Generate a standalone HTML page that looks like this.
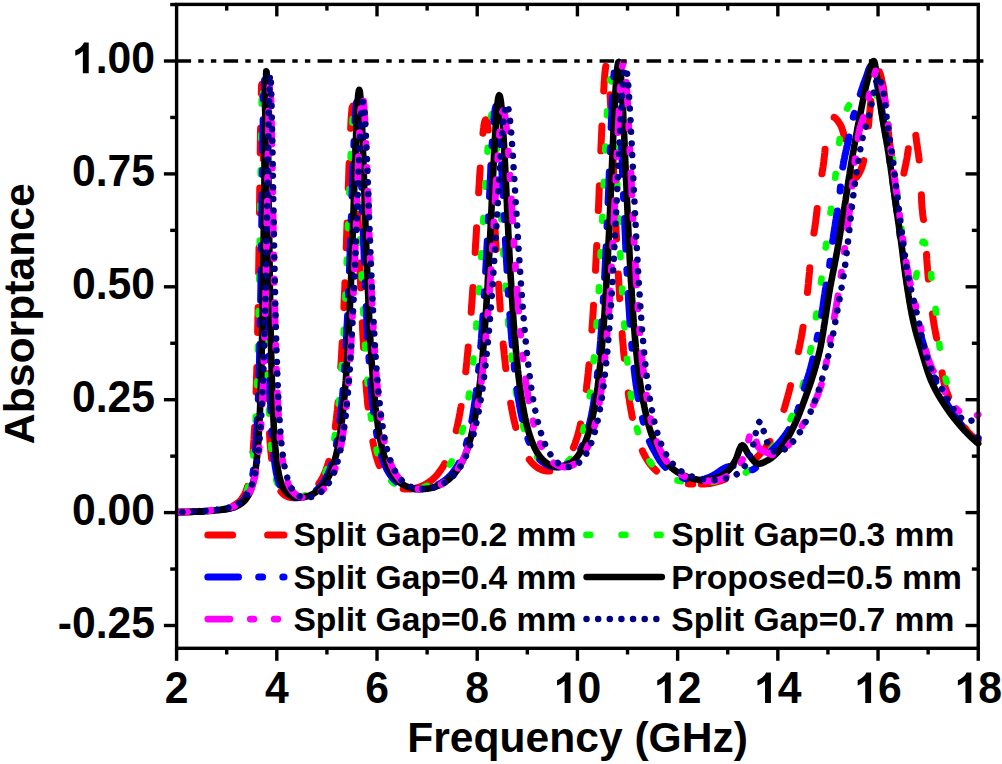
<!DOCTYPE html>
<html><head><meta charset="utf-8"><title>Absorptance vs Frequency</title>
<style>html,body{margin:0;padding:0;background:#fff;}body{width:1002px;height:764px;overflow:hidden;font-family:"Liberation Sans",sans-serif;}</style></head>
<body>
<svg width="1002" height="764" viewBox="0 0 1002 764" style="display:block;font-family:'Liberation Sans', sans-serif;font-weight:bold">
<rect x="0" y="0" width="1002" height="764" fill="#ffffff"/>
<defs><clipPath id="pc"><rect x="176.6" y="4.4" width="805.65" height="643.9"/></clipPath></defs>
<g clip-path="url(#pc)" fill="none" stroke-linejoin="round">
<path d="M176.6 512.1L177.0 512.1L177.3 512.1L177.7 512.1L178.1 512.1L178.4 512.1L178.8 512.1L179.2 512.1L179.5 512.1L179.9 512.1L180.2 512.1L180.6 512.0L181.0 512.0L181.3 512.0L181.7 512.0L182.1 512.0L182.4 512.0L182.8 512.0L183.2 512.0L183.5 512.0L183.9 512.0L184.3 512.0L184.6 512.0L185.0 511.9L185.3 511.9L185.7 511.9L186.1 511.9L186.4 511.9L186.8 511.9L187.2 511.9L187.5 511.9L187.9 511.9L188.3 511.8L188.6 511.8L189.0 511.8L189.4 511.8L189.7 511.8L190.1 511.8L190.5 511.8L190.8 511.7L191.2 511.7L191.5 511.7L191.9 511.7L192.3 511.7L192.6 511.7L193.0 511.7L193.4 511.6L193.7 511.6L194.1 511.6L194.5 511.6L194.8 511.6L195.2 511.6L195.6 511.5L195.9 511.5L196.3 511.5L196.7 511.5L197.0 511.5L197.4 511.4L197.7 511.4L198.1 511.4L198.5 511.4L198.8 511.4L199.2 511.3L199.6 511.3L199.9 511.3L200.3 511.3L200.7 511.3L201.0 511.2L201.4 511.2L201.8 511.2L202.1 511.2L202.5 511.1L202.8 511.1L203.2 511.1L203.6 511.1L203.9 511.0L204.3 511.0L204.7 511.0L205.0 511.0L205.4 510.9L205.8 510.9L206.1 510.9L206.5 510.8L206.9 510.8L207.2 510.8L207.6 510.7L208.0 510.7L208.3 510.7L208.7 510.7L209.0 510.6L209.4 510.6L209.8 510.6L210.1 510.5L210.5 510.5L210.9 510.4L211.2 510.4L211.6 510.4L212.0 510.3L212.3 510.3L212.7 510.3L213.1 510.2L213.4 510.2L213.8 510.1L214.1 510.1L214.5 510.1L214.9 510.0L215.2 510.0L215.6 509.9L216.0 509.9L216.3 509.8L216.7 509.8L217.1 509.7L217.4 509.7L217.8 509.6L218.2 509.6L218.5 509.5L218.9 509.5L219.3 509.4L219.6 509.4L220.0 509.3L220.3 509.3L220.7 509.2L221.1 509.2L221.4 509.1L221.8 509.0L222.2 509.0L222.5 508.9L222.9 508.9L223.3 508.8L223.6 508.7L224.0 508.7L224.4 508.6L224.7 508.5L225.1 508.4L225.4 508.4L225.8 508.3L226.2 508.2L226.5 508.1L226.9 508.0L227.3 508.0L227.6 507.9L228.0 507.8L228.4 507.7L228.7 507.6L229.1 507.5L229.5 507.3L229.8 507.2L230.2 507.1L230.6 507.0L230.9 506.8L231.3 506.7L231.6 506.5L232.0 506.4L232.4 506.2L232.7 506.1L233.1 505.9L233.5 505.7L233.8 505.5L234.2 505.3L234.6 505.1L234.9 504.9L235.3 504.7L235.7 504.5L236.0 504.2L236.4 504.0L236.8 503.7L237.1 503.5L237.5 503.2L237.8 502.9L238.2 502.6L238.6 502.3L238.9 502.0L239.3 501.6L239.7 501.3L240.0 500.9L240.4 500.5L240.8 500.1L241.1 499.6L241.5 499.2L241.9 498.7L242.2 498.2L242.6 497.7L242.9 497.1L243.3 496.5L243.7 495.9L244.0 495.2L244.4 494.6L244.8 493.8L245.1 493.0L245.5 492.2L245.9 491.3L246.2 490.4L246.6 489.4L247.0 488.4L247.3 487.2L247.7 486.0L248.1 484.7L248.4 483.3L248.8 481.8L249.1 480.2L249.5 478.5L249.9 476.6L250.2 474.6L250.6 472.4L251.0 469.9L251.3 467.3L251.7 464.4L252.1 461.3L252.4 457.8L252.8 454.0L253.2 449.8L253.5 445.2L253.9 440.0L254.2 434.2L254.6 427.8L255.0 420.6L255.3 412.5L255.7 403.4L256.1 393.2L256.4 381.6L256.8 368.6L257.2 353.8L257.5 337.1L257.9 318.4L258.3 297.4L258.6 274.2L259.0 248.7L259.4 221.4L259.7 192.9L260.1 164.3L260.4 137.2L260.8 113.6L261.2 95.7L261.5 85.5L261.9 84.1L262.3 91.8L262.6 107.5L263.0 129.5L263.4 155.6L263.7 183.7L264.1 212.2L264.5 239.8L264.8 265.6L265.2 289.3L265.6 310.8L265.9 330.0L266.3 347.1L266.6 362.2L267.0 375.6L267.4 387.5L267.7 397.9L268.1 407.2L268.5 415.5L268.8 422.8L269.2 429.3L269.6 435.2L269.9 440.4L270.3 445.1L270.7 449.3L271.0 453.1L271.4 456.6L271.7 459.7L272.1 462.6L272.5 465.2L272.8 467.6L273.2 469.8L273.6 471.8L273.9 473.6L274.3 475.3L274.7 476.8L275.0 478.3L275.4 479.6L275.8 480.8L276.1 482.0L276.5 483.1L276.9 484.0L277.2 485.0L277.6 485.8L277.9 486.6L278.3 487.4L278.7 488.1L279.0 488.8L279.4 489.4L279.8 490.0L280.1 490.5L280.5 491.0L280.9 491.5L281.2 491.9L281.6 492.4L282.0 492.8L282.3 493.1L282.7 493.5L283.0 493.8L283.4 494.1L283.8 494.4L284.1 494.7L284.5 495.0L284.9 495.2L285.2 495.5L285.6 495.7L286.0 495.9L286.3 496.1L286.7 496.2L287.1 496.4L287.4 496.6L287.8 496.7L288.2 496.8L288.5 497.0L288.9 497.1L289.2 497.2L289.6 497.3L290.0 497.3L290.3 497.4L290.7 497.5L291.1 497.5L291.4 497.6L291.8 497.6L292.2 497.7L292.5 497.7L292.9 497.7L293.3 497.7L293.6 497.7L294.0 497.7L294.4 497.7L294.7 497.7L295.1 497.6L295.4 497.6L295.8 497.6L296.2 497.5L296.5 497.5L296.9 497.5L297.3 497.4L297.6 497.3L298.0 497.3L298.4 497.2L298.7 497.1L299.1 497.1L299.5 497.0L299.8 496.9L300.2 496.8L300.5 496.7L300.9 496.6L301.3 496.5L301.6 496.4L302.0 496.3" stroke="#ff0000" stroke-width="7.0" stroke-linecap="round" stroke-dasharray="24.8 35" stroke-dashoffset="2.00"/>
<path d="M302.0 496.3L302.4 496.2L302.7 496.0L303.1 495.9L303.5 495.8L303.8 495.6L304.2 495.5L304.6 495.4L304.9 495.2L305.3 495.0L305.7 494.9L306.0 494.7L306.4 494.5L306.7 494.3L307.1 494.1L307.5 494.0L307.8 493.8L308.2 493.5L308.6 493.3L308.9 493.1L309.3 492.9L309.7 492.6L310.0 492.4L310.4 492.2L310.8 491.9L311.1 491.6L311.5 491.4L311.8 491.1L312.2 490.8L312.6 490.5L312.9 490.2L313.3 489.9L313.7 489.5L314.0 489.2L314.4 488.9L314.8 488.5L315.1 488.1L315.5 487.8L315.9 487.4L316.2 487.0L316.6 486.6L317.0 486.1L317.3 485.7L317.7 485.2L318.0 484.8L318.4 484.3L318.8 483.8L319.1 483.3L319.5 482.8L319.9 482.2L320.2 481.7L320.6 481.1L321.0 480.5L321.3 479.9L321.7 479.2L322.1 478.6L322.4 477.9L322.8 477.2L323.1 476.5L323.5 475.7L323.9 474.9L324.2 474.1L324.6 473.3L325.0 472.4L325.3 471.5L325.7 470.6L326.1 469.6L326.4 468.6L326.8 467.6L327.2 466.5L327.5 465.4L327.9 464.3L328.3 463.1L328.6 461.8L329.0 460.5L329.3 459.2L329.7 457.8L330.1 456.3L330.4 454.8L330.8 453.3L331.2 451.6L331.5 449.9L331.9 448.1L332.3 446.3L332.6 444.3L333.0 442.3L333.4 440.2L333.7 438.0L334.1 435.7L334.5 433.3L334.8 430.7L335.2 428.1L335.5 425.3L335.9 422.4L336.3 419.4L336.6 416.2L337.0 412.9L337.4 409.4L337.7 405.7L338.1 401.9L338.5 397.9L338.8 393.6L339.2 389.2L339.6 384.5L339.9 379.7L340.3 374.5L340.6 369.1L341.0 363.5L341.4 357.5L341.7 351.3L342.1 344.7L342.5 337.9L342.8 330.7L343.2 323.2L343.6 315.3L343.9 307.2L344.3 298.6L344.7 289.7L345.0 280.5L345.4 271.0L345.8 261.1L346.1 251.0L346.5 240.7L346.8 230.1L347.2 219.4L347.6 208.5L347.9 197.7L348.3 187.0L348.7 176.4L349.0 166.1L349.4 156.3L349.8 146.9L350.1 138.2L350.5 130.4L350.9 123.4L351.2 117.5L351.6 112.7L351.9 109.2L352.3 107.0L352.7 106.2L353.0 106.7L353.4 108.6L353.8 111.8L354.1 116.3L354.5 121.9L354.9 128.7L355.2 136.3L355.6 144.8L356.0 154.0L356.3 163.7L356.7 173.9L357.1 184.3L357.4 195.0L357.8 205.8L358.1 216.5L358.5 227.2L358.9 237.8L359.2 248.1L359.6 258.2L360.0 268.1L360.3 277.6L360.7 286.8L361.1 295.7L361.4 304.3L361.8 312.5L362.2 320.3L362.5 327.8L362.9 335.0L363.3 341.9L363.6 348.4L364.0 354.7L364.3 360.6L364.7 366.3L365.1 371.7L365.4 376.8L365.8 381.7L366.2 386.3L366.5 390.7L366.9 395.0L367.3 399.0L367.6 402.8L368.0 406.4L368.4 409.9L368.7 413.2L369.1 416.3L369.4 419.4L369.8 422.2L370.2 424.9L370.5 427.6L370.9 430.0L371.3 432.4L371.6 434.7L372.0 436.9L372.4 439.0L372.7 440.9L373.1 442.8L373.5 444.7L373.8 446.4L374.2 448.1L374.6 449.7L374.9 451.2L375.3 452.7L375.6 454.1L376.0 455.5L376.4 456.8L376.7 458.0L377.1 459.2L377.5 460.4L377.8 461.5L378.2 462.5L378.6 463.6L378.9 464.6L379.3 465.5L379.7 466.4L380.0 467.3L380.4 468.2L380.7 469.0L381.1 469.8L381.5 470.5L381.8 471.3L382.2 472.0L382.6 472.6L382.9 473.3L383.3 473.9L383.7 474.5L384.0 475.1L384.4 475.7L384.8 476.3L385.1 476.8L385.5 477.3L385.9 477.8L386.2 478.3L386.6 478.7L386.9 479.2L387.3 479.6L387.7 480.0L388.0 480.4L388.4 480.8L388.8 481.2L389.1 481.6L389.5 481.9L389.9 482.2L390.2 482.6L390.6 482.9L391.0 483.2L391.3 483.5L391.7 483.8L392.1 484.1L392.4 484.3L392.8 484.6L393.1 484.8L393.5 485.1L393.9 485.3L394.2 485.5L394.6 485.7L395.0 485.9L395.3 486.1L395.7 486.3L396.1 486.5L396.4 486.7L396.8 486.8L397.2 487.0L397.5 487.1L397.9 487.3L398.2 487.4L398.6 487.6L399.0 487.7L399.3 487.8L399.7 487.9L400.1 488.0L400.4 488.1L400.8 488.2L401.2 488.3L401.5 488.4L401.9 488.5L402.3 488.6L402.6 488.7L403.0 488.7L403.4 488.8L403.7 488.8L404.1 488.9L404.4 488.9L404.8 489.0L405.2 489.0L405.5 489.0L405.9 489.1L406.3 489.1L406.6 489.1L407.0 489.1L407.4 489.1L407.7 489.1L408.1 489.1L408.5 489.1L408.8 489.1L409.2 489.1L409.5 489.1L409.9 489.0L410.3 489.0L410.6 489.0L411.0 488.9L411.4 488.9L411.7 488.9L412.1 488.8L412.5 488.8L412.8 488.7L413.2 488.7L413.6 488.6L413.9 488.5L414.3 488.5L414.7 488.4L415.0 488.3L415.4 488.2L415.7 488.1L416.1 488.0L416.5 488.0L416.8 487.9L417.2 487.8L417.6 487.7L417.9 487.5L418.3 487.4L418.7 487.3L419.0 487.2L419.4 487.1L419.8 486.9L420.1 486.8L420.5 486.7L420.8 486.5L421.2 486.4L421.6 486.2L421.9 486.1L422.3 485.9L422.7 485.8L423.0 485.6L423.4 485.4L423.8 485.2L424.1 485.1L424.5 484.9L424.9 484.7L425.2 484.5L425.6 484.3L426.0 484.1L426.3 483.9L426.7 483.6L427.0 483.4L427.4 483.2" stroke="#ff0000" stroke-width="7.0" stroke-linecap="round" stroke-dasharray="24.8 35" stroke-dashoffset="38.36"/>
<path d="M427.4 483.2L427.8 483.0L428.1 482.7L428.5 482.5L428.9 482.2L429.2 482.0L429.6 481.7L430.0 481.4L430.3 481.2L430.7 480.9L431.1 480.6L431.4 480.3L431.8 480.0L432.2 479.7L432.5 479.4L432.9 479.1L433.2 478.7L433.6 478.4L434.0 478.1L434.3 477.7L434.7 477.3L435.1 477.0L435.4 476.6L435.8 476.2L436.2 475.8L436.5 475.4L436.9 475.0L437.3 474.6L437.6 474.2L438.0 473.7L438.3 473.3L438.7 472.8L439.1 472.3L439.4 471.8L439.8 471.4L440.2 470.8L440.5 470.3L440.9 469.8L441.3 469.3L441.6 468.7L442.0 468.1L442.4 467.6L442.7 467.0L443.1 466.4L443.5 465.7L443.8 465.1L444.2 464.5L444.5 463.8L444.9 463.1L445.3 462.4L445.6 461.7L446.0 461.0L446.4 460.2L446.7 459.4L447.1 458.6L447.5 457.8L447.8 457.0L448.2 456.2L448.6 455.3L448.9 454.4L449.3 453.5L449.6 452.5L450.0 451.6L450.4 450.6L450.7 449.6L451.1 448.5L451.5 447.5L451.8 446.4L452.2 445.3L452.6 444.1L452.9 442.9L453.3 441.7L453.7 440.5L454.0 439.2L454.4 437.9L454.8 436.5L455.1 435.1L455.5 433.7L455.8 432.3L456.2 430.7L456.6 429.2L456.9 427.6L457.3 426.0L457.7 424.3L458.0 422.6L458.4 420.8L458.8 419.0L459.1 417.1L459.5 415.1L459.9 413.1L460.2 411.1L460.6 409.0L461.0 406.8L461.3 404.6L461.7 402.3L462.0 399.9L462.4 397.5L462.8 395.0L463.1 392.4L463.5 389.7L463.9 387.0L464.2 384.1L464.6 381.2L465.0 378.2L465.3 375.2L465.7 372.0L466.1 368.7L466.4 365.4L466.8 361.9L467.1 358.3L467.5 354.7L467.9 350.9L468.2 347.0L468.6 343.0L469.0 338.9L469.3 334.7L469.7 330.4L470.1 325.9L470.4 321.4L470.8 316.7L471.2 311.9L471.5 307.0L471.9 302.0L472.3 296.8L472.6 291.5L473.0 286.2L473.3 280.7L473.7 275.1L474.1 269.4L474.4 263.6L474.8 257.7L475.2 251.7L475.5 245.7L475.9 239.6L476.3 233.4L476.6 227.2L477.0 221.0L477.4 214.7L477.7 208.5L478.1 202.3L478.4 196.1L478.8 190.1L479.2 184.0L479.5 178.2L479.9 172.4L480.3 166.8L480.6 161.4L481.0 156.2L481.4 151.3L481.7 146.6L482.1 142.2L482.5 138.1L482.8 134.4L483.2 131.1L483.6 128.2L483.9 125.6L484.3 123.5L484.6 121.9L485.0 120.7L485.4 120.0L485.7 119.7L486.1 119.9L486.5 120.6L486.8 121.8L487.2 123.4L487.6 125.4L487.9 127.9L488.3 130.8L488.7 134.1L489.0 137.7L489.4 141.7L489.8 146.0L490.1 150.7L490.5 155.5L490.8 160.7L491.2 166.0L491.6 171.5L491.9 177.2L492.3 183.1L492.7 189.0L493.0 195.0L493.4 201.1L493.8 207.3L494.1 213.4L494.5 219.6L494.9 225.8L495.2 231.9L495.6 238.0L495.9 244.0L496.3 250.0L496.7 255.9L497.0 261.7L497.4 267.4L497.8 273.1L498.1 278.6L498.5 284.0L498.9 289.3L499.2 294.5L499.6 299.6L500.0 304.6L500.3 309.4L500.7 314.1L501.1 318.7L501.4 323.2L501.8 327.6L502.1 331.9L502.5 336.0L502.9 340.0L503.2 344.0L503.6 347.8L504.0 351.5L504.3 355.1L504.7 358.6L505.1 362.0L505.4 365.2L505.8 368.4L506.2 371.5L506.5 374.6L506.9 377.5L507.2 380.3L507.6 383.1L508.0 385.7L508.3 388.3L508.7 390.9L509.1 393.3L509.4 395.7L509.8 398.0L510.2 400.2L510.5 402.4L510.9 404.5L511.3 406.5L511.6 408.5L512.0 410.4L512.4 412.3L512.7 414.1L513.1 415.9L513.4 417.6L513.8 419.2L514.2 420.9L514.5 422.4L514.9 423.9L515.3 425.4L515.6 426.9L516.0 428.2L516.4 429.6L516.7 430.9L517.1 432.2L517.5 433.4L517.8 434.6L518.2 435.8L518.5 437.0L518.9 438.1L519.3 439.2L519.6 440.2L520.0 441.2L520.4 442.2L520.7 443.2L521.1 444.1L521.5 445.0L521.8 445.9L522.2 446.8L522.6 447.6L522.9 448.4L523.3 449.2L523.7 450.0L524.0 450.7L524.4 451.5L524.7 452.2L525.1 452.9L525.5 453.6L525.8 454.2L526.2 454.8L526.6 455.5L526.9 456.1L527.3 456.6L527.7 457.2L528.0 457.8L528.4 458.3L528.8 458.8L529.1 459.3L529.5 459.8L529.9 460.3L530.2 460.8L530.6 461.2L530.9 461.7L531.3 462.1L531.7 462.5L532.0 462.9L532.4 463.3L532.8 463.7L533.1 464.0L533.5 464.4L533.9 464.7L534.2 465.1L534.6 465.4L535.0 465.7L535.3 466.0L535.7 466.3L536.0 466.6L536.4 466.8L536.8 467.1L537.1 467.3L537.5 467.6L537.9 467.8L538.2 468.1L538.6 468.3L539.0 468.5L539.3 468.7L539.7 468.9L540.1 469.0L540.4 469.2L540.8 469.4L541.2 469.5L541.5 469.7L541.9 469.8L542.2 470.0L542.6 470.1L543.0 470.2L543.3 470.3L543.7 470.4L544.1 470.5L544.4 470.6L544.8 470.7L545.2 470.7L545.5 470.8L545.9 470.9L546.3 470.9L546.6 471.0L547.0 471.0L547.3 471.0L547.7 471.0L548.1 471.0L548.4 471.1L548.8 471.0L549.2 471.0L549.5 471.0L549.9 471.0L550.3 471.0L550.6 470.9L551.0 470.9L551.4 470.8L551.7 470.7L552.1 470.7L552.5 470.6L552.8 470.5L553.2 470.4L553.5 470.3L553.9 470.2L554.3 470.1L554.6 469.9L555.0 469.8L555.4 469.6L555.7 469.5L556.1 469.3L556.5 469.2L556.8 469.0L557.2 468.8L557.6 468.6L557.9 468.4L558.3 468.2L558.7 467.9L559.0 467.7L559.4 467.4L559.7 467.2L560.1 466.9L560.5 466.6L560.8 466.4L561.2 466.1L561.6 465.8L561.9 465.4L562.3 465.1L562.7 464.8L563.0 464.4L563.4 464.0L563.8 463.7L564.1 463.3L564.5 462.9L564.8 462.4L565.2 462.0L565.6 461.6L565.9 461.1L566.3 460.6L566.7 460.1L567.0 459.6L567.4 459.1L567.8 458.6L568.1 458.0L568.5 457.4L568.9 456.8L569.2 456.2L569.6 455.6L570.0 455.0L570.3 454.3L570.7 453.6L571.0 452.9L571.4 452.2L571.8 451.4L572.1 450.6L572.5 449.8L572.9 449.0L573.2 448.1L573.6 447.3L574.0 446.4L574.3 445.4L574.7 444.5L575.1 443.5L575.4 442.4L575.8 441.4L576.1 440.3L576.5 439.1L576.9 438.0L577.2 436.8L577.6 435.5L578.0 434.2L578.3 432.9L578.7 431.5L579.1 430.1L579.4 428.6L579.8 427.1L580.2 425.6L580.5 423.9L580.9 422.3L581.3 420.5L581.6 418.7L582.0 416.9L582.3 415.0L582.7 413.0L583.1 410.9L583.4 408.8L583.8 406.6L584.2 404.3L584.5 401.9L584.9 399.5L585.3 396.9L585.6 394.3L586.0 391.5L586.4 388.7L586.7 385.8L587.1 382.7L587.5 379.5L587.8 376.3L588.2 372.9L588.5 369.3L588.9 365.7L589.3 361.8L589.6 357.9L590.0 353.8L590.4 349.6L590.7 345.1L591.1 340.6L591.5 335.8L591.8 330.9L592.2 325.8L592.6 320.5L592.9 315.1L593.3 309.4L593.6 303.5L594.0 297.4L594.4 291.2L594.7 284.7L595.1 278.0L595.5 271.1L595.8 264.0L596.2 256.6L596.6 249.1L596.9 241.4L597.3 233.5L597.7 225.4L598.0 217.2L598.4 208.8L598.8 200.3L599.1 191.7L599.5 183.0L599.8 174.3L600.2 165.5L600.6 156.8L600.9 148.2L601.3 139.7L601.7 131.3L602.0 123.2L602.4 115.3L602.8 107.8L603.1 100.7L603.5 94.0L603.9 87.9L604.2 82.3L604.6 77.3L604.9 73.1L605.3 69.5L605.7 66.8L606.0 64.8L606.4 63.6L606.8 63.3L607.1 63.7L607.5 65.1L607.9 67.2L608.2 70.0L608.6 73.7L609.0 78.0L609.3 83.0L609.7 88.6L610.1 94.8L610.4 101.4L610.8 108.5L611.1 116.0L611.5 123.8L611.9 131.8L612.2 140.1L612.6 148.5L613.0 157.1L613.3 165.7L613.7 174.3L614.1 182.9L614.4 191.4L614.8 199.9L615.2 208.3L615.5 216.5L615.9 224.6L616.2 232.5L616.6 240.3L617.0 247.8L617.3 255.2L617.7 262.4L618.1 269.4L618.4 276.1L618.8 282.7L619.2 289.1L619.5 295.2L619.9 301.2L620.3 306.9L620.6 312.5L621.0 317.8L621.4 323.0L621.7 328.0L622.1 332.8L622.4 337.5L622.8 342.0L623.2 346.3L623.5 350.5L623.9 354.5L624.3 358.3L624.6 362.1L625.0 365.7L625.4 369.1L625.7 372.5L626.1 375.7L626.5 378.8L626.8 381.8L627.2 384.7L627.6 387.6L627.9 390.3L628.3 393.0L628.6 395.6L629.0 398.1L629.4 400.5L629.7 402.8L630.1 405.0L630.5 407.2L630.8 409.3L631.2 411.3L631.6 413.3L631.9 415.2L632.3 417.0L632.7 418.8L633.0 420.5L633.4 422.2L633.7 423.8L634.1 425.3L634.5 426.8L634.8 428.3L635.2 429.7L635.6 431.1L635.9 432.5L636.3 433.8L636.7 435.0L637.0 436.3L637.4 437.5L637.8 438.6L638.1 439.7L638.5 440.8L638.9 441.9L639.2 442.9L639.6 443.9L639.9 444.9L640.3 445.9L640.7 446.8L641.0 447.7L641.4 448.6L641.8 449.4L642.1 450.3L642.5 451.1L642.9 451.8L643.2 452.6L643.6 453.4L644.0 454.1L644.3 454.8L644.7 455.5L645.0 456.2L645.4 456.8L645.8 457.5L646.1 458.1L646.5 458.7L646.9 459.3L647.2 459.9L647.6 460.5L648.0 461.0L648.3 461.6L648.7 462.1L649.1 462.6L649.4 463.1L649.8 463.6L650.2 464.1L650.5 464.6L650.9 465.0L651.2 465.5L651.6 465.9L652.0 466.4L652.3 466.8L652.7 467.2L653.1 467.6L653.4 468.0L653.8 468.4L654.2 468.7L654.5 469.1L654.9 469.5L655.3 469.8L655.6 470.2L656.0 470.5L656.4 470.9L656.7 471.2L657.1 471.5L657.4 471.8L657.8 472.1L658.2 472.4L658.5 472.7L658.9 473.0L659.3 473.3L659.6 473.5L660.0 473.8L660.4 474.1L660.7 474.3L661.1 474.6L661.5 474.8L661.8 475.1L662.2 475.3L662.5 475.5L662.9 475.8L663.3 476.0L663.6 476.2L664.0 476.4L664.4 476.6L664.7 476.9L665.1 477.1L665.5 477.3L665.8 477.4L666.2 477.6L666.6 477.8L666.9 478.0L667.3 478.2L667.7 478.4L668.0 478.5L668.4 478.7L668.7 478.9L669.1 479.0L669.5 479.2L669.8 479.3L670.2 479.5L670.6 479.6L670.9 479.8L671.3 479.9L671.7 480.1L672.0 480.2L672.4 480.3L672.8 480.5L673.1 480.6L673.5 480.7L673.8 480.8L674.2 481.0L674.6 481.1L674.9 481.2L675.3 481.3L675.7 481.4L676.0 481.5L676.4 481.6L676.8 481.7L677.1 481.8L677.5 481.9L677.9 482.0L678.2 482.1L678.6 482.2L679.0 482.3L679.3 482.4L679.7 482.5L680.0 482.5L680.4 482.6L680.8 482.7L681.1 482.8L681.5 482.8L681.9 482.9L682.2 483.0L682.6 483.0L683.0 483.1L683.3 483.2L683.7 483.2L684.1 483.3L684.4 483.3L684.8 483.4L685.2 483.5L685.5 483.5L685.9 483.6L686.2 483.6L686.6 483.6L687.0 483.7L687.3 483.7L687.7 483.8L688.1 483.8L688.4 483.8L688.8 483.9L689.2 483.9L689.5 483.9L689.9 484.0L690.3 484.0L690.6 484.0L691.0 484.1L691.3 484.1L691.7 484.1L692.1 484.1L692.4 484.1L692.8 484.1" stroke="#ff0000" stroke-width="7.0" stroke-linecap="round" stroke-dasharray="24.8 35" stroke-dashoffset="58.11"/>
<path d="M692.8 484.1L693.2 484.1L693.5 484.1L693.9 484.1L694.3 484.1L694.6 484.1L695.0 484.1L695.4 484.1L695.7 484.1L696.1 484.1L696.5 484.1L696.8 484.1L697.2 484.1L697.5 484.1L697.9 484.1L698.3 484.1L698.6 484.1L699.0 484.1L699.4 484.1L699.7 484.0L700.1 484.0L700.5 484.0L700.8 484.0L701.2 484.0L701.6 484.0L701.9 484.0L702.3 484.0L702.6 483.9L703.0 483.9L703.4 483.9L703.7 483.9L704.1 483.9L704.5 483.9L704.8 483.8L705.2 483.8L705.6 483.8L705.9 483.8L706.3 483.8L706.7 483.8L707.0 483.7L707.4 483.7L707.8 483.7L708.1 483.7L708.5 483.6L708.8 483.6L709.2 483.6L709.6 483.5L709.9 483.5L710.3 483.4L710.7 483.3L711.0 483.3L711.4 483.2L711.8 483.1L712.1 483.1L712.5 483.0L712.9 482.9L713.2 482.8L713.6 482.7L713.9 482.6L714.3 482.5L714.7 482.4L715.0 482.3L715.4 482.2L715.8 482.1L716.1 482.0L716.5 481.9L716.9 481.8L717.2 481.7L717.6 481.6L718.0 481.5L718.3 481.4L718.7 481.3L719.1 481.2L719.4 481.1L719.8 481.0L720.1 480.9L720.5 480.8L720.9 480.6L721.2 480.5L721.6 480.4L722.0 480.3L722.3 480.2L722.7 480.0L723.1 479.9L723.4 479.8L723.8 479.6L724.2 479.5L724.5 479.4L724.9 479.2L725.3 479.1L725.6 479.0L726.0 478.8L726.3 478.7L726.7 478.5L727.1 478.4L727.4 478.2L727.8 478.1L728.2 477.9L728.5 477.7L728.9 477.6L729.3 477.4L729.6 477.3L730.0 477.1L730.4 476.9L730.7 476.8L731.1 476.6L731.4 476.4L731.8 476.2L732.2 476.1L732.5 475.9L732.9 475.7L733.3 475.5L733.6 475.3L734.0 475.1L734.4 475.0L734.7 474.8L735.1 474.6L735.5 474.4L735.8 474.2L736.2 474.0L736.6 473.8L736.9 473.6L737.3 473.4L737.6 473.2L738.0 473.0L738.4 472.8L738.7 472.6L739.1 472.3L739.5 472.1L739.8 471.9L740.2 471.7L740.6 471.5L740.9 471.2L741.3 471.0L741.7 470.8L742.0 470.5L742.4 470.3L742.7 470.0L743.1 469.8L743.5 469.5L743.8 469.3L744.2 469.0L744.6 468.7L744.9 468.4L745.3 468.2L745.7 467.9L746.0 467.6L746.4 467.3L746.8 467.0L747.1 466.7L747.5 466.4L747.9 466.1L748.2 465.8L748.6 465.5L748.9 465.2L749.3 464.8L749.7 464.5L750.0 464.2L750.4 463.9L750.8 463.5L751.1 463.2L751.5 462.8L751.9 462.5L752.2 462.1L752.6 461.8L753.0 461.4L753.3 461.1L753.7 460.7L754.1 460.4L754.4 460.0L754.8 459.6L755.1 459.2L755.5 458.9L755.9 458.5L756.2 458.1L756.6 457.7L757.0 457.3L757.3 456.9L757.7 456.6L758.1 456.2L758.4 455.8L758.8 455.4L759.2 455.0L759.5 454.6L759.9 454.1L760.2 453.7L760.6 453.3L761.0 452.9L761.3 452.5L761.7 452.1L762.1 451.7L762.4 451.2L762.8 450.8L763.2 450.4L763.5 449.9L763.9 449.5L764.3 449.0L764.6 448.6L765.0 448.1L765.4 447.7L765.7 447.2L766.1 446.7L766.4 446.2L766.8 445.7L767.2 445.2L767.5 444.7L767.9 444.2L768.3 443.7L768.6 443.2L769.0 442.7L769.4 442.1L769.7 441.6L770.1 441.1L770.5 440.5L770.8 439.9L771.2 439.4L771.5 438.8L771.9 438.2L772.3 437.6L772.6 437.0L773.0 436.3L773.4 435.7L773.7 435.1L774.1 434.4L774.5 433.8L774.8 433.1L775.2 432.4L775.6 431.7L775.9 431.0L776.3 430.3L776.7 429.5L777.0 428.8L777.4 428.1L777.7 427.3L778.1 426.5L778.5 425.6L778.8 424.7L779.2 423.8L779.6 422.9L779.9 421.9L780.3 420.9L780.7 419.9L781.0 418.8L781.4 417.8L781.8 416.7L782.1 415.5L782.5 414.4L782.9 413.3L783.2 412.1L783.6 410.9L783.9 409.7L784.3 408.5L784.7 407.2L785.0 406.0L785.4 404.7L785.8 403.5L786.1 402.2L786.5 400.9L786.9 399.6L787.2 398.3L787.6 397.0L788.0 395.7L788.3 394.4L788.7 393.1L789.0 391.7L789.4 390.3L789.8 388.8L790.1 387.3L790.5 385.8L790.9 384.3L791.2 382.8L791.6 381.2L792.0 379.7L792.3 378.1L792.7 376.5L793.1 374.9L793.4 373.3L793.8 371.7L794.2 370.1L794.5 368.6L794.9 367.0L795.2 365.4L795.6 363.8L796.0 362.3L796.3 360.7L796.7 359.1L797.1 357.6L797.4 356.0L797.8 354.4L798.2 352.8L798.5 351.1L798.9 349.4L799.3 347.7L799.6 346.0L800.0 344.2L800.3 342.4L800.7 340.5L801.1 338.6L801.4 336.6L801.8 334.6L802.2 332.5L802.5 330.3L802.9 328.1L803.3 325.8L803.6 323.5L804.0 321.1L804.4 318.6L804.7 316.0L805.1 313.3L805.5 310.6L805.8 307.7L806.2 304.8L806.5 301.5L806.9 298.1L807.3 294.5L807.6 290.8L808.0 287.1L808.4 283.3L808.7 279.5L809.1 275.7L809.5 271.8L809.8 267.7L810.2 263.5L810.6 259.5L810.9 255.7L811.3 252.2L811.6 249.1L812.0 246.2L812.4 243.5L812.7 240.9L813.1 238.4L813.5 236.1L813.8 233.7L814.2 231.4L814.6 229.0L814.9 226.6L815.3 224.1L815.7 221.5L816.0 218.7L816.4 215.7L816.8 212.5L817.1 209.3L817.5 206.0L817.8 202.7L818.2 199.4L818.6 196.3L818.9 193.3L819.3 190.5L819.7 187.9L820.0 185.5L820.4 183.1L820.8 180.8L821.1 178.6L821.5 176.4L821.9 174.2L822.2 172.0L822.6 169.7L823.0 167.3L823.3 164.9L823.7 162.2L824.0 159.5L824.4 156.2L824.8 152.6L825.1 148.7L825.5 144.9L825.9 141.2L826.2 137.9L826.6 135.2L827.0 133.2L827.3 131.6L827.7 130.0L828.1 128.5L828.4 127.1L828.8 125.7L829.1 124.4L829.5 123.1L829.9 122.0L830.2 121.0L830.6 120.0L831.0 119.2L831.3 118.5L831.7 117.9L832.1 117.5L832.4 117.2L832.8 117.0L833.2 117.0L833.5 117.1L833.9 117.2L834.3 117.3L834.6 117.5L835.0 117.8L835.3 118.1L835.7 118.4L836.1 118.8L836.4 119.2L836.8 119.6L837.2 120.0L837.5 120.5L837.9 121.0L838.3 121.5L838.6 122.1L839.0 122.6L839.4 123.2L839.7 123.7L840.1 124.3L840.4 124.9L840.8 125.6L841.2 126.4L841.5 127.3L841.9 128.3L842.3 129.3L842.6 130.5L843.0 131.6L843.4 132.9L843.7 134.2L844.1 135.5L844.5 136.8L844.8 138.2L845.2 139.5L845.6 140.8L845.9 142.1L846.3 143.4L846.6 144.7L847.0 146.0L847.4 147.5L847.7 149.0L848.1 150.7L848.5 152.4L848.8 154.1L849.2 155.9L849.6 157.7L849.9 159.5L850.3 161.3L850.7 163.0L851.0 164.8L851.4 166.5L851.8 168.1L852.1 169.6L852.5 171.1L852.8 172.4L853.2 173.6L853.6 174.7L853.9 175.6L854.3 176.4L854.7 177.0L855.0 177.3L855.4 177.5L855.8 177.5L856.1 177.3L856.5 177.1L856.9 176.8L857.2 176.4L857.6 175.9L857.9 175.3L858.3 174.7L858.7 174.1L859.0 173.5L859.4 172.8L859.8 172.1L860.1 171.4L860.5 170.6L860.9 169.8L861.2 168.9L861.6 168.0L862.0 166.9L862.3 165.8L862.7 164.6L863.1 163.3L863.4 161.9L863.8 160.5L864.1 158.9L864.5 157.3L864.9 155.6L865.2 153.8L865.6 151.9L866.0 149.9L866.3 147.8L866.7 145.1L867.1 141.9L867.4 138.1L867.8 134.0L868.2 129.6L868.5 125.3L868.9 121.0L869.2 117.0L869.6 113.5L870.0 109.9L870.3 106.4L870.7 102.9L871.1 99.6L871.4 96.6L871.8 94.0L872.2 91.9L872.5 89.9L872.9 87.8L873.3 85.9L873.6 83.9L874.0 82.1L874.4 80.3L874.7 78.6L875.1 77.0L875.4 75.5L875.8 74.2L876.2 73.0L876.5 72.0L876.9 71.2L877.3 70.6L877.6 70.2L878.0 70.0L878.4 70.1L878.7 70.5L879.1 71.0L879.5 71.8L879.8 72.7L880.2 73.8L880.6 75.0L880.9 76.4L881.3 77.8L881.6 79.4L882.0 81.0L882.4 82.7L882.7 84.4L883.1 86.1L883.5 88.1L883.8 90.5L884.2 93.3L884.6 96.3L884.9 99.5L885.3 102.8L885.7 106.2L886.0 109.5L886.4 112.7L886.7 115.9L887.1 119.4L887.5 123.1L887.8 126.8L888.2 130.4L888.6 134.0L888.9 137.5L889.3 140.7L889.7 143.6L890.0 146.1L890.4 148.4L890.8 150.6L891.1 152.7L891.5 154.8L891.9 156.8L892.2 158.7L892.6 160.5L892.9 162.3L893.3 163.9L893.7 165.5L894.0 166.9L894.4 168.2L894.8 169.4L895.1 170.5L895.5 171.4L895.9 172.3L896.2 173.1L896.6 174.0L897.0 174.8L897.3 175.6L897.7 176.3L898.0 177.0L898.4 177.7L898.8 178.3L899.1 178.8L899.5 179.3L899.9 179.6L900.2 179.9L900.6 180.1L901.0 180.2L901.3 180.2L901.7 179.8L902.1 179.2L902.4 178.4L902.8 177.4L903.2 176.1L903.5 174.7L903.9 173.2L904.2 171.6L904.6 169.8L905.0 168.0L905.3 166.2L905.7 164.4L906.1 162.5L906.4 160.7L906.8 158.9L907.2 156.8L907.5 154.4L907.9 151.8L908.3 149.0L908.6 146.3L909.0 143.5L909.3 140.9L909.7 138.4L910.1 136.2L910.4 134.4L910.8 132.9L911.2 131.5L911.5 130.0L911.9 128.7L912.3 127.5L912.6 126.4L913.0 125.7L913.4 125.2L913.7 125.2L914.1 125.8L914.5 127.0L914.8 128.8L915.2 131.0L915.5 133.5L915.9 136.3L916.3 139.1L916.6 141.9L917.0 144.6L917.4 147.1L917.7 149.5L918.1 151.9L918.5 154.5L918.8 157.2L919.2 160.1L919.6 163.4L919.9 167.1L920.3 171.4L920.7 177.2L921.0 185.9L921.4 195.4L921.7 203.4L922.1 208.2L922.5 212.0L922.8 215.2L923.2 217.9L923.6 220.3L923.9 222.8L924.3 225.4L924.7 228.3L925.0 231.8L925.4 236.2L925.8 241.7L926.1 247.8L926.5 254.1L926.8 260.0L927.2 265.1L927.6 269.6L927.9 273.9L928.3 278.0L928.7 281.8L929.0 285.5L929.4 289.0L929.8 292.4L930.1 295.6L930.5 298.7L930.9 301.8L931.2 304.8L931.6 307.6L932.0 310.4L932.3 313.1L932.7 315.7L933.0 318.2L933.4 320.6L933.8 323.0L934.1 325.2L934.5 327.4L934.9 329.4L935.2 331.3L935.6 333.1L936.0 334.9L936.3 336.7L936.7 338.4L937.1 340.2L937.4 342.0L937.8 343.8L938.1 345.8L938.5 347.8L938.9 349.9L939.2 352.3L939.6 354.8L940.0 357.4L940.3 360.1L940.7 362.8L941.1 365.6L941.4 368.3L941.8 370.9L942.2 373.4L942.5 375.7L942.9 377.9L943.3 379.8L943.6 381.4L944.0 382.8L944.3 384.1L944.7 385.4L945.1 386.7L945.4 387.9L945.8 389.0L946.2 390.1L946.5 391.2L946.9 392.2L947.3 393.2L947.6 394.1L948.0 395.1L948.4 396.0L948.7 396.8L949.1 397.7L949.5 398.5L949.8 399.3L950.2 400.1L950.5 400.9L950.9 401.7L951.3 402.4L951.6 403.2L952.0 403.9L952.4 404.6L952.7 405.4L953.1 406.1L953.5 406.9L953.8 407.6L954.2 408.4L954.6 409.1L954.9 409.9L955.3 410.6L955.6 411.4L956.0 412.1L956.4 412.9L956.7 413.6L957.1 414.3L957.5 415.0L957.8 415.8L958.2 416.5L958.6 417.2L958.9 417.9L959.3 418.6L959.7 419.2L960.0 419.9L960.4 420.6L960.8 421.2L961.1 421.9L961.5 422.5L961.8 423.2L962.2 423.8L962.6 424.4L962.9 425.0L963.3 425.6L963.7 426.1L964.0 426.7L964.4 427.3L964.8 427.8L965.1 428.3L965.5 428.8L965.9 429.3L966.2 429.8L966.6 430.3L966.9 430.7L967.3 431.2L967.7 431.6L968.0 432.0L968.4 432.4L968.8 432.8L969.1 433.2L969.5 433.6L969.9 433.9L970.2 434.3L970.6 434.7L971.0 435.0L971.3 435.4L971.7 435.7L972.1 436.0L972.4 436.4L972.8 436.7L973.1 437.0L973.5 437.3L973.9 437.6L974.2 437.9L974.6 438.2L975.0 438.4L975.3 438.7L975.7 438.9L976.1 439.2L976.4 439.4L976.8 439.6L977.2 439.8L977.5 440.0L977.9 440.2L978.2 440.3" stroke="#ff0000" stroke-width="7.0" stroke-linecap="round" stroke-dasharray="24.8 35" stroke-dashoffset="51.49"/>
<path d="M176.6 512.2L177.0 512.2L177.3 512.1L177.7 512.1L178.1 512.1L178.4 512.1L178.8 512.1L179.2 512.1L179.5 512.1L179.9 512.1L180.2 512.1L180.6 512.1L181.0 512.1L181.3 512.1L181.7 512.1L182.1 512.1L182.4 512.1L182.8 512.0L183.2 512.0L183.5 512.0L183.9 512.0L184.3 512.0L184.6 512.0L185.0 512.0L185.3 512.0L185.7 512.0L186.1 512.0L186.4 512.0L186.8 511.9L187.2 511.9L187.5 511.9L187.9 511.9L188.3 511.9L188.6 511.9L189.0 511.9L189.4 511.9L189.7 511.8L190.1 511.8L190.5 511.8L190.8 511.8L191.2 511.8L191.5 511.8L191.9 511.8L192.3 511.8L192.6 511.7L193.0 511.7L193.4 511.7L193.7 511.7L194.1 511.7L194.5 511.7L194.8 511.6L195.2 511.6L195.6 511.6L195.9 511.6L196.3 511.6L196.7 511.6L197.0 511.5L197.4 511.5L197.7 511.5L198.1 511.5L198.5 511.5L198.8 511.4L199.2 511.4L199.6 511.4L199.9 511.4L200.3 511.4L200.7 511.3L201.0 511.3L201.4 511.3L201.8 511.3L202.1 511.3L202.5 511.2L202.8 511.2L203.2 511.2L203.6 511.2L203.9 511.1L204.3 511.1L204.7 511.1L205.0 511.1L205.4 511.0L205.8 511.0L206.1 511.0L206.5 511.0L206.9 510.9L207.2 510.9L207.6 510.9L208.0 510.8L208.3 510.8L208.7 510.8L209.0 510.8L209.4 510.7L209.8 510.7L210.1 510.7L210.5 510.6L210.9 510.6L211.2 510.6L211.6 510.5L212.0 510.5L212.3 510.5L212.7 510.4L213.1 510.4L213.4 510.3L213.8 510.3L214.1 510.3L214.5 510.2L214.9 510.2L215.2 510.1L215.6 510.1L216.0 510.1L216.3 510.0L216.7 510.0L217.1 509.9L217.4 509.9L217.8 509.8L218.2 509.8L218.5 509.7L218.9 509.7L219.3 509.6L219.6 509.6L220.0 509.5L220.3 509.5L220.7 509.4L221.1 509.4L221.4 509.3L221.8 509.3L222.2 509.2L222.5 509.2L222.9 509.1L223.3 509.0L223.6 509.0L224.0 508.9L224.4 508.8L224.7 508.8L225.1 508.7L225.4 508.6L225.8 508.6L226.2 508.5L226.5 508.4L226.9 508.3L227.3 508.2L227.6 508.2L228.0 508.1L228.4 508.0L228.7 507.9L229.1 507.8L229.5 507.7L229.8 507.6L230.2 507.4L230.6 507.3L230.9 507.2L231.3 507.1L231.6 506.9L232.0 506.8L232.4 506.6L232.7 506.5L233.1 506.3L233.5 506.2L233.8 506.0L234.2 505.8L234.6 505.6L234.9 505.4L235.3 505.2L235.7 505.0L236.0 504.8L236.4 504.6L236.8 504.3L237.1 504.1L237.5 503.8L237.8 503.6L238.2 503.3L238.6 503.0L238.9 502.7L239.3 502.4L239.7 502.0L240.0 501.7L240.4 501.3L240.8 501.0L241.1 500.6L241.5 500.2L241.9 499.7L242.2 499.3L242.6 498.8L242.9 498.3L243.3 497.8L243.7 497.2L244.0 496.6L244.4 496.0L244.8 495.3L245.1 494.6L245.5 493.9L245.9 493.1L246.2 492.3L246.6 491.4L247.0 490.5L247.3 489.5L247.7 488.5L248.1 487.3L248.4 486.1L248.8 484.8L249.1 483.4L249.5 481.9L249.9 480.3L250.2 478.6L250.6 476.7L251.0 474.6L251.3 472.4L251.7 470.0L252.1 467.4L252.4 464.5L252.8 461.3L253.2 457.9L253.5 454.1L253.9 449.8L254.2 445.2L254.6 440.0L255.0 434.2L255.3 427.8L255.7 420.6L256.1 412.5L256.4 403.4L256.8 393.2L257.2 381.6L257.5 368.5L257.9 353.8L258.3 337.1L258.6 318.3L259.0 297.4L259.4 274.0L259.7 248.5L260.1 221.1L260.4 192.4L260.8 163.5L261.2 136.0L261.5 112.0L261.9 93.6L262.3 82.7L262.6 80.8L263.0 88.0L263.4 103.3L263.7 125.2L264.1 151.3L264.5 179.6L264.8 208.3L265.2 236.2L265.6 262.4L265.9 286.5L266.3 308.2L266.6 327.7L267.0 345.1L267.4 360.4L267.7 374.0L268.1 386.1L268.5 396.7L268.8 406.1L269.2 414.5L269.6 421.9L269.9 428.6L270.3 434.5L270.7 439.8L271.0 444.6L271.4 448.9L271.7 452.7L272.1 456.3L272.5 459.4L272.8 462.3L273.2 465.0L273.6 467.4L273.9 469.6L274.3 471.6L274.7 473.5L275.0 475.2L275.4 476.7L275.8 478.2L276.1 479.5L276.5 480.8L276.9 481.9L277.2 483.0L277.6 484.0L277.9 485.0L278.3 485.8L278.7 486.6L279.0 487.4L279.4 488.1L279.8 488.8L280.1 489.4L280.5 490.0L280.9 490.5L281.2 491.0L281.6 491.5L282.0 492.0L282.3 492.4L282.7 492.8L283.0 493.2L283.4 493.5L283.8 493.9L284.1 494.2L284.5 494.5L284.9 494.8L285.2 495.0L285.6 495.3L286.0 495.5L286.3 495.7L286.7 495.9L287.1 496.1L287.4 496.3L287.8 496.4L288.2 496.6L288.5 496.7L288.9 496.9L289.2 497.0L289.6 497.1L290.0 497.2L290.3 497.3L290.7 497.4L291.1 497.4L291.4 497.5L291.8 497.5L292.2 497.6L292.5 497.6L292.9 497.7L293.3 497.7L293.6 497.7L294.0 497.7L294.4 497.7L294.7 497.7L295.1 497.7L295.4 497.7L295.8 497.6L296.2 497.6L296.5 497.6L296.9 497.5L297.3 497.5L297.6 497.4L298.0 497.4L298.4 497.3L298.7 497.3L299.1 497.2L299.5 497.1L299.8 497.0L300.2 497.0L300.5 496.9L300.9 496.8L301.3 496.7L301.6 496.6L302.0 496.5L302.4 496.4L302.7 496.2L303.1 496.1L303.5 496.0L303.8 495.9L304.2 495.7L304.6 495.6L304.9 495.4L305.3 495.3L305.7 495.1L306.0 495.0L306.4 494.8L306.7 494.6L307.1 494.4L307.5 494.3L307.8 494.1L308.2 493.9L308.6 493.7L308.9 493.5L309.3 493.2L309.7 493.0L310.0 492.8L310.4 492.5L310.8 492.3L311.1 492.0L311.5 491.8L311.8 491.5L312.2 491.2L312.6 490.9L312.9 490.7L313.3 490.4L313.7 490.0L314.0 489.7L314.4 489.4L314.8 489.1L315.1 488.7L315.5 488.3L315.9 488.0L316.2 487.6L316.6 487.2L317.0 486.8L317.3 486.4L317.7 485.9L318.0 485.5L318.4 485.0L318.8 484.6L319.1 484.1L319.5 483.6L319.9 483.1L320.2 482.5L320.6 482.0L321.0 481.4L321.3 480.9L321.7 480.3L322.1 479.6L322.4 479.0L322.8 478.3L323.1 477.6L323.5 476.9L323.9 476.2L324.2 475.4L324.6 474.7L325.0 473.9L325.3 473.0L325.7 472.2L326.1 471.3L326.4 470.3L326.8 469.4L327.2 468.4L327.5 467.4L327.9 466.3L328.3 465.2L328.6 464.0L329.0 462.8L329.3 461.6L329.7 460.3L330.1 459.0L330.4 457.6L330.8 456.2L331.2 454.7L331.5 453.1L331.9 451.5L332.3 449.8L332.6 448.1L333.0 446.2L333.4 444.3L333.7 442.3L334.1 440.3L334.5 438.1L334.8 435.9L335.2 433.5L335.5 431.0L335.9 428.5L336.3 425.8L336.6 423.0L337.0 420.0L337.4 417.0L337.7 413.8L338.1 410.4L338.5 406.9L338.8 403.2L339.2 399.3L339.6 395.3L339.9 391.0L340.3 386.6L340.6 381.9L341.0 377.1L341.4 371.9L341.7 366.6L342.1 361.0L342.5 355.1L342.8 348.9L343.2 342.5L343.6 335.7L343.9 328.7L344.3 321.3L344.7 313.7L345.0 305.7L345.4 297.4L345.8 288.8L346.1 279.9L346.5 270.7L346.8 261.2L347.2 251.5L347.6 241.5L347.9 231.4L348.3 221.2L348.7 210.9L349.0 200.6L349.4 190.3L349.8 180.3L350.1 170.5L350.5 161.0L350.9 152.1L351.2 143.7L351.6 136.0L351.9 129.2L352.3 123.3L352.7 118.5L353.0 114.7L353.4 112.2L353.8 110.9L354.1 110.8L354.5 112.0L354.9 114.4L355.2 118.0L355.6 122.7L356.0 128.5L356.3 135.2L356.7 142.7L357.1 151.0L357.4 159.8L357.8 169.1L358.1 178.8L358.5 188.8L358.9 198.9L359.2 209.2L359.6 219.4L360.0 229.5L360.3 239.6L360.7 249.4L361.1 259.1L361.4 268.5L361.8 277.6L362.2 286.5L362.5 295.0L362.9 303.2L363.3 311.2L363.6 318.8L364.0 326.1L364.3 333.0L364.7 339.7L365.1 346.1L365.4 352.2L365.8 358.0L366.2 363.6L366.5 368.9L366.9 374.0L367.3 378.8L367.6 383.4L368.0 387.8L368.4 392.0L368.7 396.0L369.1 399.8L369.4 403.5L369.8 406.9L370.2 410.2L370.5 413.4L370.9 416.4L371.3 419.3L371.6 422.1L372.0 424.7L372.4 427.2L372.7 429.6L373.1 432.0L373.5 434.2L373.8 436.3L374.2 438.3L374.6 440.2L374.9 442.1L375.3 443.9L375.6 445.6L376.0 447.2L376.4 448.8L376.7 450.3L377.1 451.8L377.5 453.2L377.8 454.5L378.2 455.8L378.6 457.0L378.9 458.2L379.3 459.4L379.7 460.5L380.0 461.5L380.4 462.5L380.7 463.5L381.1 464.5L381.5 465.4L381.8 466.3L382.2 467.1L382.6 467.9L382.9 468.7L383.3 469.5L383.7 470.2L384.0 470.9L384.4 471.6L384.8 472.3L385.1 472.9L385.5 473.5L385.9 474.1L386.2 474.7L386.6 475.3L386.9 475.8L387.3 476.3L387.7 476.8L388.0 477.3L388.4 477.8L388.8 478.3L389.1 478.7L389.5 479.1L389.9 479.5L390.2 479.9L390.6 480.3L391.0 480.7L391.3 481.1L391.7 481.4L392.1 481.7L392.4 482.1L392.8 482.4L393.1 482.7L393.5 483.0L393.9 483.3L394.2 483.5L394.6 483.8L395.0 484.1L395.3 484.3L395.7 484.6L396.1 484.8L396.4 485.0L396.8 485.2L397.2 485.4L397.5 485.7L397.9 485.8L398.2 486.0L398.6 486.2L399.0 486.4L399.3 486.6L399.7 486.7L400.1 486.9L400.4 487.0L400.8 487.2L401.2 487.3L401.5 487.4L401.9 487.6L402.3 487.7L402.6 487.8L403.0 487.9L403.4 488.0L403.7 488.1L404.1 488.2L404.4 488.3L404.8 488.4L405.2 488.5L405.5 488.5L405.9 488.6L406.3 488.7L406.6 488.7L407.0 488.8L407.4 488.8L407.7 488.9L408.1 488.9L408.5 489.0L408.8 489.0L409.2 489.0L409.5 489.0L409.9 489.1L410.3 489.1L410.6 489.1L411.0 489.1L411.4 489.1L411.7 489.1L412.1 489.1L412.5 489.1L412.8 489.1L413.2 489.1L413.6 489.1L413.9 489.0L414.3 489.0L414.7 489.0L415.0 489.0L415.4 488.9L415.7 488.9L416.1 488.8L416.5 488.8L416.8 488.8L417.2 488.7L417.6 488.6L417.9 488.6L418.3 488.5L418.7 488.5L419.0 488.4L419.4 488.3L419.8 488.2L420.1 488.2L420.5 488.1L420.8 488.0L421.2 487.9L421.6 487.8L421.9 487.7L422.3 487.6L422.7 487.5L423.0 487.4L423.4 487.3L423.8 487.2L424.1 487.1L424.5 486.9L424.9 486.8L425.2 486.7L425.6 486.5L426.0 486.4L426.3 486.3L426.7 486.1L427.0 486.0L427.4 485.8L427.8 485.7L428.1 485.5L428.5 485.3L428.9 485.2L429.2 485.0L429.6 484.8L430.0 484.6L430.3 484.4L430.7 484.2L431.1 484.0L431.4 483.8L431.8 483.6L432.2 483.4L432.5 483.2L432.9 483.0L433.2 482.7L433.6 482.5L434.0 482.3L434.3 482.0L434.7 481.8L435.1 481.5L435.4 481.3L435.8 481.0L436.2 480.7L436.5 480.4L436.9 480.2L437.3 479.9L437.6 479.6L438.0 479.3L438.3 479.0L438.7 478.6L439.1 478.3L439.4 478.0L439.8 477.6L440.2 477.3L440.5 476.9L440.9 476.6L441.3 476.2L441.6 475.8L442.0 475.4L442.4 475.0L442.7 474.6L443.1 474.2L443.5 473.8L443.8 473.4L444.2 472.9L444.5 472.5L444.9 472.0L445.3 471.5L445.6 471.1L446.0 470.6L446.4 470.1L446.7 469.5L447.1 469.0L447.5 468.5L447.8 467.9L448.2 467.4L448.6 466.8L448.9 466.2L449.3 465.6L449.6 465.0L450.0 464.3L450.4 463.7L450.7 463.0L451.1 462.3L451.5 461.6L451.8 460.9L452.2 460.2L452.6 459.4L452.9 458.7L453.3 457.9L453.7 457.1L454.0 456.3L454.4 455.4L454.8 454.5L455.1 453.7L455.5 452.7L455.8 451.8L456.2 450.9L456.6 449.9L456.9 448.9L457.3 447.8L457.7 446.8L458.0 445.7L458.4 444.6L458.8 443.4L459.1 442.3L459.5 441.1L459.9 439.8L460.2 438.6L460.6 437.3L461.0 435.9L461.3 434.5L461.7 433.1L462.0 431.7L462.4 430.2L462.8 428.7L463.1 427.1L463.5 425.5L463.9 423.8L464.2 422.1L464.6 420.3L465.0 418.5L465.3 416.6L465.7 414.7L466.1 412.8L466.4 410.7L466.8 408.6L467.1 406.5L467.5 404.3L467.9 402.0L468.2 399.7L468.6 397.3L469.0 394.8L469.3 392.2L469.7 389.6L470.1 386.9L470.4 384.1L470.8 381.2L471.2 378.3L471.5 375.2L471.9 372.1L472.3 368.9L472.6 365.5L473.0 362.1L473.3 358.6L473.7 355.0L474.1 351.2L474.4 347.4L474.8 343.5L475.2 339.4L475.5 335.2L475.9 330.9L476.3 326.5L476.6 322.0L477.0 317.4L477.4 312.6L477.7 307.8L478.1 302.8L478.4 297.6L478.8 292.4L479.2 287.1L479.5 281.6L479.9 276.0L480.3 270.3L480.6 264.5L481.0 258.7L481.4 252.7L481.7 246.6L482.1 240.5L482.5 234.3L482.8 228.1L483.2 221.8L483.6 215.5L483.9 209.2L484.3 202.9L484.6 196.6L485.0 190.4L485.4 184.2L485.7 178.1L486.1 172.2L486.5 166.4L486.8 160.7L487.2 155.3L487.6 150.1L487.9 145.1L488.3 140.4L488.7 136.0L489.0 132.0L489.4 128.3L489.8 124.9L490.1 122.0L490.5 119.5L490.8 117.5L491.2 115.9L491.6 114.7L491.9 114.0L492.3 113.8L492.7 114.1L493.0 114.9L493.4 116.1L493.8 117.7L494.1 119.9L494.5 122.4L494.9 125.3L495.2 128.7L495.6 132.4L495.9 136.4L496.3 140.8L496.7 145.5L497.0 150.4L497.4 155.6L497.8 161.0L498.1 166.5L498.5 172.3L498.9 178.1L499.2 184.1L499.6 190.1L500.0 196.3L500.3 202.4L500.7 208.6L501.1 214.8L501.4 221.0L501.8 227.1L502.1 233.2L502.5 239.3L502.9 245.2L503.2 251.2L503.6 257.0L504.0 262.7L504.3 268.4L504.7 273.9L505.1 279.3L505.4 284.6L505.8 289.9L506.2 294.9L506.5 299.9L506.9 304.8L507.2 309.5L507.6 314.1L508.0 318.6L508.3 323.0L508.7 327.3L509.1 331.4L509.4 335.5L509.8 339.4L510.2 343.2L510.5 346.9L510.9 350.5L511.3 354.0L511.6 357.4L512.0 360.7L512.4 363.9L512.7 367.0L513.1 370.1L513.4 373.0L513.8 375.8L514.2 378.6L514.5 381.3L514.9 383.9L515.3 386.4L515.6 388.9L516.0 391.3L516.4 393.6L516.7 395.8L517.1 398.0L517.5 400.1L517.8 402.1L518.2 404.1L518.5 406.1L518.9 407.9L519.3 409.8L519.6 411.5L520.0 413.3L520.4 414.9L520.7 416.6L521.1 418.1L521.5 419.7L521.8 421.1L522.2 422.6L522.6 424.0L522.9 425.4L523.3 426.7L523.7 428.0L524.0 429.2L524.4 430.4L524.7 431.6L525.1 432.8L525.5 433.9L525.8 435.0L526.2 436.0L526.6 437.1L526.9 438.1L527.3 439.0L527.7 440.0L528.0 440.9L528.4 441.8L528.8 442.7L529.1 443.5L529.5 444.3L529.9 445.1L530.2 445.9L530.6 446.7L530.9 447.4L531.3 448.1L531.7 448.8L532.0 449.5L532.4 450.2L532.8 450.8L533.1 451.4L533.5 452.0L533.9 452.6L534.2 453.2L534.6 453.7L535.0 454.3L535.3 454.8L535.7 455.3L536.0 455.8L536.4 456.3L536.8 456.8L537.1 457.2L537.5 457.7L537.9 458.1L538.2 458.5L538.6 458.9L539.0 459.3L539.3 459.7L539.7 460.1L540.1 460.4L540.4 460.8L540.8 461.1L541.2 461.4L541.5 461.7L541.9 462.0L542.2 462.3L542.6 462.6L543.0 462.9L543.3 463.1L543.7 463.4L544.1 463.6L544.4 463.9L544.8 464.1L545.2 464.3L545.5 464.5L545.9 464.7L546.3 464.9L546.6 465.1L547.0 465.2L547.3 465.4L547.7 465.6L548.1 465.7L548.4 465.8L548.8 466.0L549.2 466.1L549.5 466.2L549.9 466.3L550.3 466.4L550.6 466.5L551.0 466.6L551.4 466.7L551.7 466.7L552.1 466.8L552.5 466.8L552.8 466.9L553.2 466.9L553.5 467.0L553.9 467.0L554.3 467.0L554.6 467.0L555.0 467.0L555.4 467.0L555.7 467.0L556.1 466.9L556.5 466.9L556.8 466.9L557.2 466.8L557.6 466.7L557.9 466.7L558.3 466.6L558.7 466.5L559.0 466.4L559.4 466.3L559.7 466.2L560.1 466.1L560.5 466.0L560.8 465.9L561.2 465.7L561.6 465.6L561.9 465.4L562.3 465.2L562.7 465.1L563.0 464.9L563.4 464.7L563.8 464.5L564.1 464.2L564.5 464.0L564.8 463.8L565.2 463.5L565.6 463.3L565.9 463.0L566.3 462.7L566.7 462.4L567.0 462.1L567.4 461.8L567.8 461.5L568.1 461.2L568.5 460.8L568.9 460.4L569.2 460.1L569.6 459.7L570.0 459.3L570.3 458.8L570.7 458.4L571.0 458.0L571.4 457.5L571.8 457.0L572.1 456.5L572.5 456.0L572.9 455.5L573.2 454.9L573.6 454.3L574.0 453.8L574.3 453.2L574.7 452.5L575.1 451.9L575.4 451.2L575.8 450.5L576.1 449.8L576.5 449.1L576.9 448.3L577.2 447.5L577.6 446.7L578.0 445.9L578.3 445.0L578.7 444.1L579.1 443.2L579.4 442.2L579.8 441.2L580.2 440.2L580.5 439.2L580.9 438.1L581.3 437.0L581.6 435.8L582.0 434.6L582.3 433.3L582.7 432.1L583.1 430.7L583.4 429.3L583.8 427.9L584.2 426.4L584.5 424.9L584.9 423.3L585.3 421.7L585.6 420.0L586.0 418.2L586.4 416.4L586.7 414.5L587.1 412.6L587.5 410.6L587.8 408.5L588.2 406.3L588.5 404.0L588.9 401.7L589.3 399.2L589.6 396.7L590.0 394.1L590.4 391.4L590.7 388.6L591.1 385.7L591.5 382.6L591.8 379.5L592.2 376.2L592.6 372.8L592.9 369.3L593.3 365.6L593.6 361.8L594.0 357.8L594.4 353.7L594.7 349.5L595.1 345.0L595.5 340.5L595.8 335.7L596.2 330.7L596.6 325.6L596.9 320.3L597.3 314.8L597.7 309.0L598.0 303.1L598.4 297.0L598.8 290.7L599.1 284.1L599.5 277.4L599.8 270.4L600.2 263.2L600.6 255.9L600.9 248.3L601.3 240.6L601.7 232.7L602.0 224.6L602.4 216.4L602.8 208.1L603.1 199.6L603.5 191.1L603.9 182.6L604.2 174.1L604.6 165.6L604.9 157.2L605.3 148.9L605.7 140.8L606.0 133.0L606.4 125.5L606.8 118.3L607.1 111.6L607.5 105.3L607.9 99.6L608.2 94.5L608.6 90.0L609.0 86.3L609.3 83.3L609.7 81.1L610.1 79.7L610.4 79.1L610.8 79.3L611.1 80.4L611.5 82.3L611.9 85.0L612.2 88.4L612.6 92.6L613.0 97.5L613.3 102.9L613.7 109.0L614.1 115.5L614.4 122.5L614.8 129.9L615.2 137.6L615.5 145.6L615.9 153.8L616.2 162.2L616.6 170.7L617.0 179.2L617.3 187.7L617.7 196.2L618.1 204.7L618.4 213.1L618.8 221.4L619.2 229.5L619.5 237.5L619.9 245.3L620.3 253.0L620.6 260.4L621.0 267.7L621.4 274.7L621.7 281.6L622.1 288.2L622.4 294.7L622.8 300.9L623.2 306.9L623.5 312.7L623.9 318.3L624.3 323.7L624.6 329.0L625.0 334.0L625.4 338.9L625.7 343.6L626.1 348.1L626.5 352.4L626.8 356.6L627.2 360.6L627.6 364.5L627.9 368.3L628.3 371.9L628.6 375.3L629.0 378.7L629.4 381.9L629.7 385.0L630.1 388.0L630.5 390.9L630.8 393.7L631.2 396.4L631.6 399.0L631.9 401.5L632.3 403.9L632.7 406.2L633.0 408.5L633.4 410.7L633.7 412.8L634.1 414.8L634.5 416.8L634.8 418.7L635.2 420.5L635.6 422.3L635.9 424.0L636.3 425.6L636.7 427.2L637.0 428.8L637.4 430.3L637.8 431.7L638.1 433.2L638.5 434.5L638.9 435.8L639.2 437.1L639.6 438.3L639.9 439.5L640.3 440.7L640.7 441.8L641.0 442.9L641.4 444.0L641.8 445.0L642.1 446.0L642.5 447.0L642.9 447.9L643.2 448.9L643.6 449.7L644.0 450.6L644.3 451.4L644.7 452.3L645.0 453.1L645.4 453.8L645.8 454.6L646.1 455.3L646.5 456.0L646.9 456.7L647.2 457.4L647.6 458.0L648.0 458.7L648.3 459.3L648.7 459.9L649.1 460.5L649.4 461.0L649.8 461.6L650.2 462.1L650.5 462.7L650.9 463.2L651.2 463.7L651.6 464.2L652.0 464.6L652.3 465.1L652.7 465.6L653.1 466.0L653.4 466.4L653.8 466.9L654.2 467.3L654.5 467.7L654.9 468.1L655.3 468.4L655.6 468.8L656.0 469.2L656.4 469.5L656.7 469.9L657.1 470.2L657.4 470.5L657.8 470.9L658.2 471.2L658.5 471.5L658.9 471.8L659.3 472.1L659.6 472.4L660.0 472.6L660.4 472.9L660.7 473.2L661.1 473.4L661.5 473.7L661.8 473.9L662.2 474.2L662.5 474.4L662.9 474.6L663.3 474.9L663.6 475.1L664.0 475.3L664.4 475.5L664.7 475.7L665.1 475.9L665.5 476.1L665.8 476.3L666.2 476.5L666.6 476.7L666.9 476.8L667.3 477.0L667.7 477.2L668.0 477.3L668.4 477.5L668.7 477.7L669.1 477.8L669.5 478.0L669.8 478.1L670.2 478.3L670.6 478.4L670.9 478.5L671.3 478.7L671.7 478.8L672.0 478.9L672.4 479.0L672.8 479.2L673.1 479.3L673.5 479.4L673.8 479.5L674.2 479.6L674.6 479.7L674.9 479.8L675.3 479.9L675.7 480.0L676.0 480.1L676.4 480.2L676.8 480.3L677.1 480.4L677.5 480.4L677.9 480.5L678.2 480.6L678.6 480.7L679.0 480.8L679.3 480.8L679.7 480.9L680.0 481.0L680.4 481.0L680.8 481.1L681.1 481.1L681.5 481.2L681.9 481.3L682.2 481.3L682.6 481.4L683.0 481.4L683.3 481.5L683.7 481.5L684.1 481.5L684.4 481.6L684.8 481.6L685.2 481.7L685.5 481.7L685.9 481.7L686.2 481.8L686.6 481.8L687.0 481.8L687.3 481.9L687.7 481.9L688.1 481.9L688.4 482.0L688.8 482.0L689.2 482.0L689.5 482.0L689.9 482.0L690.3 482.1L690.6 482.1L691.0 482.1L691.3 482.1L691.7 482.1L692.1 482.2L692.4 482.2L692.8 482.2L693.2 482.2L693.5 482.2L693.9 482.2L694.3 482.2L694.6 482.3L695.0 482.3L695.4 482.3L695.7 482.3L696.1 482.3L696.5 482.3L696.8 482.3L697.2 482.3L697.5 482.3L697.9 482.3L698.3 482.3L698.6 482.3L699.0 482.3L699.4 482.3L699.7 482.3L700.1 482.3L700.5 482.3L700.8 482.3L701.2 482.3L701.6 482.3L701.9 482.3L702.3 482.3L702.6 482.3L703.0 482.3L703.4 482.3L703.7 482.3L704.1 482.3L704.5 482.3L704.8 482.3L705.2 482.3L705.6 482.3L705.9 482.3L706.3 482.2L706.7 482.2L707.0 482.2L707.4 482.2L707.8 482.1L708.1 482.1L708.5 482.1L708.8 482.0L709.2 482.0L709.6 482.0L709.9 481.9L710.3 481.9L710.7 481.9L711.0 481.8L711.4 481.8L711.8 481.7L712.1 481.7L712.5 481.7L712.9 481.6L713.2 481.6L713.6 481.5L713.9 481.5L714.3 481.4L714.7 481.4L715.0 481.3L715.4 481.3L715.8 481.2L716.1 481.1L716.5 481.1L716.9 481.0L717.2 481.0L717.6 480.9L718.0 480.9L718.3 480.8L718.7 480.7L719.1 480.7L719.4 480.6L719.8 480.6L720.1 480.5L720.5 480.4L720.9 480.4L721.2 480.3L721.6 480.3L722.0 480.2L722.3 480.1L722.7 480.1L723.1 480.0L723.4 480.0L723.8 479.9L724.2 479.8L724.5 479.8L724.9 479.7L725.3 479.6L725.6 479.5L726.0 479.5L726.3 479.4L726.7 479.3L727.1 479.2L727.4 479.2L727.8 479.1L728.2 479.0L728.5 478.9L728.9 478.8L729.3 478.7L729.6 478.6L730.0 478.5L730.4 478.4L730.7 478.3L731.1 478.2L731.4 478.1L731.8 478.0L732.2 477.9L732.5 477.8L732.9 477.7L733.3 477.6L733.6 477.4L734.0 477.3L734.4 477.2L734.7 477.1L735.1 477.0L735.5 476.8L735.8 476.7L736.2 476.6L736.6 476.5L736.9 476.3L737.3 476.2L737.6 476.1L738.0 475.9L738.4 475.8L738.7 475.7L739.1 475.5L739.5 475.4L739.8 475.2L740.2 475.1L740.6 474.9L740.9 474.8L741.3 474.6L741.7 474.5L742.0 474.3L742.4 474.2L742.7 474.0L743.1 473.8L743.5 473.7L743.8 473.5L744.2 473.3L744.6 473.1L744.9 472.9L745.3 472.7L745.7 472.5L746.0 472.3L746.4 472.0L746.8 471.8L747.1 471.6L747.5 471.4L747.9 471.1L748.2 470.9L748.6 470.6L748.9 470.4L749.3 470.1L749.7 469.8L750.0 469.6L750.4 469.3L750.8 469.0L751.1 468.8L751.5 468.5L751.9 468.2L752.2 467.9L752.6 467.6L753.0 467.3L753.3 467.0L753.7 466.7L754.1 466.4L754.4 466.1L754.8 465.8L755.1 465.5L755.5 465.1L755.9 464.8L756.2 464.5L756.6 464.2L757.0 463.8L757.3 463.5L757.7 463.2L758.1 462.8L758.4 462.5L758.8 462.2L759.2 461.8L759.5 461.5L759.9 461.2L760.2 460.8L760.6 460.5L761.0 460.1L761.3 459.8L761.7 459.5L762.1 459.1L762.4 458.8L762.8 458.4L763.2 458.1L763.5 457.7L763.9 457.4L764.3 457.0L764.6 456.6L765.0 456.2L765.4 455.9L765.7 455.5L766.1 455.1L766.4 454.7L766.8 454.3L767.2 453.9L767.5 453.5L767.9 453.0L768.3 452.6L768.6 452.2L769.0 451.8L769.4 451.3L769.7 450.9L770.1 450.5L770.5 450.0L770.8 449.6L771.2 449.1L771.5 448.7L771.9 448.2L772.3 447.7L772.6 447.3L773.0 446.8L773.4 446.3L773.7 445.9L774.1 445.4L774.5 444.9L774.8 444.4L775.2 443.9L775.6 443.4L775.9 443.0L776.3 442.5L776.7 442.0L777.0 441.5L777.4 441.0L777.7 440.5L778.1 440.0L778.5 439.5L778.8 439.0L779.2 438.4L779.6 437.9L779.9 437.4L780.3 436.9L780.7 436.4L781.0 435.8L781.4 435.3L781.8 434.8L782.1 434.2L782.5 433.7L782.9 433.1L783.2 432.5L783.6 432.0L783.9 431.4L784.3 430.8L784.7 430.2L785.0 429.6L785.4 429.0L785.8 428.4L786.1 427.7L786.5 427.1L786.9 426.4L787.2 425.8L787.6 425.1L788.0 424.4L788.3 423.7L788.7 423.0L789.0 422.2L789.4 421.5L789.8 420.8L790.1 420.0L790.5 419.3L790.9 418.5L791.2 417.7L791.6 416.9L792.0 416.1L792.3 415.3L792.7 414.5L793.1 413.6L793.4 412.8L793.8 411.9L794.2 411.0L794.5 410.2L794.9 409.3L795.2 408.3L795.6 407.4L796.0 406.5L796.3 405.5L796.7 404.5L797.1 403.6L797.4 402.6L797.8 401.5L798.2 400.5L798.5 399.5L798.9 398.4L799.3 397.3L799.6 396.2L800.0 395.1L800.3 394.0L800.7 392.8L801.1 391.7L801.4 390.5L801.8 389.3L802.2 388.0L802.5 386.7L802.9 385.3L803.3 383.9L803.6 382.5L804.0 381.0L804.4 379.5L804.7 378.0L805.1 376.4L805.5 374.8L805.8 373.2L806.2 371.5L806.5 369.8L806.9 368.1L807.3 366.4L807.6 364.6L808.0 362.8L808.4 361.0L808.7 359.2L809.1 357.4L809.5 355.6L809.8 353.7L810.2 351.8L810.6 349.8L810.9 347.8L811.3 345.8L811.6 343.7L812.0 341.6L812.4 339.4L812.7 337.2L813.1 335.0L813.5 332.8L813.8 330.6L814.2 328.3L814.6 326.0L814.9 323.7L815.3 321.4L815.7 319.1L816.0 316.8L816.4 314.4L816.8 312.0L817.1 309.6L817.5 307.1L817.8 304.6L818.2 302.1L818.6 299.6L818.9 297.1L819.3 294.5L819.7 291.9L820.0 289.4L820.4 286.8L820.8 284.2L821.1 281.6L821.5 278.9L821.9 276.2L822.2 273.5L822.6 270.7L823.0 268.0L823.3 265.2L823.7 262.5L824.0 259.7L824.4 257.0L824.8 254.2L825.1 251.5L825.5 248.8L825.9 246.2L826.2 243.5L826.6 240.9L827.0 238.2L827.3 235.6L827.7 233.0L828.1 230.4L828.4 227.8L828.8 225.2L829.1 222.6L829.5 219.9L829.9 217.3L830.2 214.7L830.6 212.0L831.0 209.4L831.3 206.9L831.7 204.3L832.1 201.7L832.4 199.1L832.8 196.5L833.2 193.9L833.5 191.3L833.9 188.5L834.3 185.8L834.6 182.9L835.0 180.0L835.3 176.9L835.7 173.6L836.1 170.1L836.4 166.5L836.8 162.8L837.2 159.2L837.5 155.7L837.9 152.4L838.3 149.2L838.6 146.4L839.0 143.9L839.4 141.6L839.7 139.4L840.1 137.1L840.4 135.0L840.8 132.9L841.2 130.8L841.5 128.8L841.9 126.9L842.3 125.0L842.6 123.2L843.0 121.5L843.4 119.9L843.7 118.4L844.1 116.9L844.5 115.6L844.8 114.4L845.2 113.2L845.6 112.2L845.9 111.3L846.3 110.4L846.6 109.6L847.0 108.9L847.4 108.1L847.7 107.4L848.1 106.7L848.5 106.0L848.8 105.4L849.2 104.7L849.6 104.1L849.9 103.6L850.3 103.0L850.7 102.5L851.0 102.0L851.4 101.5L851.8 101.0L852.1 100.5L852.5 100.1L852.8 99.7L853.2 99.3L853.6 98.9L853.9 98.5L854.3 98.2L854.7 97.8L855.0 97.5L855.4 97.2L855.8 96.9L856.1 96.6L856.5 96.3L856.9 96.0L857.2 95.7L857.6 95.5L857.9 95.2L858.3 94.9L858.7 94.6L859.0 94.3L859.4 94.1L859.8 93.8L860.1 93.5L860.5 93.3L860.9 93.0L861.2 92.8L861.6 92.6L862.0 92.4L862.3 92.1L862.7 91.9L863.1 91.7L863.4 91.6L863.8 91.4L864.1 91.2L864.5 91.1L864.9 90.9L865.2 90.8L865.6 90.7L866.0 90.6L866.3 90.5L866.7 90.5L867.1 90.4L867.4 90.4L867.8 90.4L868.2 90.4L868.5 90.4L868.9 90.4L869.2 90.5L869.6 90.6L870.0 90.7L870.3 90.8L870.7 91.0L871.1 91.2L871.4 91.4L871.8 91.6L872.2 91.8L872.5 92.1L872.9 92.3L873.3 92.6L873.6 92.9L874.0 93.2L874.4 93.5L874.7 93.8L875.1 94.1L875.4 94.5L875.8 94.8L876.2 95.2L876.5 95.6L876.9 95.9L877.3 96.3L877.6 96.7L878.0 97.1L878.4 97.5L878.7 97.9L879.1 98.4L879.5 98.9L879.8 99.5L880.2 100.1L880.6 100.7L880.9 101.4L881.3 102.1L881.6 102.9L882.0 103.7L882.4 104.5L882.7 105.3L883.1 106.2L883.5 107.2L883.8 108.2L884.2 109.2L884.6 110.2L884.9 111.3L885.3 112.4L885.7 113.6L886.0 114.7L886.4 116.0L886.7 117.2L887.1 118.6L887.5 120.1L887.8 121.9L888.2 123.8L888.6 125.8L888.9 128.1L889.3 130.4L889.7 132.9L890.0 135.5L890.4 138.3L890.8 141.1L891.1 143.9L891.5 146.9L891.9 149.9L892.2 152.9L892.6 156.0L892.9 159.1L893.3 162.1L893.7 165.2L894.0 168.3L894.4 171.3L894.8 174.3L895.1 177.2L895.5 180.0L895.9 182.8L896.2 185.7L896.6 188.6L897.0 191.6L897.3 194.5L897.7 197.6L898.0 200.6L898.4 203.7L898.8 206.7L899.1 209.8L899.5 212.9L899.9 215.9L900.2 219.0L900.6 222.0L901.0 225.0L901.3 228.0L901.7 230.9L902.1 233.8L902.4 236.6L902.8 239.4L903.2 242.1L903.5 244.8L903.9 247.6L904.2 250.5L904.6 253.4L905.0 256.3L905.3 259.1L905.7 261.8L906.1 264.4L906.4 266.9L906.8 269.2L907.2 271.3L907.5 273.2L907.9 274.7L908.3 276.0L908.6 277.2L909.0 278.5L909.3 279.6L909.7 280.8L910.1 281.8L910.4 282.8L910.8 283.8L911.2 284.6L911.5 285.3L911.9 285.9L912.3 286.3L912.6 286.6L913.0 286.8L913.4 286.7L913.7 286.2L914.1 285.4L914.5 284.2L914.8 282.8L915.2 281.2L915.5 279.4L915.9 277.5L916.3 275.5L916.6 273.6L917.0 271.7L917.4 269.9L917.7 268.2L918.1 266.4L918.5 264.4L918.8 262.2L919.2 259.9L919.6 257.5L919.9 255.1L920.3 252.8L920.7 250.5L921.0 248.4L921.4 246.5L921.7 244.8L922.1 243.4L922.5 242.4L922.8 241.8L923.2 241.6L923.6 241.7L923.9 242.0L924.3 242.3L924.7 242.8L925.0 243.3L925.4 244.0L925.8 244.7L926.1 245.5L926.5 246.3L926.8 247.2L927.2 248.1L927.6 249.4L927.9 251.0L928.3 252.9L928.7 255.2L929.0 257.7L929.4 260.4L929.8 263.2L930.1 266.2L930.5 269.3L930.9 272.3L931.2 275.4L931.6 278.4L932.0 281.2L932.3 283.9L932.7 286.6L933.0 289.3L933.4 292.1L933.8 294.8L934.1 297.6L934.5 300.4L934.9 303.3L935.2 306.2L935.6 309.1L936.0 312.1L936.3 315.1L936.7 318.2L937.1 321.4L937.4 324.9L937.8 328.6L938.1 332.3L938.5 336.0L938.9 339.7L939.2 343.2L939.6 346.5L940.0 349.5L940.3 352.2L940.7 354.5L941.1 356.7L941.4 358.8L941.8 360.9L942.2 362.8L942.5 364.7L942.9 366.5L943.3 368.3L943.6 370.0L944.0 371.6L944.3 373.2L944.7 374.8L945.1 376.3L945.4 377.7L945.8 379.2L946.2 380.6L946.5 381.9L946.9 383.3L947.3 384.6L947.6 385.9L948.0 387.2L948.4 388.5L948.7 389.8L949.1 391.1L949.5 392.4L949.8 393.7L950.2 395.0L950.5 396.2L950.9 397.4L951.3 398.7L951.6 399.9L952.0 401.1L952.4 402.2L952.7 403.4L953.1 404.5L953.5 405.6L953.8 406.7L954.2 407.8L954.6 408.8L954.9 409.8L955.3 410.8L955.6 411.7L956.0 412.6L956.4 413.5L956.7 414.4L957.1 415.2L957.5 416.0L957.8 416.7L958.2 417.4L958.6 418.1L958.9 418.7L959.3 419.2L959.7 419.8L960.0 420.4L960.4 420.9L960.8 421.5L961.1 422.0L961.5 422.6L961.8 423.1L962.2 423.7L962.6 424.2L962.9 424.7L963.3 425.3L963.7 425.8L964.0 426.3L964.4 426.8L964.8 427.3L965.1 427.8L965.5 428.3L965.9 428.8L966.2 429.2L966.6 429.7L966.9 430.2L967.3 430.6L967.7 431.1L968.0 431.5L968.4 431.9L968.8 432.3L969.1 432.7L969.5 433.1L969.9 433.5L970.2 433.8L970.6 434.2L971.0 434.5L971.3 434.8L971.7 435.2L972.1 435.5L972.4 435.7L972.8 436.0L973.1 436.3L973.5 436.5L973.9 436.7L974.2 436.9L974.6 437.1L975.0 437.3L975.3 437.5L975.7 437.6L976.1 437.7L976.4 437.8L976.8 437.9L977.2 438.0L977.5 438.0L977.9 438.1L978.2 438.1" stroke="#00ff00" stroke-width="6.6" stroke-linecap="round" stroke-dasharray="3.8 31.4" stroke-dashoffset="26.00"/>
<path d="M176.6 512.2L177.0 512.2L177.3 512.2L177.7 512.2L178.1 512.2L178.4 512.2L178.8 512.2L179.2 512.2L179.5 512.2L179.9 512.2L180.2 512.2L180.6 512.2L181.0 512.2L181.3 512.1L181.7 512.1L182.1 512.1L182.4 512.1L182.8 512.1L183.2 512.1L183.5 512.1L183.9 512.1L184.3 512.1L184.6 512.1L185.0 512.1L185.3 512.1L185.7 512.1L186.1 512.0L186.4 512.0L186.8 512.0L187.2 512.0L187.5 512.0L187.9 512.0L188.3 512.0L188.6 512.0L189.0 512.0L189.4 512.0L189.7 511.9L190.1 511.9L190.5 511.9L190.8 511.9L191.2 511.9L191.5 511.9L191.9 511.9L192.3 511.9L192.6 511.8L193.0 511.8L193.4 511.8L193.7 511.8L194.1 511.8L194.5 511.8L194.8 511.8L195.2 511.7L195.6 511.7L195.9 511.7L196.3 511.7L196.7 511.7L197.0 511.7L197.4 511.7L197.7 511.6L198.1 511.6L198.5 511.6L198.8 511.6L199.2 511.6L199.6 511.6L199.9 511.5L200.3 511.5L200.7 511.5L201.0 511.5L201.4 511.5L201.8 511.4L202.1 511.4L202.5 511.4L202.8 511.4L203.2 511.4L203.6 511.3L203.9 511.3L204.3 511.3L204.7 511.3L205.0 511.3L205.4 511.2L205.8 511.2L206.1 511.2L206.5 511.2L206.9 511.1L207.2 511.1L207.6 511.1L208.0 511.1L208.3 511.0L208.7 511.0L209.0 511.0L209.4 511.0L209.8 510.9L210.1 510.9L210.5 510.9L210.9 510.8L211.2 510.8L211.6 510.8L212.0 510.8L212.3 510.7L212.7 510.7L213.1 510.7L213.4 510.6L213.8 510.6L214.1 510.6L214.5 510.5L214.9 510.5L215.2 510.5L215.6 510.4L216.0 510.4L216.3 510.4L216.7 510.3L217.1 510.3L217.4 510.2L217.8 510.2L218.2 510.2L218.5 510.1L218.9 510.1L219.3 510.0L219.6 510.0L220.0 509.9L220.3 509.9L220.7 509.8L221.1 509.8L221.4 509.7L221.8 509.7L222.2 509.6L222.5 509.6L222.9 509.5L223.3 509.5L223.6 509.4L224.0 509.4L224.4 509.3L224.7 509.3L225.1 509.2L225.4 509.1L225.8 509.1L226.2 509.0L226.5 508.9L226.9 508.9L227.3 508.8L227.6 508.7L228.0 508.7L228.4 508.6L228.7 508.5L229.1 508.4L229.5 508.3L229.8 508.2L230.2 508.1L230.6 508.0L230.9 507.9L231.3 507.8L231.6 507.7L232.0 507.6L232.4 507.4L232.7 507.3L233.1 507.2L233.5 507.0L233.8 506.9L234.2 506.8L234.6 506.6L234.9 506.4L235.3 506.3L235.7 506.1L236.0 505.9L236.4 505.7L236.8 505.5L237.1 505.3L237.5 505.1L237.8 504.9L238.2 504.7L238.6 504.4L238.9 504.2L239.3 503.9L239.7 503.7L240.0 503.4L240.4 503.1L240.8 502.8L241.1 502.5L241.5 502.2L241.9 501.8L242.2 501.4L242.6 501.1L242.9 500.7L243.3 500.3L243.7 499.8L244.0 499.4L244.4 498.9L244.8 498.4L245.1 497.8L245.5 497.3L245.9 496.7L246.2 496.1L246.6 495.4L247.0 494.7L247.3 494.0L247.7 493.2L248.1 492.3L248.4 491.5L248.8 490.5L249.1 489.5L249.5 488.4L249.9 487.3L250.2 486.0L250.6 484.7L251.0 483.3L251.3 481.8L251.7 480.1L252.1 478.3L252.4 476.4L252.8 474.3L253.2 472.1L253.5 469.6L253.9 466.9L254.2 464.0L254.6 460.7L255.0 457.2L255.3 453.2L255.7 448.9L256.1 444.1L256.4 438.8L256.8 432.8L257.2 426.2L257.5 418.8L257.9 410.4L258.3 401.0L258.6 390.5L259.0 378.5L259.4 365.0L259.7 349.8L260.1 332.5L260.4 313.2L260.8 291.6L261.2 267.6L261.5 241.4L261.9 213.4L262.3 184.3L262.6 155.3L263.0 128.0L263.4 104.7L263.7 87.4L264.1 78.1L264.5 77.9L264.8 86.8L265.2 103.7L265.6 126.7L265.9 153.6L266.3 182.4L266.6 211.3L267.0 239.1L267.4 265.1L267.7 288.9L268.1 310.5L268.5 329.7L268.8 346.8L269.2 362.0L269.6 375.4L269.9 387.2L270.3 397.7L270.7 407.0L271.0 415.3L271.4 422.6L271.7 429.1L272.1 435.0L272.5 440.2L272.8 445.0L273.2 449.2L273.6 453.0L273.9 456.5L274.3 459.7L274.7 462.5L275.0 465.1L275.4 467.5L275.8 469.7L276.1 471.7L276.5 473.6L276.9 475.3L277.2 476.8L277.6 478.3L277.9 479.6L278.3 480.8L278.7 482.0L279.0 483.1L279.4 484.1L279.8 485.0L280.1 485.8L280.5 486.6L280.9 487.4L281.2 488.1L281.6 488.8L282.0 489.4L282.3 490.0L282.7 490.5L283.0 491.0L283.4 491.5L283.8 491.9L284.1 492.3L284.5 492.7L284.9 493.1L285.2 493.5L285.6 493.8L286.0 494.1L286.3 494.4L286.7 494.7L287.1 494.9L287.4 495.2L287.8 495.4L288.2 495.6L288.5 495.8L288.9 496.0L289.2 496.2L289.6 496.3L290.0 496.5L290.3 496.6L290.7 496.8L291.1 496.9L291.4 497.0L291.8 497.1L292.2 497.2L292.5 497.3L292.9 497.4L293.3 497.4L293.6 497.5L294.0 497.5L294.4 497.6L294.7 497.6L295.1 497.6L295.4 497.7L295.8 497.7L296.2 497.7L296.5 497.7L296.9 497.7L297.3 497.7L297.6 497.7L298.0 497.7L298.4 497.6L298.7 497.6L299.1 497.6L299.5 497.5L299.8 497.5L300.2 497.4L300.5 497.4L300.9 497.3L301.3 497.3L301.6 497.2L302.0 497.1L302.4 497.1L302.7 497.0L303.1 496.9L303.5 496.8L303.8 496.7L304.2 496.6L304.6 496.5L304.9 496.4L305.3 496.3L305.7 496.2L306.0 496.1L306.4 495.9L306.7 495.8L307.1 495.7L307.5 495.5L307.8 495.4L308.2 495.2L308.6 495.1L308.9 494.9L309.3 494.8L309.7 494.6L310.0 494.4L310.4 494.2L310.8 494.0L311.1 493.8L311.5 493.6L311.8 493.4L312.2 493.2L312.6 493.0L312.9 492.8L313.3 492.5L313.7 492.3L314.0 492.1L314.4 491.8L314.8 491.5L315.1 491.3L315.5 491.0L315.9 490.7L316.2 490.4L316.6 490.1L317.0 489.8L317.3 489.5L317.7 489.2L318.0 488.8L318.4 488.5L318.8 488.1L319.1 487.7L319.5 487.3L319.9 487.0L320.2 486.5L320.6 486.1L321.0 485.7L321.3 485.3L321.7 484.8L322.1 484.3L322.4 483.8L322.8 483.3L323.1 482.8L323.5 482.3L323.9 481.7L324.2 481.2L324.6 480.6L325.0 480.0L325.3 479.3L325.7 478.7L326.1 478.0L326.4 477.3L326.8 476.6L327.2 475.9L327.5 475.1L327.9 474.3L328.3 473.5L328.6 472.7L329.0 471.8L329.3 470.9L329.7 470.0L330.1 469.0L330.4 468.0L330.8 466.9L331.2 465.9L331.5 464.7L331.9 463.6L332.3 462.4L332.6 461.1L333.0 459.8L333.4 458.4L333.7 457.0L334.1 455.6L334.5 454.0L334.8 452.5L335.2 450.8L335.5 449.1L335.9 447.3L336.3 445.4L336.6 443.5L337.0 441.4L337.4 439.3L337.7 437.1L338.1 434.8L338.5 432.4L338.8 429.8L339.2 427.2L339.6 424.4L339.9 421.5L340.3 418.5L340.6 415.3L341.0 412.0L341.4 408.5L341.7 404.9L342.1 401.0L342.5 397.0L342.8 392.8L343.2 388.4L343.6 383.8L343.9 378.9L344.3 373.8L344.7 368.5L345.0 362.9L345.4 357.0L345.8 350.8L346.1 344.4L346.5 337.6L346.8 330.5L347.2 323.1L347.6 315.4L347.9 307.3L348.3 298.9L348.7 290.2L349.0 281.2L349.4 271.8L349.8 262.1L350.1 252.1L350.5 241.9L350.9 231.5L351.2 220.9L351.6 210.2L351.9 199.5L352.3 188.7L352.7 178.2L353.0 167.8L353.4 157.8L353.8 148.2L354.1 139.2L354.5 130.9L354.9 123.4L355.2 116.9L355.6 111.4L356.0 107.1L356.3 104.0L356.7 102.1L357.1 101.6L357.4 102.5L357.8 104.6L358.1 108.0L358.5 112.6L358.9 118.3L359.2 125.0L359.6 132.6L360.0 140.9L360.3 149.9L360.7 159.5L361.1 169.4L361.4 179.7L361.8 190.1L362.2 200.7L362.5 211.2L362.9 221.7L363.3 232.1L363.6 242.2L364.0 252.2L364.3 261.9L364.7 271.3L365.1 280.4L365.4 289.2L365.8 297.7L366.2 305.9L366.5 313.7L366.9 321.2L367.3 328.4L367.6 335.2L368.0 341.8L368.4 348.1L368.7 354.0L369.1 359.7L369.4 365.2L369.8 370.4L370.2 375.3L370.5 380.0L370.9 384.5L371.3 388.8L371.6 392.9L372.0 396.8L372.4 400.5L372.7 404.1L373.1 407.4L373.5 410.7L373.8 413.7L374.2 416.7L374.6 419.5L374.9 422.2L375.3 424.8L375.6 427.2L376.0 429.6L376.4 431.8L376.7 434.0L377.1 436.0L377.5 438.0L377.8 439.9L378.2 441.7L378.6 443.5L378.9 445.1L379.3 446.7L379.7 448.3L380.0 449.8L380.4 451.2L380.7 452.5L381.1 453.9L381.5 455.1L381.8 456.3L382.2 457.5L382.6 458.6L382.9 459.7L383.3 460.8L383.7 461.8L384.0 462.7L384.4 463.7L384.8 464.6L385.1 465.4L385.5 466.3L385.9 467.1L386.2 467.9L386.6 468.6L386.9 469.3L387.3 470.1L387.7 470.7L388.0 471.4L388.4 472.0L388.8 472.6L389.1 473.2L389.5 473.8L389.9 474.4L390.2 474.9L390.6 475.4L391.0 475.9L391.3 476.4L391.7 476.9L392.1 477.3L392.4 477.8L392.8 478.2L393.1 478.6L393.5 479.0L393.9 479.4L394.2 479.8L394.6 480.1L395.0 480.5L395.3 480.8L395.7 481.2L396.1 481.5L396.4 481.8L396.8 482.1L397.2 482.4L397.5 482.7L397.9 482.9L398.2 483.2L398.6 483.5L399.0 483.7L399.3 484.0L399.7 484.2L400.1 484.4L400.4 484.6L400.8 484.8L401.2 485.0L401.5 485.2L401.9 485.4L402.3 485.6L402.6 485.8L403.0 486.0L403.4 486.1L403.7 486.3L404.1 486.4L404.4 486.6L404.8 486.7L405.2 486.9L405.5 487.0L405.9 487.1L406.3 487.3L406.6 487.4L407.0 487.5L407.4 487.6L407.7 487.7L408.1 487.8L408.5 487.9L408.8 488.0L409.2 488.1L409.5 488.2L409.9 488.3L410.3 488.3L410.6 488.4L411.0 488.5L411.4 488.5L411.7 488.6L412.1 488.7L412.5 488.7L412.8 488.8L413.2 488.8L413.6 488.9L413.9 488.9L414.3 488.9L414.7 489.0L415.0 489.0L415.4 489.0L415.7 489.0L416.1 489.1L416.5 489.1L416.8 489.1L417.2 489.1L417.6 489.1L417.9 489.1L418.3 489.1L418.7 489.1L419.0 489.1L419.4 489.1L419.8 489.1L420.1 489.1L420.5 489.1L420.8 489.0L421.2 489.0L421.6 489.0L421.9 489.0L422.3 488.9L422.7 488.9L423.0 488.9L423.4 488.8L423.8 488.8L424.1 488.7L424.5 488.7L424.9 488.6L425.2 488.6L425.6 488.5L426.0 488.5L426.3 488.4L426.7 488.3L427.0 488.3L427.4 488.2L427.8 488.1L428.1 488.0L428.5 488.0L428.9 487.9L429.2 487.8L429.6 487.7L430.0 487.6L430.3 487.5L430.7 487.4L431.1 487.3L431.4 487.2L431.8 487.1L432.2 487.0L432.5 486.9L432.9 486.7L433.2 486.6L433.6 486.5L434.0 486.4L434.3 486.2L434.7 486.1L435.1 485.9L435.4 485.8L435.8 485.6L436.2 485.5L436.5 485.3L436.9 485.2L437.3 485.0L437.6 484.8L438.0 484.7L438.3 484.5L438.7 484.3L439.1 484.1L439.4 483.9L439.8 483.7L440.2 483.5L440.5 483.3L440.9 483.1L441.3 482.9L441.6 482.6L442.0 482.4L442.4 482.2L442.7 482.0L443.1 481.7L443.5 481.5L443.8 481.2L444.2 480.9L444.5 480.7L444.9 480.4L445.3 480.1L445.6 479.8L446.0 479.5L446.4 479.2L446.7 478.9L447.1 478.6L447.5 478.3L447.8 478.0L448.2 477.6L448.6 477.3L448.9 476.9L449.3 476.6L449.6 476.2L450.0 475.8L450.4 475.4L450.7 475.0L451.1 474.6L451.5 474.2L451.8 473.8L452.2 473.4L452.6 472.9L452.9 472.5L453.3 472.0L453.7 471.5L454.0 471.0L454.4 470.5L454.8 470.0L455.1 469.5L455.5 468.9L455.8 468.4L456.2 467.8L456.6 467.2L456.9 466.6L457.3 466.0L457.7 465.4L458.0 464.7L458.4 464.1L458.8 463.4L459.1 462.7L459.5 462.0L459.9 461.2L460.2 460.5L460.6 459.7L461.0 458.9L461.3 458.1L461.7 457.2L462.0 456.4L462.4 455.5L462.8 454.6L463.1 453.6L463.5 452.7L463.9 451.7L464.2 450.6L464.6 449.6L465.0 448.5L465.3 447.4L465.7 446.3L466.1 445.1L466.4 443.9L466.8 442.6L467.1 441.3L467.5 440.0L467.9 438.6L468.2 437.2L468.6 435.7L469.0 434.2L469.3 432.7L469.7 431.1L470.1 429.5L470.4 427.8L470.8 426.0L471.2 424.2L471.5 422.3L471.9 420.4L472.3 418.4L472.6 416.3L473.0 414.2L473.3 412.0L473.7 409.7L474.1 407.4L474.4 404.9L474.8 402.4L475.2 399.8L475.5 397.1L475.9 394.3L476.3 391.4L476.6 388.5L477.0 385.4L477.4 382.2L477.7 378.9L478.1 375.5L478.4 371.9L478.8 368.3L479.2 364.5L479.5 360.5L479.9 356.5L480.3 352.3L480.6 348.0L481.0 343.5L481.4 338.8L481.7 334.0L482.1 329.1L482.5 324.0L482.8 318.7L483.2 313.2L483.6 307.6L483.9 301.8L484.3 295.9L484.6 289.8L485.0 283.5L485.4 277.1L485.7 270.5L486.1 263.7L486.5 256.8L486.8 249.8L487.2 242.7L487.6 235.4L487.9 228.1L488.3 220.6L488.7 213.2L489.0 205.7L489.4 198.2L489.8 190.7L490.1 183.3L490.5 176.0L490.8 168.8L491.2 161.8L491.6 155.0L491.9 148.5L492.3 142.3L492.7 136.4L493.0 131.0L493.4 126.0L493.8 121.4L494.1 117.4L494.5 114.0L494.9 111.2L495.2 108.9L495.6 107.3L495.9 106.4L496.3 106.2L496.7 106.6L497.0 107.6L497.4 109.3L497.8 111.6L498.1 114.5L498.5 118.0L498.9 122.0L499.2 126.6L499.6 131.6L500.0 137.0L500.3 142.7L500.7 148.9L501.1 155.3L501.4 161.9L501.8 168.8L502.1 175.8L502.5 182.9L502.9 190.2L503.2 197.4L503.6 204.7L504.0 212.0L504.3 219.3L504.7 226.5L505.1 233.6L505.4 240.6L505.8 247.6L506.2 254.4L506.5 261.0L506.9 267.5L507.2 273.9L507.6 280.1L508.0 286.2L508.3 292.1L508.7 297.8L509.1 303.4L509.4 308.8L509.8 314.1L510.2 319.2L510.5 324.1L510.9 328.9L511.3 333.5L511.6 337.9L512.0 342.3L512.4 346.4L512.7 350.5L513.1 354.4L513.4 358.1L513.8 361.8L514.2 365.3L514.5 368.7L514.9 372.0L515.3 375.2L515.6 378.2L516.0 381.2L516.4 384.0L516.7 386.8L517.1 389.5L517.5 392.0L517.8 394.5L518.2 396.9L518.5 399.3L518.9 401.5L519.3 403.7L519.6 405.8L520.0 407.8L520.4 409.8L520.7 411.7L521.1 413.5L521.5 415.3L521.8 417.0L522.2 418.7L522.6 420.3L522.9 421.8L523.3 423.3L523.7 424.8L524.0 426.2L524.4 427.6L524.7 428.9L525.1 430.2L525.5 431.4L525.8 432.6L526.2 433.8L526.6 434.9L526.9 436.0L527.3 437.1L527.7 438.1L528.0 439.1L528.4 440.1L528.8 441.1L529.1 442.0L529.5 442.9L529.9 443.7L530.2 444.5L530.6 445.4L530.9 446.1L531.3 446.9L531.7 447.6L532.0 448.4L532.4 449.1L532.8 449.7L533.1 450.4L533.5 451.0L533.9 451.6L534.2 452.2L534.6 452.8L535.0 453.4L535.3 453.9L535.7 454.5L536.0 455.0L536.4 455.5L536.8 456.0L537.1 456.4L537.5 456.9L537.9 457.3L538.2 457.8L538.6 458.2L539.0 458.6L539.3 459.0L539.7 459.3L540.1 459.7L540.4 460.1L540.8 460.4L541.2 460.7L541.5 461.1L541.9 461.4L542.2 461.7L542.6 462.0L543.0 462.2L543.3 462.5L543.7 462.8L544.1 463.0L544.4 463.3L544.8 463.5L545.2 463.7L545.5 463.9L545.9 464.2L546.3 464.4L546.6 464.5L547.0 464.7L547.3 464.9L547.7 465.1L548.1 465.2L548.4 465.4L548.8 465.5L549.2 465.7L549.5 465.8L549.9 465.9L550.3 466.0L550.6 466.1L551.0 466.2L551.4 466.3L551.7 466.4L552.1 466.5L552.5 466.6L552.8 466.7L553.2 466.7L553.5 466.8L553.9 466.8L554.3 466.9L554.6 466.9L555.0 466.9L555.4 467.0L555.7 467.0L556.1 467.0L556.5 467.0L556.8 467.0L557.2 467.0L557.6 467.0L557.9 467.0L558.3 466.9L558.7 466.9L559.0 466.9L559.4 466.8L559.7 466.8L560.1 466.7L560.5 466.6L560.8 466.6L561.2 466.5L561.6 466.4L561.9 466.3L562.3 466.2L562.7 466.1L563.0 466.0L563.4 465.9L563.8 465.8L564.1 465.6L564.5 465.5L564.8 465.4L565.2 465.2L565.6 465.1L565.9 464.9L566.3 464.7L566.7 464.5L567.0 464.3L567.4 464.1L567.8 463.9L568.1 463.7L568.5 463.5L568.9 463.2L569.2 463.0L569.6 462.7L570.0 462.5L570.3 462.2L570.7 461.9L571.0 461.6L571.4 461.3L571.8 461.0L572.1 460.7L572.5 460.4L572.9 460.0L573.2 459.7L573.6 459.3L574.0 458.9L574.3 458.5L574.7 458.1L575.1 457.7L575.4 457.2L575.8 456.8L576.1 456.3L576.5 455.9L576.9 455.4L577.2 454.9L577.6 454.3L578.0 453.8L578.3 453.2L578.7 452.7L579.1 452.1L579.4 451.5L579.8 450.8L580.2 450.2L580.5 449.5L580.9 448.8L581.3 448.1L581.6 447.4L582.0 446.6L582.3 445.8L582.7 445.0L583.1 444.2L583.4 443.3L583.8 442.4L584.2 441.5L584.5 440.6L584.9 439.6L585.3 438.6L585.6 437.5L586.0 436.5L586.4 435.3L586.7 434.2L587.1 433.0L587.5 431.8L587.8 430.5L588.2 429.2L588.5 427.9L588.9 426.5L589.3 425.0L589.6 423.5L590.0 422.0L590.4 420.3L590.7 418.7L591.1 417.0L591.5 415.2L591.8 413.3L592.2 411.4L592.6 409.4L592.9 407.4L593.3 405.3L593.6 403.1L594.0 400.8L594.4 398.4L594.7 395.9L595.1 393.4L595.5 390.7L595.8 388.0L596.2 385.1L596.6 382.1L596.9 379.1L597.3 375.9L597.7 372.5L598.0 369.1L598.4 365.5L598.8 361.8L599.1 357.9L599.5 353.9L599.8 349.7L600.2 345.4L600.6 340.8L600.9 336.1L601.3 331.3L601.7 326.2L602.0 321.0L602.4 315.5L602.8 309.9L603.1 304.0L603.5 297.9L603.9 291.6L604.2 285.1L604.6 278.4L604.9 271.4L605.3 264.2L605.7 256.8L606.0 249.2L606.4 241.3L606.8 233.3L607.1 225.0L607.5 216.6L607.9 208.0L608.2 199.3L608.6 190.4L609.0 181.5L609.3 172.5L609.7 163.5L610.1 154.5L610.4 145.6L610.8 136.8L611.1 128.2L611.5 119.8L611.9 111.7L612.2 104.0L612.6 96.7L613.0 90.0L613.3 83.8L613.7 78.2L614.1 73.3L614.4 69.2L614.8 65.9L615.2 63.4L615.5 61.8L615.9 61.0L616.2 61.2L616.6 62.3L617.0 64.3L617.3 67.1L617.7 70.8L618.1 75.3L618.4 80.5L618.8 86.4L619.2 93.0L619.5 100.1L619.9 107.7L620.3 115.7L620.6 124.1L621.0 132.7L621.4 141.6L621.7 150.6L622.1 159.8L622.4 168.8L622.8 177.8L623.2 186.8L623.5 195.7L623.9 204.5L624.3 213.1L624.6 221.6L625.0 229.9L625.4 238.0L625.7 246.0L626.1 253.7L626.5 261.2L626.8 268.4L627.2 275.5L627.6 282.3L627.9 288.8L628.3 295.2L628.6 301.3L629.0 307.2L629.4 312.9L629.7 318.3L630.1 323.6L630.5 328.6L630.8 333.5L631.2 338.1L631.6 342.5L631.9 346.8L632.3 350.9L632.7 354.8L633.0 358.5L633.4 362.1L633.7 365.5L634.1 368.8L634.5 372.0L634.8 375.0L635.2 377.9L635.6 380.7L635.9 383.4L636.3 386.0L636.7 388.4L637.0 390.8L637.4 393.1L637.8 395.3L638.1 397.4L638.5 399.5L638.9 401.5L639.2 403.4L639.6 405.3L639.9 407.1L640.3 408.8L640.7 410.6L641.0 412.2L641.4 413.9L641.8 415.5L642.1 417.1L642.5 418.6L642.9 420.1L643.2 421.6L643.6 423.1L644.0 424.5L644.3 425.9L644.7 427.3L645.0 428.6L645.4 429.9L645.8 431.1L646.1 432.3L646.5 433.5L646.9 434.6L647.2 435.7L647.6 436.7L648.0 437.7L648.3 438.6L648.7 439.5L649.1 440.4L649.4 441.3L649.8 442.1L650.2 443.0L650.5 443.8L650.9 444.5L651.2 445.3L651.6 446.0L652.0 446.7L652.3 447.4L652.7 448.1L653.1 448.7L653.4 449.4L653.8 450.0L654.2 450.6L654.5 451.3L654.9 451.9L655.3 452.6L655.6 453.2L656.0 453.9L656.4 454.6L656.7 455.2L657.1 455.9L657.4 456.5L657.8 457.1L658.2 457.8L658.5 458.4L658.9 459.0L659.3 459.6L659.6 460.2L660.0 460.8L660.4 461.3L660.7 461.8L661.1 462.4L661.5 462.8L661.8 463.3L662.2 463.7L662.5 464.2L662.9 464.6L663.3 465.0L663.6 465.4L664.0 465.8L664.4 466.2L664.7 466.5L665.1 466.9L665.5 467.2L665.8 467.6L666.2 467.9L666.6 468.3L666.9 468.6L667.3 468.9L667.7 469.2L668.0 469.5L668.4 469.8L668.7 470.1L669.1 470.3L669.5 470.6L669.8 470.9L670.2 471.2L670.6 471.4L670.9 471.7L671.3 471.9L671.7 472.2L672.0 472.4L672.4 472.7L672.8 472.9L673.1 473.1L673.5 473.3L673.8 473.6L674.2 473.8L674.6 474.0L674.9 474.2L675.3 474.4L675.7 474.6L676.0 474.8L676.4 475.0L676.8 475.2L677.1 475.4L677.5 475.6L677.9 475.7L678.2 475.9L678.6 476.1L679.0 476.2L679.3 476.4L679.7 476.6L680.0 476.7L680.4 476.9L680.8 477.0L681.1 477.2L681.5 477.3L681.9 477.4L682.2 477.6L682.6 477.7L683.0 477.8L683.3 478.0L683.7 478.1L684.1 478.2L684.4 478.3L684.8 478.4L685.2 478.5L685.5 478.7L685.9 478.8L686.2 478.9L686.6 479.0L687.0 479.1L687.3 479.2L687.7 479.3L688.1 479.4L688.4 479.4L688.8 479.5L689.2 479.6L689.5 479.7L689.9 479.8L690.3 479.9L690.6 479.9L691.0 480.0L691.3 480.1L691.7 480.2L692.1 480.2L692.4 480.3L692.8 480.4L693.2 480.4L693.5 480.5L693.9 480.5L694.3 480.6L694.6 480.6L695.0 480.7L695.4 480.7L695.7 480.8L696.1 480.8L696.5 480.9L696.8 480.9L697.2 481.0L697.5 481.0L697.9 480.9L698.3 480.8L698.6 480.8L699.0 480.7L699.4 480.6L699.7 480.5L700.1 480.4L700.5 480.3L700.8 480.2L701.2 480.1L701.6 480.0L701.9 479.8L702.3 479.7L702.6 479.6L703.0 479.5L703.4 479.4L703.7 479.3L704.1 479.2L704.5 479.0L704.8 478.9L705.2 478.8L705.6 478.7L705.9 478.5L706.3 478.4L706.7 478.3L707.0 478.1L707.4 478.0L707.8 477.9L708.1 477.7L708.5 477.6L708.8 477.5L709.2 477.3L709.6 477.2L709.9 477.0L710.3 476.9L710.7 476.7L711.0 476.6L711.4 476.4L711.8 476.2L712.1 476.0L712.5 475.8L712.9 475.6L713.2 475.4L713.6 475.2L713.9 475.0L714.3 474.8L714.7 474.6L715.0 474.3L715.4 474.1L715.8 473.8L716.1 473.6L716.5 473.4L716.9 473.1L717.2 472.9L717.6 472.6L718.0 472.4L718.3 472.1L718.7 471.9L719.1 471.6L719.4 471.4L719.8 471.1L720.1 470.9L720.5 470.6L720.9 470.4L721.2 470.2L721.6 469.9L722.0 469.7L722.3 469.5L722.7 469.2L723.1 469.0L723.4 468.8L723.8 468.6L724.2 468.4L724.5 468.2L724.9 468.0L725.3 467.9L725.6 467.7L726.0 467.5L726.3 467.4L726.7 467.2L727.1 467.1L727.4 467.0L727.8 466.9L728.2 466.8L728.5 466.7L728.9 466.6L729.3 466.5L729.6 466.5L730.0 466.4L730.4 466.4L730.7 466.3L731.1 466.2L731.4 466.2L731.8 466.1L732.2 466.1L732.5 466.0L732.9 466.0L733.3 465.9L733.6 465.9L734.0 465.9L734.4 465.8L734.7 465.8L735.1 465.7L735.5 465.7L735.8 465.7L736.2 465.7L736.6 465.7L736.9 465.6L737.3 465.6L737.6 465.6L738.0 465.6L738.4 465.7L738.7 465.7L739.1 465.8L739.5 465.9L739.8 466.0L740.2 466.1L740.6 466.2L740.9 466.4L741.3 466.5L741.7 466.7L742.0 466.8L742.4 467.0L742.7 467.2L743.1 467.4L743.5 467.6L743.8 467.8L744.2 468.0L744.6 468.2L744.9 468.4L745.3 468.6L745.7 468.8L746.0 468.9L746.4 469.1L746.8 469.3L747.1 469.4L747.5 469.6L747.9 469.7L748.2 469.8L748.6 469.9L748.9 470.0L749.3 470.1L749.7 470.1L750.0 470.1L750.4 470.1L750.8 470.1L751.1 470.1L751.5 470.0L751.9 469.9L752.2 469.8L752.6 469.7L753.0 469.5L753.3 469.3L753.7 469.1L754.1 468.9L754.4 468.7L754.8 468.4L755.1 468.1L755.5 467.9L755.9 467.6L756.2 467.3L756.6 466.9L757.0 466.6L757.3 466.2L757.7 465.9L758.1 465.5L758.4 465.1L758.8 464.7L759.2 464.3L759.5 463.9L759.9 463.5L760.2 463.1L760.6 462.7L761.0 462.2L761.3 461.8L761.7 461.4L762.1 460.9L762.4 460.5L762.8 460.0L763.2 459.6L763.5 459.2L763.9 458.7L764.3 458.3L764.6 457.9L765.0 457.4L765.4 457.0L765.7 456.6L766.1 456.2L766.4 455.8L766.8 455.4L767.2 455.0L767.5 454.6L767.9 454.3L768.3 453.9L768.6 453.5L769.0 453.2L769.4 452.8L769.7 452.5L770.1 452.1L770.5 451.7L770.8 451.4L771.2 451.0L771.5 450.7L771.9 450.3L772.3 449.9L772.6 449.6L773.0 449.2L773.4 448.8L773.7 448.5L774.1 448.1L774.5 447.7L774.8 447.4L775.2 447.0L775.6 446.6L775.9 446.2L776.3 445.9L776.7 445.5L777.0 445.1L777.4 444.7L777.7 444.3L778.1 443.9L778.5 443.5L778.8 443.1L779.2 442.7L779.6 442.3L779.9 441.9L780.3 441.4L780.7 441.0L781.0 440.6L781.4 440.2L781.8 439.7L782.1 439.3L782.5 438.8L782.9 438.3L783.2 437.9L783.6 437.4L783.9 436.9L784.3 436.4L784.7 435.9L785.0 435.4L785.4 434.9L785.8 434.4L786.1 433.9L786.5 433.4L786.9 432.8L787.2 432.3L787.6 431.7L788.0 431.1L788.3 430.5L788.7 429.9L789.0 429.3L789.4 428.7L789.8 428.1L790.1 427.4L790.5 426.7L790.9 426.1L791.2 425.4L791.6 424.7L792.0 424.0L792.3 423.2L792.7 422.5L793.1 421.7L793.4 421.0L793.8 420.2L794.2 419.4L794.5 418.6L794.9 417.7L795.2 416.9L795.6 416.0L796.0 415.1L796.3 414.2L796.7 413.3L797.1 412.3L797.4 411.3L797.8 410.2L798.2 409.1L798.5 407.9L798.9 406.7L799.3 405.5L799.6 404.2L800.0 403.0L800.3 401.7L800.7 400.4L801.1 399.1L801.4 397.9L801.8 396.6L802.2 395.3L802.5 394.1L802.9 392.9L803.3 391.7L803.6 390.5L804.0 389.4L804.4 388.2L804.7 387.1L805.1 386.0L805.5 384.8L805.8 383.7L806.2 382.6L806.5 381.5L806.9 380.3L807.3 379.2L807.6 378.0L808.0 376.9L808.4 375.7L808.7 374.5L809.1 373.3L809.5 372.1L809.8 370.8L810.2 369.5L810.6 368.2L810.9 366.9L811.3 365.5L811.6 364.1L812.0 362.7L812.4 361.2L812.7 359.6L813.1 358.0L813.5 356.3L813.8 354.6L814.2 352.8L814.6 351.0L814.9 349.2L815.3 347.4L815.7 345.6L816.0 343.7L816.4 341.9L816.8 340.1L817.1 338.3L817.5 336.6L817.8 334.8L818.2 333.0L818.6 331.2L818.9 329.4L819.3 327.6L819.7 325.7L820.0 323.8L820.4 321.8L820.8 319.8L821.1 317.7L821.5 315.5L821.9 313.3L822.2 310.9L822.6 308.5L823.0 306.1L823.3 303.6L823.7 301.1L824.0 298.6L824.4 296.2L824.8 293.7L825.1 291.4L825.5 289.0L825.9 286.8L826.2 284.6L826.6 282.6L827.0 280.6L827.3 278.7L827.7 276.7L828.1 274.8L828.4 272.8L828.8 270.6L829.1 268.4L829.5 266.0L829.9 263.3L830.2 260.4L830.6 257.3L831.0 254.1L831.3 251.0L831.7 248.1L832.1 245.3L832.4 242.7L832.8 240.2L833.2 237.7L833.5 235.3L833.9 232.9L834.3 230.6L834.6 228.3L835.0 226.0L835.3 223.7L835.7 221.3L836.1 219.0L836.4 216.6L836.8 214.2L837.2 211.8L837.5 209.4L837.9 207.0L838.3 204.6L838.6 202.2L839.0 199.6L839.4 197.0L839.7 194.2L840.1 191.0L840.4 187.5L840.8 183.7L841.2 179.9L841.5 176.3L841.9 173.1L842.3 170.4L842.6 168.0L843.0 165.8L843.4 163.6L843.7 161.6L844.1 159.7L844.5 157.9L844.8 156.1L845.2 154.4L845.6 152.8L845.9 151.1L846.3 149.5L846.6 148.0L847.0 146.4L847.4 144.7L847.7 143.1L848.1 141.4L848.5 139.6L848.8 137.8L849.2 136.0L849.6 134.1L849.9 132.3L850.3 130.4L850.7 128.6L851.0 126.8L851.4 125.0L851.8 123.3L852.1 121.7L852.5 120.2L852.8 118.8L853.2 117.4L853.6 116.0L853.9 114.7L854.3 113.4L854.7 112.1L855.0 110.9L855.4 109.7L855.8 108.5L856.1 107.3L856.5 106.2L856.9 105.0L857.2 103.9L857.6 102.7L857.9 101.6L858.3 100.4L858.7 99.3L859.0 98.1L859.4 97.0L859.8 95.8L860.1 94.7L860.5 93.6L860.9 92.4L861.2 91.3L861.6 90.2L862.0 89.1L862.3 88.0L862.7 86.9L863.1 85.8L863.4 84.8L863.8 83.7L864.1 82.7L864.5 81.7L864.9 80.7L865.2 79.8L865.6 78.8L866.0 77.9L866.3 76.8L866.7 75.8L867.1 74.7L867.4 73.6L867.8 72.5L868.2 71.4L868.5 70.4L868.9 69.4L869.2 68.5L869.6 67.7L870.0 67.0L870.3 66.4L870.7 66.0L871.1 65.7L871.4 65.5L871.8 65.6L872.2 65.9L872.5 66.5L872.9 67.2L873.3 68.2L873.6 69.3L874.0 70.6L874.4 72.0L874.7 73.4L875.1 75.0L875.4 76.6L875.8 78.2L876.2 79.8L876.5 81.4L876.9 83.0L877.3 84.5L877.6 86.2L878.0 87.9L878.4 89.7L878.7 91.6L879.1 93.6L879.5 95.7L879.8 97.8L880.2 100.0L880.6 102.2L880.9 104.4L881.3 106.7L881.6 109.0L882.0 111.3L882.4 113.6L882.7 116.0L883.1 118.3L883.5 120.6L883.8 122.8L884.2 125.1L884.6 127.3L884.9 129.6L885.3 131.8L885.7 134.1L886.0 136.4L886.4 138.7L886.7 141.0L887.1 143.4L887.5 145.7L887.8 148.1L888.2 150.4L888.6 152.8L888.9 155.2L889.3 157.6L889.7 160.0L890.0 162.4L890.4 164.8L890.8 167.3L891.1 169.7L891.5 172.2L891.9 174.6L892.2 177.1L892.6 179.6L892.9 182.0L893.3 184.5L893.7 187.1L894.0 189.7L894.4 192.4L894.8 195.1L895.1 197.8L895.5 200.5L895.9 203.3L896.2 206.1L896.6 208.9L897.0 211.7L897.3 214.5L897.7 217.3L898.0 220.2L898.4 222.9L898.8 225.7L899.1 228.5L899.5 231.2L899.9 233.9L900.2 236.5L900.6 239.1L901.0 241.6L901.3 244.1L901.7 246.5L902.1 248.9L902.4 251.2L902.8 253.4L903.2 255.5L903.5 257.6L903.9 259.6L904.2 261.7L904.6 263.7L905.0 265.7L905.3 267.7L905.7 269.6L906.1 271.5L906.4 273.4L906.8 275.3L907.2 277.2L907.5 279.0L907.9 280.9L908.3 282.7L908.6 284.4L909.0 286.2L909.3 288.0L909.7 289.7L910.1 291.4L910.4 293.1L910.8 294.8L911.2 296.5L911.5 298.1L911.9 299.7L912.3 301.3L912.6 302.9L913.0 304.5L913.4 306.1L913.7 307.6L914.1 309.2L914.5 310.7L914.8 312.2L915.2 313.7L915.5 315.1L915.9 316.6L916.3 318.0L916.6 319.5L917.0 320.9L917.4 322.3L917.7 323.7L918.1 325.1L918.5 326.5L918.8 327.8L919.2 329.2L919.6 330.5L919.9 331.9L920.3 333.2L920.7 334.5L921.0 335.9L921.4 337.2L921.7 338.5L922.1 339.8L922.5 341.1L922.8 342.3L923.2 343.6L923.6 344.9L923.9 346.1L924.3 347.4L924.7 348.6L925.0 349.9L925.4 351.1L925.8 352.3L926.1 353.5L926.5 354.7L926.8 355.9L927.2 357.0L927.6 358.2L927.9 359.3L928.3 360.5L928.7 361.6L929.0 362.7L929.4 363.9L929.8 365.0L930.1 366.0L930.5 367.1L930.9 368.2L931.2 369.2L931.6 370.3L932.0 371.3L932.3 372.3L932.7 373.4L933.0 374.4L933.4 375.3L933.8 376.3L934.1 377.3L934.5 378.2L934.9 379.2L935.2 380.1L935.6 381.0L936.0 381.9L936.3 382.8L936.7 383.7L937.1 384.5L937.4 385.4L937.8 386.2L938.1 387.0L938.5 387.9L938.9 388.7L939.2 389.4L939.6 390.2L940.0 391.0L940.3 391.7L940.7 392.5L941.1 393.2L941.4 393.9L941.8 394.6L942.2 395.3L942.5 396.0L942.9 396.7L943.3 397.4L943.6 398.1L944.0 398.7L944.3 399.4L944.7 400.0L945.1 400.6L945.4 401.3L945.8 401.9L946.2 402.5L946.5 403.1L946.9 403.7L947.3 404.3L947.6 404.9L948.0 405.5L948.4 406.1L948.7 406.7L949.1 407.3L949.5 407.9L949.8 408.5L950.2 409.1L950.5 409.7L950.9 410.3L951.3 410.9L951.6 411.4L952.0 412.0L952.4 412.6L952.7 413.1L953.1 413.7L953.5 414.3L953.8 414.8L954.2 415.4L954.6 415.9L954.9 416.4L955.3 417.0L955.6 417.5L956.0 418.0L956.4 418.5L956.7 419.0L957.1 419.5L957.5 420.0L957.8 420.5L958.2 421.0L958.6 421.5L958.9 422.0L959.3 422.4L959.7 422.9L960.0 423.3L960.4 423.7L960.8 424.2L961.1 424.6L961.5 425.0L961.8 425.4L962.2 425.8L962.6 426.2L962.9 426.5L963.3 426.9L963.7 427.2L964.0 427.6L964.4 427.9L964.8 428.3L965.1 428.6L965.5 429.0L965.9 429.3L966.2 429.6L966.6 430.0L966.9 430.3L967.3 430.6L967.7 430.9L968.0 431.3L968.4 431.6L968.8 431.9L969.1 432.2L969.5 432.5L969.9 432.8L970.2 433.1L970.6 433.4L971.0 433.6L971.3 433.9L971.7 434.2L972.1 434.5L972.4 434.7L972.8 435.0L973.1 435.2L973.5 435.5L973.9 435.7L974.2 435.9L974.6 436.2L975.0 436.4L975.3 436.6L975.7 436.8L976.1 437.0L976.4 437.2L976.8 437.4L977.2 437.6L977.5 437.8L977.9 437.9L978.2 438.1" stroke="#0000ff" stroke-width="7.0" stroke-linecap="round" stroke-dasharray="30.7 20.2 3.9 20.2" stroke-dashoffset="28.00"/>
<path d="M176.6 512.2L177.0 512.2L177.3 512.2L177.7 512.2L178.1 512.2L178.4 512.2L178.8 512.2L179.2 512.2L179.5 512.2L179.9 512.2L180.2 512.2L180.6 512.2L181.0 512.1L181.3 512.1L181.7 512.1L182.1 512.1L182.4 512.1L182.8 512.1L183.2 512.1L183.5 512.1L183.9 512.1L184.3 512.1L184.6 512.1L185.0 512.1L185.3 512.0L185.7 512.0L186.1 512.0L186.4 512.0L186.8 512.0L187.2 512.0L187.5 512.0L187.9 512.0L188.3 512.0L188.6 512.0L189.0 511.9L189.4 511.9L189.7 511.9L190.1 511.9L190.5 511.9L190.8 511.9L191.2 511.9L191.5 511.9L191.9 511.9L192.3 511.8L192.6 511.8L193.0 511.8L193.4 511.8L193.7 511.8L194.1 511.8L194.5 511.8L194.8 511.7L195.2 511.7L195.6 511.7L195.9 511.7L196.3 511.7L196.7 511.7L197.0 511.7L197.4 511.6L197.7 511.6L198.1 511.6L198.5 511.6L198.8 511.6L199.2 511.6L199.6 511.5L199.9 511.5L200.3 511.5L200.7 511.5L201.0 511.5L201.4 511.4L201.8 511.4L202.1 511.4L202.5 511.4L202.8 511.4L203.2 511.4L203.6 511.3L203.9 511.3L204.3 511.3L204.7 511.3L205.0 511.2L205.4 511.2L205.8 511.2L206.1 511.2L206.5 511.2L206.9 511.1L207.2 511.1L207.6 511.1L208.0 511.1L208.3 511.0L208.7 511.0L209.0 511.0L209.4 511.0L209.8 510.9L210.1 510.9L210.5 510.9L210.9 510.9L211.2 510.8L211.6 510.8L212.0 510.8L212.3 510.7L212.7 510.7L213.1 510.7L213.4 510.6L213.8 510.6L214.1 510.6L214.5 510.6L214.9 510.5L215.2 510.5L215.6 510.5L216.0 510.4L216.3 510.4L216.7 510.3L217.1 510.3L217.4 510.3L217.8 510.2L218.2 510.2L218.5 510.2L218.9 510.1L219.3 510.1L219.6 510.0L220.0 510.0L220.3 510.0L220.7 509.9L221.1 509.9L221.4 509.8L221.8 509.8L222.2 509.7L222.5 509.7L222.9 509.6L223.3 509.6L223.6 509.5L224.0 509.5L224.4 509.4L224.7 509.4L225.1 509.3L225.4 509.3L225.8 509.2L226.2 509.1L226.5 509.1L226.9 509.0L227.3 509.0L227.6 508.9L228.0 508.8L228.4 508.8L228.7 508.7L229.1 508.6L229.5 508.5L229.8 508.4L230.2 508.3L230.6 508.3L230.9 508.2L231.3 508.1L231.6 508.0L232.0 507.9L232.4 507.8L232.7 507.6L233.1 507.5L233.5 507.4L233.8 507.3L234.2 507.2L234.6 507.0L234.9 506.9L235.3 506.8L235.7 506.6L236.0 506.5L236.4 506.3L236.8 506.1L237.1 506.0L237.5 505.8L237.8 505.6L238.2 505.4L238.6 505.2L238.9 505.0L239.3 504.8L239.7 504.6L240.0 504.4L240.4 504.1L240.8 503.9L241.1 503.6L241.5 503.4L241.9 503.1L242.2 502.8L242.6 502.5L242.9 502.2L243.3 501.9L243.7 501.5L244.0 501.2L244.4 500.8L244.8 500.4L245.1 500.0L245.5 499.6L245.9 499.1L246.2 498.7L246.6 498.2L247.0 497.6L247.3 497.1L247.7 496.5L248.1 495.9L248.4 495.3L248.8 494.6L249.1 493.9L249.5 493.1L249.9 492.3L250.2 491.5L250.6 490.6L251.0 489.6L251.3 488.6L251.7 487.5L252.1 486.3L252.4 485.0L252.8 483.7L253.2 482.2L253.5 480.7L253.9 479.0L254.2 477.2L254.6 475.2L255.0 473.1L255.3 470.8L255.7 468.2L256.1 465.5L256.4 462.5L256.8 459.2L257.2 455.5L257.5 451.5L257.9 447.1L258.3 442.2L258.6 436.7L259.0 430.6L259.4 423.8L259.7 416.2L260.1 407.7L260.4 398.1L260.8 387.2L261.2 375.0L261.5 361.2L261.9 345.5L262.3 327.9L262.6 308.1L263.0 286.0L263.4 261.5L263.7 234.7L264.1 206.2L264.5 176.7L264.8 147.4L265.2 120.0L265.6 96.8L265.9 80.0L266.3 71.4L266.6 72.0L267.0 81.8L267.4 99.6L267.7 123.4L268.1 151.0L268.5 180.3L268.8 209.5L269.2 237.6L269.6 263.9L269.9 287.8L270.3 309.5L270.7 328.8L271.0 346.0L271.4 361.2L271.7 374.6L272.1 386.5L272.5 397.1L272.8 406.4L273.2 414.7L273.6 422.1L273.9 428.6L274.3 434.5L274.7 439.8L275.0 444.5L275.4 448.8L275.8 452.7L276.1 456.2L276.5 459.3L276.9 462.2L277.2 464.8L277.6 467.2L277.9 469.4L278.3 471.5L278.7 473.3L279.0 475.0L279.4 476.6L279.8 478.1L280.1 479.4L280.5 480.7L280.9 481.8L281.2 482.9L281.6 483.9L282.0 484.8L282.3 485.7L282.7 486.5L283.0 487.3L283.4 488.0L283.8 488.6L284.1 489.3L284.5 489.9L284.9 490.4L285.2 490.9L285.6 491.4L286.0 491.9L286.3 492.3L286.7 492.7L287.1 493.1L287.4 493.4L287.8 493.7L288.2 494.1L288.5 494.4L288.9 494.6L289.2 494.9L289.6 495.1L290.0 495.4L290.3 495.6L290.7 495.8L291.1 496.0L291.4 496.2L291.8 496.3L292.2 496.5L292.5 496.6L292.9 496.8L293.3 496.9L293.6 497.0L294.0 497.1L294.4 497.2L294.7 497.3L295.1 497.4L295.4 497.4L295.8 497.5L296.2 497.5L296.5 497.6L296.9 497.6L297.3 497.6L297.6 497.7L298.0 497.7L298.4 497.7L298.7 497.7L299.1 497.7L299.5 497.7L299.8 497.7L300.2 497.6L300.5 497.6L300.9 497.6L301.3 497.6L301.6 497.5L302.0 497.5L302.4 497.4L302.7 497.4L303.1 497.3L303.5 497.2L303.8 497.2L304.2 497.1L304.6 497.0L304.9 496.9L305.3 496.9L305.7 496.8L306.0 496.7L306.4 496.6L306.7 496.5L307.1 496.4L307.5 496.2L307.8 496.1L308.2 496.0L308.6 495.9L308.9 495.7L309.3 495.6L309.7 495.4L310.0 495.3L310.4 495.1L310.8 495.0L311.1 494.8L311.5 494.6L311.8 494.5L312.2 494.3L312.6 494.1L312.9 493.9L313.3 493.7L313.7 493.5L314.0 493.3L314.4 493.1L314.8 492.8L315.1 492.6L315.5 492.4L315.9 492.1L316.2 491.9L316.6 491.6L317.0 491.3L317.3 491.1L317.7 490.8L318.0 490.5L318.4 490.2L318.8 489.9L319.1 489.5L319.5 489.2L319.9 488.9L320.2 488.5L320.6 488.1L321.0 487.8L321.3 487.4L321.7 487.0L322.1 486.6L322.4 486.2L322.8 485.7L323.1 485.3L323.5 484.8L323.9 484.4L324.2 483.9L324.6 483.4L325.0 482.9L325.3 482.3L325.7 481.8L326.1 481.2L326.4 480.6L326.8 480.0L327.2 479.4L327.5 478.8L327.9 478.1L328.3 477.4L328.6 476.7L329.0 476.0L329.3 475.2L329.7 474.4L330.1 473.6L330.4 472.8L330.8 471.9L331.2 471.0L331.5 470.1L331.9 469.1L332.3 468.1L332.6 467.1L333.0 466.0L333.4 464.9L333.7 463.7L334.1 462.5L334.5 461.3L334.8 460.0L335.2 458.6L335.5 457.2L335.9 455.8L336.3 454.3L336.6 452.7L337.0 451.1L337.4 449.4L337.7 447.6L338.1 445.8L338.5 443.9L338.8 441.9L339.2 439.8L339.6 437.6L339.9 435.3L340.3 432.9L340.6 430.4L341.0 427.9L341.4 425.1L341.7 422.3L342.1 419.3L342.5 416.2L342.8 413.0L343.2 409.6L343.6 406.0L343.9 402.3L344.3 398.3L344.7 394.2L345.0 389.9L345.4 385.4L345.8 380.7L346.1 375.7L346.5 370.5L346.8 365.0L347.2 359.3L347.6 353.3L347.9 347.0L348.3 340.3L348.7 333.4L349.0 326.2L349.4 318.6L349.8 310.7L350.1 302.5L350.5 293.9L350.9 284.9L351.2 275.7L351.6 266.1L351.9 256.1L352.3 245.9L352.7 235.5L353.0 224.8L353.4 213.9L353.8 202.9L354.1 191.9L354.5 180.8L354.9 169.9L355.2 159.2L355.6 148.9L356.0 139.0L356.3 129.6L356.7 121.0L357.1 113.2L357.4 106.3L357.8 100.6L358.1 96.0L358.5 92.6L358.9 90.6L359.2 89.9L359.6 90.6L360.0 92.6L360.3 96.0L360.7 100.5L361.1 106.3L361.4 113.1L361.8 120.8L362.2 129.3L362.5 138.5L362.9 148.3L363.3 158.6L363.6 169.1L364.0 179.8L364.3 190.7L364.7 201.6L365.1 212.4L365.4 223.1L365.8 233.7L366.2 244.0L366.5 254.0L366.9 263.8L367.3 273.2L367.6 282.3L368.0 291.1L368.4 299.6L368.7 307.7L369.1 315.4L369.4 322.9L369.8 330.0L370.2 336.8L370.5 343.3L370.9 349.5L371.3 355.4L371.6 361.0L372.0 366.4L372.4 371.5L372.7 376.4L373.1 381.1L373.5 385.5L373.8 389.7L374.2 393.8L374.6 397.6L374.9 401.3L375.3 404.8L375.6 408.1L376.0 411.3L376.4 414.4L376.7 417.3L377.1 420.0L377.5 422.7L377.8 425.2L378.2 427.7L378.6 430.0L378.9 432.2L379.3 434.3L379.7 436.4L380.0 438.3L380.4 440.2L380.7 442.0L381.1 443.7L381.5 445.4L381.8 447.0L382.2 448.5L382.6 450.0L382.9 451.4L383.3 452.7L383.7 454.0L384.0 455.3L384.4 456.5L384.8 457.7L385.1 458.8L385.5 459.8L385.9 460.9L386.2 461.9L386.6 462.8L386.9 463.8L387.3 464.7L387.7 465.5L388.0 466.4L388.4 467.2L388.8 467.9L389.1 468.7L389.5 469.4L389.9 470.1L390.2 470.8L390.6 471.4L391.0 472.1L391.3 472.7L391.7 473.3L392.1 473.8L392.4 474.4L392.8 474.9L393.1 475.4L393.5 475.9L393.9 476.4L394.2 476.9L394.6 477.4L395.0 477.8L395.3 478.2L395.7 478.6L396.1 479.0L396.4 479.4L396.8 479.8L397.2 480.2L397.5 480.5L397.9 480.8L398.2 481.2L398.6 481.5L399.0 481.8L399.3 482.1L399.7 482.4L400.1 482.7L400.4 482.9L400.8 483.2L401.2 483.5L401.5 483.7L401.9 484.0L402.3 484.2L402.6 484.4L403.0 484.6L403.4 484.8L403.7 485.0L404.1 485.2L404.4 485.4L404.8 485.6L405.2 485.8L405.5 486.0L405.9 486.1L406.3 486.3L406.6 486.4L407.0 486.6L407.4 486.7L407.7 486.9L408.1 487.0L408.5 487.1L408.8 487.3L409.2 487.4L409.5 487.5L409.9 487.6L410.3 487.7L410.6 487.8L411.0 487.9L411.4 488.0L411.7 488.1L412.1 488.2L412.5 488.3L412.8 488.3L413.2 488.4L413.6 488.5L413.9 488.5L414.3 488.6L414.7 488.7L415.0 488.7L415.4 488.8L415.7 488.8L416.1 488.9L416.5 488.9L416.8 488.9L417.2 489.0L417.6 489.0L417.9 489.0L418.3 489.0L418.7 489.1L419.0 489.1L419.4 489.1L419.8 489.1L420.1 489.1L420.5 489.1L420.8 489.1L421.2 489.1L421.6 489.1L421.9 489.1L422.3 489.1L422.7 489.1L423.0 489.1L423.4 489.0L423.8 489.0L424.1 489.0L424.5 489.0L424.9 488.9L425.2 488.9L425.6 488.9L426.0 488.8L426.3 488.8L426.7 488.7L427.0 488.7L427.4 488.6L427.8 488.6L428.1 488.5L428.5 488.5L428.9 488.4L429.2 488.3L429.6 488.3L430.0 488.2L430.3 488.1L430.7 488.0L431.1 488.0L431.4 487.9L431.8 487.8L432.2 487.7L432.5 487.6L432.9 487.5L433.2 487.4L433.6 487.3L434.0 487.2L434.3 487.1L434.7 487.0L435.1 486.8L435.4 486.7L435.8 486.6L436.2 486.5L436.5 486.3L436.9 486.2L437.3 486.1L437.6 485.9L438.0 485.8L438.3 485.6L438.7 485.5L439.1 485.3L439.4 485.1L439.8 485.0L440.2 484.8L440.5 484.6L440.9 484.4L441.3 484.3L441.6 484.1L442.0 483.9L442.4 483.7L442.7 483.5L443.1 483.3L443.5 483.1L443.8 482.8L444.2 482.6L444.5 482.4L444.9 482.2L445.3 481.9L445.6 481.7L446.0 481.4L446.4 481.2L446.7 480.9L447.1 480.6L447.5 480.4L447.8 480.1L448.2 479.8L448.6 479.5L448.9 479.2L449.3 478.9L449.6 478.6L450.0 478.2L450.4 477.9L450.7 477.6L451.1 477.2L451.5 476.9L451.8 476.5L452.2 476.2L452.6 475.8L452.9 475.4L453.3 475.0L453.7 474.6L454.0 474.2L454.4 473.7L454.8 473.3L455.1 472.9L455.5 472.4L455.8 471.9L456.2 471.5L456.6 471.0L456.9 470.5L457.3 469.9L457.7 469.4L458.0 468.9L458.4 468.3L458.8 467.8L459.1 467.2L459.5 466.6L459.9 466.0L460.2 465.3L460.6 464.7L461.0 464.0L461.3 463.4L461.7 462.7L462.0 461.9L462.4 461.2L462.8 460.5L463.1 459.7L463.5 458.9L463.9 458.1L464.2 457.2L464.6 456.4L465.0 455.5L465.3 454.6L465.7 453.7L466.1 452.7L466.4 451.7L466.8 450.7L467.1 449.7L467.5 448.6L467.9 447.5L468.2 446.3L468.6 445.2L469.0 444.0L469.3 442.7L469.7 441.4L470.1 440.1L470.4 438.8L470.8 437.4L471.2 435.9L471.5 434.4L471.9 432.9L472.3 431.3L472.6 429.7L473.0 428.0L473.3 426.3L473.7 424.5L474.1 422.7L474.4 420.7L474.8 418.8L475.2 416.7L475.5 414.6L475.9 412.5L476.3 410.2L476.6 407.9L477.0 405.5L477.4 403.0L477.7 400.5L478.1 397.8L478.4 395.1L478.8 392.2L479.2 389.3L479.5 386.2L479.9 383.1L480.3 379.8L480.6 376.5L481.0 373.0L481.4 369.4L481.7 365.7L482.1 361.8L482.5 357.8L482.8 353.7L483.2 349.4L483.6 345.0L483.9 340.4L484.3 335.6L484.6 330.8L485.0 325.7L485.4 320.5L485.7 315.1L486.1 309.6L486.5 303.8L486.8 297.9L487.2 291.9L487.6 285.6L487.9 279.2L488.3 272.6L488.7 265.9L489.0 259.0L489.4 252.0L489.8 244.8L490.1 237.5L490.5 230.0L490.8 222.5L491.2 214.9L491.6 207.2L491.9 199.5L492.3 191.8L492.7 184.1L493.0 176.5L493.4 168.9L493.8 161.5L494.1 154.3L494.5 147.3L494.9 140.5L495.2 134.0L495.6 127.9L495.9 122.2L496.3 116.9L496.7 112.1L497.0 107.9L497.4 104.2L497.8 101.1L498.1 98.7L498.5 96.9L498.9 95.8L499.2 95.3L499.6 95.6L500.0 96.5L500.3 98.1L500.7 100.3L501.1 103.2L501.4 106.6L501.8 110.7L502.1 115.2L502.5 120.3L502.9 125.8L503.2 131.7L503.6 137.9L504.0 144.5L504.3 151.3L504.7 158.4L505.1 165.6L505.4 172.9L505.8 180.4L506.2 187.9L506.5 195.4L506.9 203.0L507.2 210.5L507.6 218.0L508.0 225.4L508.3 232.7L508.7 239.8L509.1 246.9L509.4 253.8L509.8 260.6L510.2 267.2L510.5 273.7L510.9 280.0L511.3 286.2L511.6 292.1L512.0 297.9L512.4 303.6L512.7 309.0L513.1 314.3L513.4 319.4L513.8 324.4L514.2 329.2L514.5 333.9L514.9 338.4L515.3 342.7L515.6 346.9L516.0 351.0L516.4 354.9L516.7 358.7L517.1 362.3L517.5 365.9L517.8 369.3L518.2 372.6L518.5 375.8L518.9 378.8L519.3 381.8L519.6 384.7L520.0 387.5L520.4 390.1L520.7 392.7L521.1 395.2L521.5 397.6L521.8 400.0L522.2 402.2L522.6 404.4L522.9 406.5L523.3 408.5L523.7 410.5L524.0 412.4L524.4 414.3L524.7 416.0L525.1 417.8L525.5 419.4L525.8 421.0L526.2 422.6L526.6 424.1L526.9 425.6L527.3 427.0L527.7 428.4L528.0 429.7L528.4 431.0L528.8 432.2L529.1 433.4L529.5 434.6L529.9 435.7L530.2 436.8L530.6 437.9L530.9 438.9L531.3 439.9L531.7 440.9L532.0 441.8L532.4 442.8L532.8 443.6L533.1 444.5L533.5 445.3L533.9 446.1L534.2 446.9L534.6 447.7L535.0 448.4L535.3 449.1L535.7 449.8L536.0 450.5L536.4 451.2L536.8 451.8L537.1 452.4L537.5 453.0L537.9 453.6L538.2 454.1L538.6 454.7L539.0 455.2L539.3 455.7L539.7 456.2L540.1 456.7L540.4 457.1L540.8 457.6L541.2 458.0L541.5 458.4L541.9 458.9L542.2 459.3L542.6 459.6L543.0 460.0L543.3 460.4L543.7 460.7L544.1 461.0L544.4 461.4L544.8 461.7L545.2 462.0L545.5 462.3L545.9 462.6L546.3 462.8L546.6 463.1L547.0 463.3L547.3 463.6L547.7 463.8L548.1 464.0L548.4 464.2L548.8 464.4L549.2 464.6L549.5 464.8L549.9 465.0L550.3 465.2L550.6 465.3L551.0 465.5L551.4 465.6L551.7 465.8L552.1 465.9L552.5 466.0L552.8 466.1L553.2 466.2L553.5 466.3L553.9 466.4L554.3 466.5L554.6 466.6L555.0 466.7L555.4 466.7L555.7 466.8L556.1 466.8L556.5 466.9L556.8 466.9L557.2 466.9L557.6 467.0L557.9 467.0L558.3 467.0L558.7 467.0L559.0 467.0L559.4 467.0L559.7 467.0L560.1 466.9L560.5 466.9L560.8 466.9L561.2 466.8L561.6 466.8L561.9 466.7L562.3 466.6L562.7 466.6L563.0 466.5L563.4 466.4L563.8 466.3L564.1 466.2L564.5 466.1L564.8 466.0L565.2 465.8L565.6 465.7L565.9 465.6L566.3 465.4L566.7 465.3L567.0 465.1L567.4 464.9L567.8 464.7L568.1 464.6L568.5 464.4L568.9 464.1L569.2 463.9L569.6 463.7L570.0 463.5L570.3 463.2L570.7 463.0L571.0 462.7L571.4 462.5L571.8 462.2L572.1 461.9L572.5 461.6L572.9 461.3L573.2 461.0L573.6 460.6L574.0 460.3L574.3 459.9L574.7 459.6L575.1 459.2L575.4 458.8L575.8 458.4L576.1 458.0L576.5 457.5L576.9 457.1L577.2 456.7L577.6 456.2L578.0 455.7L578.3 455.2L578.7 454.7L579.1 454.1L579.4 453.6L579.8 453.0L580.2 452.5L580.5 451.9L580.9 451.2L581.3 450.6L581.6 449.9L582.0 449.3L582.3 448.6L582.7 447.9L583.1 447.1L583.4 446.4L583.8 445.6L584.2 444.8L584.5 443.9L584.9 443.1L585.3 442.2L585.6 441.3L586.0 440.3L586.4 439.4L586.7 438.4L587.1 437.3L587.5 436.3L587.8 435.2L588.2 434.0L588.5 432.9L588.9 431.7L589.3 430.4L589.6 429.1L590.0 427.8L590.4 426.4L590.7 425.0L591.1 423.6L591.5 422.0L591.8 420.5L592.2 418.9L592.6 417.2L592.9 415.5L593.3 413.7L593.6 411.9L594.0 410.0L594.4 408.0L594.7 406.0L595.1 403.8L595.5 401.7L595.8 399.4L596.2 397.1L596.6 394.6L596.9 392.1L597.3 389.5L597.7 386.9L598.0 384.1L598.4 381.2L598.8 378.2L599.1 375.1L599.5 371.9L599.8 368.5L600.2 365.1L600.6 361.5L600.9 357.8L601.3 353.9L601.7 350.0L602.0 345.8L602.4 341.5L602.8 337.1L603.1 332.5L603.5 327.7L603.9 322.8L604.2 317.7L604.6 312.4L604.9 306.9L605.3 301.2L605.7 295.3L606.0 289.3L606.4 283.0L606.8 276.6L607.1 269.9L607.5 263.1L607.9 256.1L608.2 248.8L608.6 241.4L609.0 233.8L609.3 226.0L609.7 218.1L610.1 210.0L610.4 201.8L610.8 193.5L611.1 185.1L611.5 176.7L611.9 168.2L612.2 159.7L612.6 151.3L613.0 142.9L613.3 134.7L613.7 126.7L614.1 118.9L614.4 111.4L614.8 104.2L615.2 97.4L615.5 91.0L615.9 85.2L616.2 79.9L616.6 75.2L617.0 71.1L617.3 67.8L617.7 65.2L618.1 63.3L618.4 62.2L618.8 61.9L619.2 62.4L619.5 63.7L619.9 65.8L620.3 68.6L620.6 72.2L621.0 76.5L621.4 81.4L621.7 86.9L622.1 93.0L622.4 99.5L622.8 106.5L623.2 113.9L623.5 121.6L623.9 129.6L624.3 137.8L624.6 146.2L625.0 154.7L625.4 163.1L625.7 171.5L626.1 179.8L626.5 188.2L626.8 196.5L627.2 204.7L627.6 212.8L627.9 220.7L628.3 228.5L628.6 236.1L629.0 243.6L629.4 250.8L629.7 257.9L630.1 264.8L630.5 271.5L630.8 277.9L631.2 284.2L631.6 290.3L631.9 296.1L632.3 301.8L632.7 307.3L633.0 312.6L633.4 317.7L633.7 322.5L634.1 327.2L634.5 331.8L634.8 336.1L635.2 340.3L635.6 344.3L635.9 348.1L636.3 351.8L636.7 355.4L637.0 358.8L637.4 362.1L637.8 365.3L638.1 368.3L638.5 371.3L638.9 374.1L639.2 376.8L639.6 379.4L639.9 381.9L640.3 384.3L640.7 386.7L641.0 388.9L641.4 391.1L641.8 393.3L642.1 395.3L642.5 397.3L642.9 399.3L643.2 401.2L643.6 403.1L644.0 404.9L644.3 406.6L644.7 408.4L645.0 410.1L645.4 411.8L645.8 413.4L646.1 415.0L646.5 416.6L646.9 418.2L647.2 419.7L647.6 421.1L648.0 422.6L648.3 423.9L648.7 425.3L649.1 426.6L649.4 427.8L649.8 429.0L650.2 430.2L650.5 431.3L650.9 432.4L651.2 433.4L651.6 434.4L652.0 435.4L652.3 436.3L652.7 437.3L653.1 438.1L653.4 439.0L653.8 439.9L654.2 440.7L654.5 441.5L654.9 442.3L655.3 443.0L655.6 443.8L656.0 444.5L656.4 445.2L656.7 445.9L657.1 446.6L657.4 447.3L657.8 448.1L658.2 448.8L658.5 449.5L658.9 450.2L659.3 450.9L659.6 451.6L660.0 452.3L660.4 453.1L660.7 453.7L661.1 454.4L661.5 455.1L661.8 455.8L662.2 456.4L662.5 457.0L662.9 457.7L663.3 458.2L663.6 458.8L664.0 459.4L664.4 459.9L664.7 460.4L665.1 460.9L665.5 461.3L665.8 461.8L666.2 462.2L666.6 462.7L666.9 463.1L667.3 463.5L667.7 463.9L668.0 464.3L668.4 464.7L668.7 465.1L669.1 465.4L669.5 465.8L669.8 466.1L670.2 466.5L670.6 466.8L670.9 467.2L671.3 467.5L671.7 467.8L672.0 468.1L672.4 468.4L672.8 468.7L673.1 469.0L673.5 469.3L673.8 469.6L674.2 469.9L674.6 470.1L674.9 470.4L675.3 470.7L675.7 470.9L676.0 471.2L676.4 471.4L676.8 471.7L677.1 471.9L677.5 472.2L677.9 472.4L678.2 472.6L678.6 472.8L679.0 473.1L679.3 473.3L679.7 473.5L680.0 473.7L680.4 473.9L680.8 474.1L681.1 474.3L681.5 474.5L681.9 474.6L682.2 474.8L682.6 475.0L683.0 475.2L683.3 475.3L683.7 475.5L684.1 475.7L684.4 475.8L684.8 476.0L685.2 476.1L685.5 476.3L685.9 476.4L686.2 476.6L686.6 476.7L687.0 476.8L687.3 477.0L687.7 477.1L688.1 477.2L688.4 477.4L688.8 477.5L689.2 477.6L689.5 477.7L689.9 477.8L690.3 477.9L690.6 478.1L691.0 478.2L691.3 478.3L691.7 478.4L692.1 478.5L692.4 478.6L692.8 478.6L693.2 478.7L693.5 478.8L693.9 478.9L694.3 479.0L694.6 479.1L695.0 479.2L695.4 479.2L695.7 479.3L696.1 479.4L696.5 479.5L696.8 479.5L697.2 479.6L697.5 479.6L697.9 479.7L698.3 479.8L698.6 479.8L699.0 479.9L699.4 479.9L699.7 480.0L700.1 480.0L700.5 480.1L700.8 480.1L701.2 480.1L701.6 480.1L701.9 480.1L702.3 480.1L702.6 480.0L703.0 480.0L703.4 480.0L703.7 480.0L704.1 479.9L704.5 479.9L704.8 479.9L705.2 479.8L705.6 479.8L705.9 479.8L706.3 479.7L706.7 479.7L707.0 479.6L707.4 479.6L707.8 479.5L708.1 479.5L708.5 479.4L708.8 479.4L709.2 479.3L709.6 479.2L709.9 479.2L710.3 479.1L710.7 479.0L711.0 479.0L711.4 478.9L711.8 478.8L712.1 478.7L712.5 478.7L712.9 478.6L713.2 478.5L713.6 478.4L713.9 478.3L714.3 478.2L714.7 478.2L715.0 478.1L715.4 478.0L715.8 477.9L716.1 477.8L716.5 477.7L716.9 477.6L717.2 477.5L717.6 477.4L718.0 477.3L718.3 477.2L718.7 477.1L719.1 476.9L719.4 476.8L719.8 476.6L720.1 476.5L720.5 476.3L720.9 476.1L721.2 475.9L721.6 475.7L722.0 475.5L722.3 475.2L722.7 475.0L723.1 474.8L723.4 474.5L723.8 474.2L724.2 474.0L724.5 473.7L724.9 473.4L725.3 473.1L725.6 472.8L726.0 472.6L726.3 472.2L726.7 471.9L727.1 471.6L727.4 471.3L727.8 471.0L728.2 470.7L728.5 470.3L728.9 469.9L729.3 469.5L729.6 469.1L730.0 468.6L730.4 468.2L730.7 467.7L731.1 467.2L731.4 466.7L731.8 466.2L732.2 465.6L732.5 465.1L732.9 464.5L733.3 463.9L733.6 463.3L734.0 462.8L734.4 462.2L734.7 461.5L735.1 460.9L735.5 460.3L735.8 459.6L736.2 458.7L736.6 457.8L736.9 456.8L737.3 455.8L737.6 454.8L738.0 453.7L738.4 452.6L738.7 451.6L739.1 450.5L739.5 449.5L739.8 448.6L740.2 447.8L740.6 447.1L740.9 446.4L741.3 445.9L741.7 445.6L742.0 445.4L742.4 445.3L742.7 445.4L743.1 445.6L743.5 446.0L743.8 446.4L744.2 446.9L744.6 447.4L744.9 448.0L745.3 448.7L745.7 449.4L746.0 450.1L746.4 450.8L746.8 451.5L747.1 452.2L747.5 452.9L747.9 453.5L748.2 454.1L748.6 454.6L748.9 455.0L749.3 455.4L749.7 455.9L750.0 456.3L750.4 456.8L750.8 457.3L751.1 457.7L751.5 458.2L751.9 458.7L752.2 459.1L752.6 459.6L753.0 460.0L753.3 460.4L753.7 460.9L754.1 461.3L754.4 461.6L754.8 462.0L755.1 462.3L755.5 462.6L755.9 462.9L756.2 463.1L756.6 463.4L757.0 463.5L757.3 463.7L757.7 463.8L758.1 463.8L758.4 463.8L758.8 463.8L759.2 463.8L759.5 463.7L759.9 463.7L760.2 463.6L760.6 463.5L761.0 463.4L761.3 463.3L761.7 463.2L762.1 463.0L762.4 462.9L762.8 462.8L763.2 462.6L763.5 462.4L763.9 462.3L764.3 462.1L764.6 461.9L765.0 461.7L765.4 461.5L765.7 461.3L766.1 461.1L766.4 460.9L766.8 460.7L767.2 460.6L767.5 460.4L767.9 460.2L768.3 460.0L768.6 459.8L769.0 459.6L769.4 459.3L769.7 459.1L770.1 458.9L770.5 458.6L770.8 458.4L771.2 458.1L771.5 457.8L771.9 457.5L772.3 457.2L772.6 457.0L773.0 456.7L773.4 456.3L773.7 456.0L774.1 455.7L774.5 455.4L774.8 455.0L775.2 454.7L775.6 454.3L775.9 454.0L776.3 453.6L776.7 453.3L777.0 452.9L777.4 452.5L777.7 452.1L778.1 451.7L778.5 451.3L778.8 450.9L779.2 450.5L779.6 450.1L779.9 449.7L780.3 449.3L780.7 448.9L781.0 448.4L781.4 447.9L781.8 447.5L782.1 447.0L782.5 446.5L782.9 445.9L783.2 445.4L783.6 444.9L783.9 444.3L784.3 443.7L784.7 443.2L785.0 442.6L785.4 442.0L785.8 441.4L786.1 440.8L786.5 440.1L786.9 439.5L787.2 438.9L787.6 438.2L788.0 437.6L788.3 436.9L788.7 436.2L789.0 435.5L789.4 434.9L789.8 434.2L790.1 433.5L790.5 432.8L790.9 432.1L791.2 431.4L791.6 430.7L792.0 429.9L792.3 429.2L792.7 428.5L793.1 427.8L793.4 427.0L793.8 426.3L794.2 425.5L794.5 424.8L794.9 424.0L795.2 423.2L795.6 422.4L796.0 421.6L796.3 420.7L796.7 419.9L797.1 419.0L797.4 418.2L797.8 417.3L798.2 416.4L798.5 415.5L798.9 414.7L799.3 413.7L799.6 412.8L800.0 411.9L800.3 411.0L800.7 410.0L801.1 409.1L801.4 408.2L801.8 407.2L802.2 406.2L802.5 405.3L802.9 404.3L803.3 403.3L803.6 402.3L804.0 401.3L804.4 400.3L804.7 399.3L805.1 398.3L805.5 397.3L805.8 396.3L806.2 395.2L806.5 394.2L806.9 393.2L807.3 392.2L807.6 391.2L808.0 390.2L808.4 389.1L808.7 388.1L809.1 387.1L809.5 386.0L809.8 385.0L810.2 383.9L810.6 382.8L810.9 381.7L811.3 380.7L811.6 379.6L812.0 378.4L812.4 377.3L812.7 376.2L813.1 375.0L813.5 373.8L813.8 372.7L814.2 371.5L814.6 370.2L814.9 369.0L815.3 367.7L815.7 366.4L816.0 365.1L816.4 363.8L816.8 362.5L817.1 361.1L817.5 359.7L817.8 358.3L818.2 356.8L818.6 355.4L818.9 353.9L819.3 352.3L819.7 350.8L820.0 349.1L820.4 347.4L820.8 345.5L821.1 343.6L821.5 341.7L821.9 339.6L822.2 337.5L822.6 335.4L823.0 333.2L823.3 331.0L823.7 328.7L824.0 326.4L824.4 324.0L824.8 321.7L825.1 319.3L825.5 316.9L825.9 314.5L826.2 312.1L826.6 309.7L827.0 307.3L827.3 304.9L827.7 302.6L828.1 300.2L828.4 297.9L828.8 295.7L829.1 293.4L829.5 291.3L829.9 289.1L830.2 287.0L830.6 285.0L831.0 283.0L831.3 281.1L831.7 279.2L832.1 277.3L832.4 275.4L832.8 273.5L833.2 271.7L833.5 269.9L833.9 268.0L834.3 266.2L834.6 264.3L835.0 262.5L835.3 260.6L835.7 258.7L836.1 256.8L836.4 254.9L836.8 252.9L837.2 250.9L837.5 248.9L837.9 246.8L838.3 244.7L838.6 242.6L839.0 240.5L839.4 238.3L839.7 236.1L840.1 234.0L840.4 231.8L840.8 229.5L841.2 227.3L841.5 225.1L841.9 222.9L842.3 220.6L842.6 218.4L843.0 216.1L843.4 213.8L843.7 211.6L844.1 209.3L844.5 207.1L844.8 204.8L845.2 202.5L845.6 200.2L845.9 197.8L846.3 195.4L846.6 193.1L847.0 190.7L847.4 188.3L847.7 185.9L848.1 183.5L848.5 181.1L848.8 178.8L849.2 176.4L849.6 174.0L849.9 171.7L850.3 169.4L850.7 167.1L851.0 164.8L851.4 162.6L851.8 160.4L852.1 158.2L852.5 156.1L852.8 154.0L853.2 151.9L853.6 149.8L853.9 147.7L854.3 145.7L854.7 143.6L855.0 141.6L855.4 139.6L855.8 137.6L856.1 135.6L856.5 133.6L856.9 131.7L857.2 129.7L857.6 127.8L857.9 125.9L858.3 124.0L858.7 122.1L859.0 120.3L859.4 118.4L859.8 116.6L860.1 114.7L860.5 112.9L860.9 111.0L861.2 109.2L861.6 107.3L862.0 105.5L862.3 103.6L862.7 101.8L863.1 100.0L863.4 98.2L863.8 96.4L864.1 94.7L864.5 92.9L864.9 91.2L865.2 89.6L865.6 87.9L866.0 86.3L866.3 84.8L866.7 83.3L867.1 81.8L867.4 80.4L867.8 79.0L868.2 77.7L868.5 76.3L868.9 74.9L869.2 73.4L869.6 72.0L870.0 70.5L870.3 69.1L870.7 67.7L871.1 66.4L871.4 65.2L871.8 64.1L872.2 63.1L872.5 62.3L872.9 61.7L873.3 61.2L873.6 61.0L874.0 61.1L874.4 61.8L874.7 63.1L875.1 64.8L875.4 66.9L875.8 69.1L876.2 71.5L876.5 73.9L876.9 76.2L877.3 78.7L877.6 81.6L878.0 84.7L878.4 88.0L878.7 91.4L879.1 94.7L879.5 97.9L879.8 100.9L880.2 103.5L880.6 106.1L880.9 108.5L881.3 110.9L881.6 113.3L882.0 115.6L882.4 117.8L882.7 120.0L883.1 122.1L883.5 124.3L883.8 126.3L884.2 128.4L884.6 130.5L884.9 132.5L885.3 134.5L885.7 136.6L886.0 138.6L886.4 140.7L886.7 142.8L887.1 144.9L887.5 147.0L887.8 149.2L888.2 151.4L888.6 153.6L888.9 155.9L889.3 158.3L889.7 160.7L890.0 163.2L890.4 165.7L890.8 168.3L891.1 170.9L891.5 173.5L891.9 176.1L892.2 178.8L892.6 181.4L892.9 184.1L893.3 186.8L893.7 189.5L894.0 192.1L894.4 194.8L894.8 197.5L895.1 200.1L895.5 202.7L895.9 205.2L896.2 207.8L896.6 210.3L897.0 212.8L897.3 215.3L897.7 217.8L898.0 220.3L898.4 222.8L898.8 225.3L899.1 227.8L899.5 230.4L899.9 232.9L900.2 235.5L900.6 238.1L901.0 240.7L901.3 243.4L901.7 246.2L902.1 249.0L902.4 251.8L902.8 254.8L903.2 257.7L903.5 260.6L903.9 263.5L904.2 266.4L904.6 269.2L905.0 272.0L905.3 274.7L905.7 277.3L906.1 279.8L906.4 282.2L906.8 284.6L907.2 287.0L907.5 289.4L907.9 291.7L908.3 294.0L908.6 296.3L909.0 298.5L909.3 300.7L909.7 302.9L910.1 305.0L910.4 307.0L910.8 309.1L911.2 311.1L911.5 313.0L911.9 314.9L912.3 316.7L912.6 318.4L913.0 320.1L913.4 321.8L913.7 323.3L914.1 324.9L914.5 326.4L914.8 327.9L915.2 329.3L915.5 330.7L915.9 332.1L916.3 333.4L916.6 334.8L917.0 336.1L917.4 337.3L917.7 338.6L918.1 339.8L918.5 341.1L918.8 342.3L919.2 343.5L919.6 344.7L919.9 345.9L920.3 347.1L920.7 348.3L921.0 349.5L921.4 350.7L921.7 352.0L922.1 353.2L922.5 354.4L922.8 355.6L923.2 356.9L923.6 358.1L923.9 359.3L924.3 360.5L924.7 361.8L925.0 363.0L925.4 364.2L925.8 365.4L926.1 366.5L926.5 367.7L926.8 368.8L927.2 370.0L927.6 371.1L927.9 372.2L928.3 373.2L928.7 374.3L929.0 375.3L929.4 376.3L929.8 377.3L930.1 378.2L930.5 379.2L930.9 380.0L931.2 380.9L931.6 381.7L932.0 382.5L932.3 383.3L932.7 384.1L933.0 384.9L933.4 385.7L933.8 386.4L934.1 387.2L934.5 387.9L934.9 388.6L935.2 389.3L935.6 390.0L936.0 390.7L936.3 391.4L936.7 392.1L937.1 392.7L937.4 393.4L937.8 394.0L938.1 394.6L938.5 395.3L938.9 395.9L939.2 396.5L939.6 397.1L940.0 397.7L940.3 398.3L940.7 398.9L941.1 399.5L941.4 400.1L941.8 400.7L942.2 401.2L942.5 401.8L942.9 402.4L943.3 402.9L943.6 403.5L944.0 404.1L944.3 404.6L944.7 405.2L945.1 405.7L945.4 406.3L945.8 406.8L946.2 407.4L946.5 407.9L946.9 408.4L947.3 409.0L947.6 409.5L948.0 410.0L948.4 410.5L948.7 411.1L949.1 411.6L949.5 412.1L949.8 412.6L950.2 413.1L950.5 413.6L950.9 414.1L951.3 414.6L951.6 415.1L952.0 415.5L952.4 416.0L952.7 416.5L953.1 417.0L953.5 417.5L953.8 417.9L954.2 418.4L954.6 418.9L954.9 419.3L955.3 419.8L955.6 420.2L956.0 420.7L956.4 421.1L956.7 421.6L957.1 422.0L957.5 422.4L957.8 422.9L958.2 423.3L958.6 423.7L958.9 424.2L959.3 424.6L959.7 425.0L960.0 425.4L960.4 425.9L960.8 426.3L961.1 426.7L961.5 427.1L961.8 427.5L962.2 427.9L962.6 428.3L962.9 428.7L963.3 429.1L963.7 429.5L964.0 429.9L964.4 430.3L964.8 430.7L965.1 431.1L965.5 431.5L965.9 431.9L966.2 432.2L966.6 432.6L966.9 433.0L967.3 433.4L967.7 433.7L968.0 434.1L968.4 434.5L968.8 434.9L969.1 435.2L969.5 435.6L969.9 435.9L970.2 436.3L970.6 436.7L971.0 437.0L971.3 437.4L971.7 437.7L972.1 438.1L972.4 438.4L972.8 438.7L973.1 439.1L973.5 439.4L973.9 439.7L974.2 440.1L974.6 440.4L975.0 440.7L975.3 441.0L975.7 441.4L976.1 441.7L976.4 442.0L976.8 442.3L977.2 442.6L977.5 442.9L977.9 443.2L978.2 443.5" stroke="#000000" stroke-width="6.6" stroke-linecap="round"/>
<path d="M176.6 512.2L177.0 512.2L177.3 512.1L177.7 512.1L178.1 512.1L178.4 512.1L178.8 512.1L179.2 512.1L179.5 512.1L179.9 512.1L180.2 512.1L180.6 512.1L181.0 512.1L181.3 512.1L181.7 512.0L182.1 512.0L182.4 512.0L182.8 512.0L183.2 512.0L183.5 512.0L183.9 512.0L184.3 512.0L184.6 512.0L185.0 511.9L185.3 511.9L185.7 511.9L186.1 511.9L186.4 511.9L186.8 511.9L187.2 511.9L187.5 511.9L187.9 511.8L188.3 511.8L188.6 511.8L189.0 511.8L189.4 511.8L189.7 511.8L190.1 511.8L190.5 511.7L190.8 511.7L191.2 511.7L191.5 511.7L191.9 511.7L192.3 511.7L192.6 511.7L193.0 511.6L193.4 511.6L193.7 511.6L194.1 511.6L194.5 511.6L194.8 511.6L195.2 511.5L195.6 511.5L195.9 511.5L196.3 511.5L196.7 511.5L197.0 511.4L197.4 511.4L197.7 511.4L198.1 511.4L198.5 511.4L198.8 511.4L199.2 511.3L199.6 511.3L199.9 511.3L200.3 511.3L200.7 511.2L201.0 511.2L201.4 511.2L201.8 511.2L202.1 511.2L202.5 511.1L202.8 511.1L203.2 511.1L203.6 511.1L203.9 511.0L204.3 511.0L204.7 511.0L205.0 511.0L205.4 510.9L205.8 510.9L206.1 510.9L206.5 510.9L206.9 510.8L207.2 510.8L207.6 510.8L208.0 510.7L208.3 510.7L208.7 510.7L209.0 510.6L209.4 510.6L209.8 510.6L210.1 510.6L210.5 510.5L210.9 510.5L211.2 510.5L211.6 510.4L212.0 510.4L212.3 510.4L212.7 510.3L213.1 510.3L213.4 510.2L213.8 510.2L214.1 510.2L214.5 510.1L214.9 510.1L215.2 510.1L215.6 510.0L216.0 510.0L216.3 509.9L216.7 509.9L217.1 509.8L217.4 509.8L217.8 509.8L218.2 509.7L218.5 509.7L218.9 509.6L219.3 509.6L219.6 509.5L220.0 509.5L220.3 509.4L220.7 509.4L221.1 509.3L221.4 509.3L221.8 509.2L222.2 509.2L222.5 509.1L222.9 509.0L223.3 509.0L223.6 508.9L224.0 508.9L224.4 508.8L224.7 508.7L225.1 508.7L225.4 508.6L225.8 508.5L226.2 508.5L226.5 508.4L226.9 508.3L227.3 508.2L227.6 508.2L228.0 508.1L228.4 508.0L228.7 507.9L229.1 507.8L229.5 507.7L229.8 507.6L230.2 507.5L230.6 507.4L230.9 507.3L231.3 507.2L231.6 507.1L232.0 507.0L232.4 506.9L232.7 506.7L233.1 506.6L233.5 506.5L233.8 506.3L234.2 506.2L234.6 506.1L234.9 505.9L235.3 505.8L235.7 505.6L236.0 505.4L236.4 505.3L236.8 505.1L237.1 504.9L237.5 504.7L237.8 504.5L238.2 504.3L238.6 504.1L238.9 503.9L239.3 503.7L239.7 503.4L240.0 503.2L240.4 502.9L240.8 502.7L241.1 502.4L241.5 502.1L241.9 501.9L242.2 501.6L242.6 501.3L242.9 500.9L243.3 500.6L243.7 500.3L244.0 499.9L244.4 499.5L244.8 499.1L245.1 498.7L245.5 498.3L245.9 497.9L246.2 497.4L246.6 497.0L247.0 496.5L247.3 495.9L247.7 495.4L248.1 494.8L248.4 494.2L248.8 493.6L249.1 493.0L249.5 492.3L249.9 491.6L250.2 490.8L250.6 490.1L251.0 489.2L251.3 488.4L251.7 487.4L252.1 486.5L252.4 485.4L252.8 484.4L253.2 483.2L253.5 482.0L253.9 480.7L254.2 479.3L254.6 477.9L255.0 476.4L255.3 474.7L255.7 472.9L256.1 471.1L256.4 469.1L256.8 466.9L257.2 464.6L257.5 462.1L257.9 459.5L258.3 456.6L258.6 453.5L259.0 450.2L259.4 446.5L259.7 442.6L260.1 438.3L260.4 433.7L260.8 428.6L261.2 423.1L261.5 417.0L261.9 410.4L262.3 403.2L262.6 395.2L263.0 386.5L263.4 376.9L263.7 366.3L264.1 354.7L264.5 341.9L264.8 327.9L265.2 312.6L265.6 295.9L265.9 277.8L266.3 258.3L266.6 237.6L267.0 215.9L267.4 193.6L267.7 171.1L268.1 149.3L268.5 129.0L268.8 111.1L269.2 96.9L269.6 87.1L269.9 82.5L270.3 83.5L270.7 89.9L271.0 101.4L271.4 117.0L271.7 135.8L272.1 156.7L272.5 178.9L272.8 201.3L273.2 223.5L273.6 244.8L273.9 265.1L274.3 284.0L274.7 301.5L275.0 317.7L275.4 332.5L275.8 346.0L276.1 358.3L276.5 369.5L276.9 379.6L277.2 388.8L277.6 397.2L277.9 404.8L278.3 411.8L278.7 418.1L279.0 423.9L279.4 429.1L279.8 434.0L280.1 438.4L280.5 442.5L280.9 446.2L281.2 449.6L281.6 452.8L282.0 455.8L282.3 458.5L282.7 461.0L283.0 463.3L283.4 465.5L283.8 467.5L284.1 469.4L284.5 471.1L284.9 472.7L285.2 474.3L285.6 475.7L286.0 477.0L286.3 478.3L286.7 479.5L287.1 480.6L287.4 481.6L287.8 482.6L288.2 483.5L288.5 484.4L288.9 485.2L289.2 486.0L289.6 486.7L290.0 487.4L290.3 488.0L290.7 488.7L291.1 489.2L291.4 489.8L291.8 490.3L292.2 490.8L292.5 491.3L292.9 491.7L293.3 492.2L293.6 492.6L294.0 492.9L294.4 493.3L294.7 493.6L295.1 493.9L295.4 494.3L295.8 494.5L296.2 494.8L296.5 495.1L296.9 495.3L297.3 495.5L297.6 495.8L298.0 496.0L298.4 496.1L298.7 496.3L299.1 496.5L299.5 496.6L299.8 496.8L300.2 496.9L300.5 497.0L300.9 497.1L301.3 497.2L301.6 497.3L302.0 497.4L302.4 497.5L302.7 497.5L303.1 497.6L303.5 497.6L303.8 497.7L304.2 497.7L304.6 497.7L304.9 497.7L305.3 497.7L305.7 497.7L306.0 497.7L306.4 497.6L306.7 497.6L307.1 497.6L307.5 497.5L307.8 497.5L308.2 497.4L308.6 497.4L308.9 497.3L309.3 497.2L309.7 497.2L310.0 497.1L310.4 497.0L310.8 496.9L311.1 496.8L311.5 496.7L311.8 496.6L312.2 496.4L312.6 496.3L312.9 496.2L313.3 496.1L313.7 495.9L314.0 495.8L314.4 495.6L314.8 495.4L315.1 495.3L315.5 495.1L315.9 494.9L316.2 494.7L316.6 494.5L317.0 494.3L317.3 494.1L317.7 493.9L318.0 493.7L318.4 493.4L318.8 493.2L319.1 492.9L319.5 492.7L319.9 492.4L320.2 492.1L320.6 491.9L321.0 491.6L321.3 491.3L321.7 490.9L322.1 490.6L322.4 490.3L322.8 489.9L323.1 489.6L323.5 489.2L323.9 488.8L324.2 488.5L324.6 488.0L325.0 487.6L325.3 487.2L325.7 486.8L326.1 486.3L326.4 485.8L326.8 485.4L327.2 484.9L327.5 484.3L327.9 483.8L328.3 483.3L328.6 482.7L329.0 482.1L329.3 481.5L329.7 480.9L330.1 480.2L330.4 479.6L330.8 478.9L331.2 478.2L331.5 477.4L331.9 476.7L332.3 475.9L332.6 475.1L333.0 474.2L333.4 473.3L333.7 472.4L334.1 471.5L334.5 470.5L334.8 469.5L335.2 468.5L335.5 467.4L335.9 466.3L336.3 465.2L336.6 464.0L337.0 462.7L337.4 461.4L337.7 460.1L338.1 458.7L338.5 457.3L338.8 455.8L339.2 454.2L339.6 452.6L339.9 450.9L340.3 449.2L340.6 447.3L341.0 445.5L341.4 443.5L341.7 441.4L342.1 439.3L342.5 437.1L342.8 434.7L343.2 432.3L343.6 429.8L343.9 427.1L344.3 424.4L344.7 421.5L345.0 418.5L345.4 415.3L345.8 412.0L346.1 408.6L346.5 405.0L346.8 401.3L347.2 397.3L347.6 393.2L347.9 388.9L348.3 384.4L348.7 379.7L349.0 374.8L349.4 369.6L349.8 364.2L350.1 358.6L350.5 352.7L350.9 346.5L351.2 340.0L351.6 333.3L351.9 326.3L352.3 318.9L352.7 311.3L353.0 303.4L353.4 295.1L353.8 286.5L354.1 277.7L354.5 268.5L354.9 259.1L355.2 249.4L355.6 239.5L356.0 229.4L356.3 219.1L356.7 208.7L357.1 198.2L357.4 187.8L357.8 177.5L358.1 167.3L358.5 157.4L358.9 147.8L359.2 138.7L359.6 130.2L360.0 122.4L360.3 115.4L360.7 109.2L361.1 104.1L361.4 100.0L361.8 97.1L362.2 95.4L362.5 94.9L362.9 95.6L363.3 97.5L363.6 100.6L364.0 104.8L364.3 110.0L364.7 116.2L365.1 123.3L365.4 131.1L365.8 139.6L366.2 148.6L366.5 158.1L366.9 167.9L367.3 177.9L367.6 188.1L368.0 198.3L368.4 208.6L368.7 218.8L369.1 228.9L369.4 238.8L369.8 248.5L370.2 257.9L370.5 267.1L370.9 276.1L371.3 284.7L371.6 293.1L372.0 301.1L372.4 308.9L372.7 316.3L373.1 323.4L373.5 330.3L373.8 336.8L374.2 343.1L374.6 349.1L374.9 354.9L375.3 360.3L375.6 365.6L376.0 370.6L376.4 375.4L376.7 380.0L377.1 384.3L377.5 388.5L377.8 392.5L378.2 396.3L378.6 400.0L378.9 403.5L379.3 406.8L379.7 410.0L380.0 413.0L380.4 416.0L380.7 418.7L381.1 421.4L381.5 424.0L381.8 426.4L382.2 428.8L382.6 431.0L382.9 433.2L383.3 435.3L383.7 437.2L384.0 439.2L384.4 441.0L384.8 442.7L385.1 444.4L385.5 446.1L385.9 447.6L386.2 449.1L386.6 450.6L386.9 451.9L387.3 453.3L387.7 454.6L388.0 455.8L388.4 457.0L388.8 458.2L389.1 459.3L389.5 460.3L389.9 461.4L390.2 462.4L390.6 463.3L391.0 464.2L391.3 465.1L391.7 466.0L392.1 466.8L392.4 467.6L392.8 468.4L393.1 469.2L393.5 469.9L393.9 470.6L394.2 471.3L394.6 471.9L395.0 472.6L395.3 473.2L395.7 473.8L396.1 474.3L396.4 474.9L396.8 475.4L397.2 475.9L397.5 476.4L397.9 476.9L398.2 477.4L398.6 477.9L399.0 478.3L399.3 478.7L399.7 479.2L400.1 479.6L400.4 479.9L400.8 480.3L401.2 480.7L401.5 481.0L401.9 481.4L402.3 481.7L402.6 482.0L403.0 482.3L403.4 482.6L403.7 482.9L404.1 483.2L404.4 483.5L404.8 483.8L405.2 484.0L405.5 484.3L405.9 484.5L406.3 484.7L406.6 485.0L407.0 485.2L407.4 485.4L407.7 485.6L408.1 485.8L408.5 486.0L408.8 486.1L409.2 486.3L409.5 486.5L409.9 486.7L410.3 486.8L410.6 487.0L411.0 487.1L411.4 487.2L411.7 487.4L412.1 487.5L412.5 487.6L412.8 487.7L413.2 487.8L413.6 488.0L413.9 488.1L414.3 488.2L414.7 488.2L415.0 488.3L415.4 488.4L415.7 488.5L416.1 488.6L416.5 488.6L416.8 488.7L417.2 488.7L417.6 488.8L417.9 488.9L418.3 488.9L418.7 488.9L419.0 489.0L419.4 489.0L419.8 489.0L420.1 489.1L420.5 489.1L420.8 489.1L421.2 489.1L421.6 489.1L421.9 489.1L422.3 489.1L422.7 489.1L423.0 489.1L423.4 489.1L423.8 489.1L424.1 489.1L424.5 489.0L424.9 489.0L425.2 489.0L425.6 489.0L426.0 488.9L426.3 488.9L426.7 488.8L427.0 488.8L427.4 488.7L427.8 488.7L428.1 488.6L428.5 488.6L428.9 488.5L429.2 488.4L429.6 488.4L430.0 488.3L430.3 488.2L430.7 488.1L431.1 488.1L431.4 488.0L431.8 487.9L432.2 487.8L432.5 487.7L432.9 487.6L433.2 487.5L433.6 487.4L434.0 487.3L434.3 487.1L434.7 487.0L435.1 486.9L435.4 486.8L435.8 486.6L436.2 486.5L436.5 486.4L436.9 486.2L437.3 486.1L437.6 485.9L438.0 485.8L438.3 485.6L438.7 485.4L439.1 485.3L439.4 485.1L439.8 484.9L440.2 484.7L440.5 484.6L440.9 484.4L441.3 484.2L441.6 484.0L442.0 483.8L442.4 483.6L442.7 483.3L443.1 483.1L443.5 482.9L443.8 482.7L444.2 482.4L444.5 482.2L444.9 481.9L445.3 481.7L445.6 481.4L446.0 481.2L446.4 480.9L446.7 480.6L447.1 480.3L447.5 480.1L447.8 479.8L448.2 479.5L448.6 479.2L448.9 478.8L449.3 478.5L449.6 478.2L450.0 477.9L450.4 477.5L450.7 477.2L451.1 476.8L451.5 476.4L451.8 476.1L452.2 475.7L452.6 475.3L452.9 474.9L453.3 474.5L453.7 474.1L454.0 473.6L454.4 473.2L454.8 472.8L455.1 472.3L455.5 471.8L455.8 471.4L456.2 470.9L456.6 470.4L456.9 469.9L457.3 469.3L457.7 468.8L458.0 468.3L458.4 467.7L458.8 467.1L459.1 466.6L459.5 466.0L459.9 465.4L460.2 464.7L460.6 464.1L461.0 463.4L461.3 462.8L461.7 462.1L462.0 461.4L462.4 460.7L462.8 459.9L463.1 459.2L463.5 458.4L463.9 457.6L464.2 456.8L464.6 456.0L465.0 455.2L465.3 454.3L465.7 453.4L466.1 452.5L466.4 451.5L466.8 450.6L467.1 449.6L467.5 448.6L467.9 447.6L468.2 446.5L468.6 445.4L469.0 444.3L469.3 443.2L469.7 442.0L470.1 440.8L470.4 439.6L470.8 438.3L471.2 437.0L471.5 435.7L471.9 434.3L472.3 432.9L472.6 431.4L473.0 429.9L473.3 428.4L473.7 426.9L474.1 425.2L474.4 423.6L474.8 421.9L475.2 420.1L475.5 418.3L475.9 416.5L476.3 414.6L476.6 412.6L477.0 410.6L477.4 408.6L477.7 406.4L478.1 404.2L478.4 402.0L478.8 399.7L479.2 397.3L479.5 394.8L479.9 392.3L480.3 389.7L480.6 387.0L481.0 384.3L481.4 381.4L481.7 378.5L482.1 375.5L482.5 372.4L482.8 369.3L483.2 366.0L483.6 362.6L483.9 359.2L484.3 355.6L484.6 351.9L485.0 348.2L485.4 344.3L485.7 340.3L486.1 336.2L486.5 332.0L486.8 327.7L487.2 323.3L487.6 318.8L487.9 314.1L488.3 309.3L488.7 304.4L489.0 299.4L489.4 294.3L489.8 289.0L490.1 283.7L490.5 278.2L490.8 272.6L491.2 267.0L491.6 261.2L491.9 255.3L492.3 249.3L492.7 243.3L493.0 237.2L493.4 231.0L493.8 224.8L494.1 218.6L494.5 212.3L494.9 206.1L495.2 199.8L495.6 193.6L495.9 187.4L496.3 181.3L496.7 175.3L497.0 169.4L497.4 163.6L497.8 158.0L498.1 152.6L498.5 147.4L498.9 142.4L499.2 137.8L499.6 133.4L500.0 129.3L500.3 125.6L500.7 122.3L501.1 119.3L501.4 116.8L501.8 114.7L502.1 113.0L502.5 111.8L502.9 111.0L503.2 110.7L503.6 110.8L504.0 111.5L504.3 112.6L504.7 114.1L505.1 116.1L505.4 118.5L505.8 121.3L506.2 124.5L506.5 128.0L506.9 132.0L507.2 136.2L507.6 140.7L508.0 145.5L508.3 150.6L508.7 155.9L509.1 161.4L509.4 167.0L509.8 172.8L510.2 178.7L510.5 184.7L510.9 190.8L511.3 196.9L511.6 203.1L512.0 209.3L512.4 215.4L512.7 221.6L513.1 227.7L513.4 233.8L513.8 239.8L514.2 245.8L514.5 251.7L514.9 257.5L515.3 263.2L515.6 268.8L516.0 274.3L516.4 279.7L516.7 285.0L517.1 290.1L517.5 295.2L517.8 300.1L518.2 305.0L518.5 309.7L518.9 314.3L519.3 318.8L519.6 323.1L520.0 327.4L520.4 331.5L520.7 335.6L521.1 339.5L521.5 343.3L521.8 347.0L522.2 350.6L522.6 354.1L522.9 357.5L523.3 360.8L523.7 364.0L524.0 367.1L524.4 370.1L524.7 373.1L525.1 375.9L525.5 378.7L525.8 381.4L526.2 384.0L526.6 386.5L526.9 389.0L527.3 391.4L527.7 393.7L528.0 396.0L528.4 398.1L528.8 400.3L529.1 402.3L529.5 404.3L529.9 406.3L530.2 408.2L530.6 410.0L530.9 411.8L531.3 413.5L531.7 415.2L532.0 416.8L532.4 418.4L532.8 420.0L533.1 421.5L533.5 422.9L533.9 424.3L534.2 425.7L534.6 427.0L535.0 428.3L535.3 429.6L535.7 430.8L536.0 432.0L536.4 433.2L536.8 434.3L537.1 435.4L537.5 436.5L537.9 437.5L538.2 438.5L538.6 439.5L539.0 440.4L539.3 441.4L539.7 442.3L540.1 443.1L540.4 444.0L540.8 444.8L541.2 445.6L541.5 446.4L541.9 447.2L542.2 447.9L542.6 448.6L543.0 449.3L543.3 450.0L543.7 450.7L544.1 451.3L544.4 451.9L544.8 452.5L545.2 453.1L545.5 453.7L545.9 454.3L546.3 454.8L546.6 455.3L547.0 455.9L547.3 456.3L547.7 456.8L548.1 457.3L548.4 457.7L548.8 458.2L549.2 458.6L549.5 459.0L549.9 459.4L550.3 459.8L550.6 460.2L551.0 460.6L551.4 460.9L551.7 461.2L552.1 461.6L552.5 461.9L552.8 462.2L553.2 462.5L553.5 462.8L553.9 463.1L554.3 463.3L554.6 463.6L555.0 463.8L555.4 464.1L555.7 464.3L556.1 464.5L556.5 464.7L556.8 464.9L557.2 465.1L557.6 465.3L557.9 465.4L558.3 465.6L558.7 465.7L559.0 465.9L559.4 466.0L559.7 466.1L560.1 466.2L560.5 466.4L560.8 466.5L561.2 466.5L561.6 466.6L561.9 466.7L562.3 466.8L562.7 466.8L563.0 466.9L563.4 466.9L563.8 466.9L564.1 467.0L564.5 467.0L564.8 467.0L565.2 467.0L565.6 467.0L565.9 467.0L566.3 466.9L566.7 466.9L567.0 466.9L567.4 466.8L567.8 466.7L568.1 466.7L568.5 466.6L568.9 466.5L569.2 466.4L569.6 466.3L570.0 466.2L570.3 466.1L570.7 465.9L571.0 465.8L571.4 465.7L571.8 465.5L572.1 465.3L572.5 465.2L572.9 465.0L573.2 464.8L573.6 464.6L574.0 464.4L574.3 464.1L574.7 463.9L575.1 463.7L575.4 463.4L575.8 463.1L576.1 462.9L576.5 462.6L576.9 462.3L577.2 461.9L577.6 461.6L578.0 461.3L578.3 460.9L578.7 460.6L579.1 460.2L579.4 459.8L579.8 459.4L580.2 459.0L580.5 458.6L580.9 458.1L581.3 457.7L581.6 457.2L582.0 456.7L582.3 456.2L582.7 455.7L583.1 455.2L583.4 454.6L583.8 454.0L584.2 453.4L584.5 452.8L584.9 452.2L585.3 451.6L585.6 450.9L586.0 450.2L586.4 449.5L586.7 448.8L587.1 448.0L587.5 447.3L587.8 446.5L588.2 445.6L588.5 444.8L588.9 443.9L589.3 443.0L589.6 442.1L590.0 441.1L590.4 440.1L590.7 439.1L591.1 438.1L591.5 437.0L591.8 435.9L592.2 434.7L592.6 433.5L592.9 432.3L593.3 431.0L593.6 429.7L594.0 428.4L594.4 427.0L594.7 425.6L595.1 424.1L595.5 422.5L595.8 421.0L596.2 419.3L596.6 417.7L596.9 415.9L597.3 414.1L597.7 412.3L598.0 410.4L598.4 408.4L598.8 406.3L599.1 404.2L599.5 402.0L599.8 399.8L600.2 397.4L600.6 395.0L600.9 392.5L601.3 389.9L601.7 387.2L602.0 384.5L602.4 381.6L602.8 378.7L603.1 375.6L603.5 372.4L603.9 369.1L604.2 365.7L604.6 362.2L604.9 358.6L605.3 354.8L605.7 350.9L606.0 346.9L606.4 342.7L606.8 338.4L607.1 333.9L607.5 329.3L607.9 324.5L608.2 319.6L608.6 314.5L609.0 309.3L609.3 303.8L609.7 298.2L610.1 292.4L610.4 286.5L610.8 280.3L611.1 274.0L611.5 267.5L611.9 260.8L612.2 254.0L612.6 247.0L613.0 239.8L613.3 232.4L613.7 224.9L614.1 217.3L614.4 209.6L614.8 201.7L615.2 193.8L615.5 185.7L615.9 177.7L616.2 169.6L616.6 161.5L617.0 153.5L617.3 145.5L617.7 137.6L618.1 129.9L618.4 122.4L618.8 115.2L619.2 108.2L619.5 101.5L619.9 95.3L620.3 89.4L620.6 84.1L621.0 79.2L621.4 75.0L621.7 71.3L622.1 68.2L622.4 65.8L622.8 64.1L623.2 63.1L623.5 62.8L623.9 63.2L624.3 64.3L624.6 66.1L625.0 68.6L625.4 71.7L625.7 75.5L626.1 79.8L626.5 84.7L626.8 90.1L627.2 96.0L627.6 102.3L627.9 109.0L628.3 116.0L628.6 123.2L629.0 130.7L629.4 138.4L629.7 146.3L630.1 154.2L630.5 162.2L630.8 170.3L631.2 178.3L631.6 186.4L631.9 194.4L632.3 202.3L632.7 210.1L633.0 217.8L633.4 225.4L633.7 232.9L634.1 240.2L634.5 247.3L634.8 254.3L635.2 261.1L635.6 267.8L635.9 274.2L636.3 280.5L636.7 286.6L637.0 292.6L637.4 298.3L637.8 303.9L638.1 309.3L638.5 314.6L638.9 319.7L639.2 324.6L639.6 329.3L639.9 333.9L640.3 338.4L640.7 342.7L641.0 346.9L641.4 350.9L641.8 354.8L642.1 358.6L642.5 362.2L642.9 365.7L643.2 369.1L643.6 372.4L644.0 375.6L644.3 378.7L644.7 381.6L645.0 384.5L645.4 387.3L645.8 390.0L646.1 392.6L646.5 395.1L646.9 397.5L647.2 399.9L647.6 402.1L648.0 404.4L648.3 406.5L648.7 408.6L649.1 410.6L649.4 412.5L649.8 414.4L650.2 416.2L650.5 418.0L650.9 419.7L651.2 421.3L651.6 422.9L652.0 424.5L652.3 426.0L652.7 427.5L653.1 428.9L653.4 430.3L653.8 431.6L654.2 432.9L654.5 434.2L654.9 435.4L655.3 436.6L655.6 437.8L656.0 438.9L656.4 440.0L656.7 441.1L657.1 442.1L657.4 443.1L657.8 444.1L658.2 445.1L658.5 446.0L658.9 446.9L659.3 447.8L659.6 448.6L660.0 449.5L660.4 450.3L660.7 451.1L661.1 451.8L661.5 452.6L661.8 453.3L662.2 454.0L662.5 454.7L662.9 455.4L663.3 456.0L663.6 456.7L664.0 457.3L664.4 457.9L664.7 458.5L665.1 459.1L665.5 459.6L665.8 460.2L666.2 460.7L666.6 461.3L666.9 461.8L667.3 462.3L667.7 462.8L668.0 463.2L668.4 463.7L668.7 464.2L669.1 464.6L669.5 465.0L669.8 465.4L670.2 465.9L670.6 466.3L670.9 466.7L671.3 467.0L671.7 467.4L672.0 467.8L672.4 468.1L672.8 468.5L673.1 468.8L673.5 469.2L673.8 469.5L674.2 469.8L674.6 470.1L674.9 470.4L675.3 470.7L675.7 471.0L676.0 471.3L676.4 471.6L676.8 471.8L677.1 472.1L677.5 472.4L677.9 472.6L678.2 472.9L678.6 473.1L679.0 473.3L679.3 473.6L679.7 473.8L680.0 474.0L680.4 474.2L680.8 474.4L681.1 474.6L681.5 474.8L681.9 475.0L682.2 475.2L682.6 475.4L683.0 475.6L683.3 475.8L683.7 476.0L684.1 476.1L684.4 476.3L684.8 476.5L685.2 476.6L685.5 476.8L685.9 476.9L686.2 477.1L686.6 477.2L687.0 477.3L687.3 477.5L687.7 477.6L688.1 477.7L688.4 477.9L688.8 478.0L689.2 478.1L689.5 478.2L689.9 478.4L690.3 478.5L690.6 478.6L691.0 478.7L691.3 478.8L691.7 478.9L692.1 479.0L692.4 479.1L692.8 479.2L693.2 479.3L693.5 479.3L693.9 479.4L694.3 479.5L694.6 479.6L695.0 479.7L695.4 479.7L695.7 479.8L696.1 479.9L696.5 480.0L696.8 480.0L697.2 480.1L697.5 480.1L697.9 480.2L698.3 480.3L698.6 480.3L699.0 480.4L699.4 480.4L699.7 480.5L700.1 480.5L700.5 480.6L700.8 480.6L701.2 480.6L701.6 480.7L701.9 480.7L702.3 480.8L702.6 480.8L703.0 480.8" stroke="#ff00ff" stroke-width="6.8" stroke-linecap="round" stroke-dasharray="22.1 20.4 3.6 20.3 3.6 20.3" stroke-dashoffset="11.00"/>
<path d="M703.0 480.8L703.4 480.9L703.7 480.9L704.1 480.9L704.5 480.9L704.8 481.0L705.2 481.0L705.6 481.0L705.9 481.0L706.3 481.0L706.7 481.0L707.0 481.0L707.4 481.0L707.8 480.9L708.1 480.9L708.5 480.9L708.8 480.9L709.2 480.9L709.6 480.9L709.9 480.8L710.3 480.8L710.7 480.8L711.0 480.8L711.4 480.7L711.8 480.7L712.1 480.7L712.5 480.6L712.9 480.6L713.2 480.6L713.6 480.5L713.9 480.5L714.3 480.5L714.7 480.4L715.0 480.4L715.4 480.4L715.8 480.3L716.1 480.3L716.5 480.2L716.9 480.2L717.2 480.1L717.6 480.1L718.0 480.1L718.3 480.0L718.7 479.9L719.1 479.8L719.4 479.8L719.8 479.7L720.1 479.5L720.5 479.4L720.9 479.3L721.2 479.2L721.6 479.0L722.0 478.9L722.3 478.7L722.7 478.6L723.1 478.4L723.4 478.2L723.8 478.0L724.2 477.9L724.5 477.7L724.9 477.5L725.3 477.3L725.6 477.1L726.0 476.8L726.3 476.6L726.7 476.4L727.1 476.2L727.4 476.0L727.8 475.7L728.2 475.5L728.5 475.3L728.9 475.1L729.3 474.8L729.6 474.6L730.0 474.4L730.4 474.1L730.7 473.9L731.1 473.7L731.4 473.4L731.8 473.1L732.2 472.9L732.5 472.6L732.9 472.3L733.3 472.0L733.6 471.7L734.0 471.4L734.4 471.0L734.7 470.7L735.1 470.4L735.5 470.0L735.8 469.6L736.2 469.2L736.6 468.8L736.9 468.4L737.3 468.0L737.6 467.6L738.0 467.1L738.4 466.6L738.7 466.1L739.1 465.6L739.5 465.1L739.8 464.5L740.2 463.9L740.6 463.2L740.9 462.6L741.3 461.9L741.7 461.2L742.0 460.5L742.4 459.8L742.7 459.0L743.1 458.2L743.5 457.4L743.8 456.6L744.2 455.7L744.6 454.8L744.9 453.9L745.3 452.9L745.7 451.7L746.0 450.4L746.4 449.0L746.8 447.5L747.1 446.0L747.5 444.5L747.9 442.9L748.2 441.4L748.6 439.9L748.9 438.4L749.3 437.0L749.7 435.8L750.0 434.6L750.4 433.6L750.8 432.7L751.1 432.0L751.5 431.4L751.9 430.8L752.2 430.3L752.6 430.0L753.0 430.0L753.3 430.6L753.7 431.7L754.1 433.1L754.4 434.6L754.8 436.2L755.1 437.6L755.5 438.8L755.9 440.0L756.2 441.4L756.6 442.7L757.0 443.9L757.3 445.1L757.7 446.0L758.1 446.8L758.4 447.3L758.8 447.7L759.2 448.0L759.5 448.4L759.9 448.7L760.2 449.1L760.6 449.4L761.0 449.6L761.3 449.9L761.7 450.2L762.1 450.4L762.4 450.6L762.8 450.8L763.2 451.0L763.5 451.2L763.9 451.4L764.3 451.6L764.6 451.7L765.0 451.9L765.4 452.0L765.7 452.2L766.1 452.3L766.4 452.5L766.8 452.6L767.2 452.7L767.5 452.9L767.9 453.0L768.3 453.2L768.6 453.3L769.0 453.5L769.4 453.6L769.7 453.7L770.1 453.9L770.5 454.0L770.8 454.2L771.2 454.3L771.5 454.4L771.9 454.6L772.3 454.7L772.6 454.8L773.0 454.9L773.4 455.1L773.7 455.2L774.1 455.3L774.5 455.3L774.8 455.4L775.2 455.5L775.6 455.6L775.9 455.6L776.3 455.6L776.7 455.7L777.0 455.7L777.4 455.7L777.7 455.7L778.1 455.6L778.5 455.5L778.8 455.4L779.2 455.3L779.6 455.1L779.9 454.9L780.3 454.7L780.7 454.4L781.0 454.2L781.4 453.9L781.8 453.6L782.1 453.2L782.5 452.9L782.9 452.5L783.2 452.1L783.6 451.7L783.9 451.3L784.3 450.8L784.7 450.4L785.0 449.9L785.4 449.5L785.8 449.0L786.1 448.5L786.5 448.0L786.9 447.5L787.2 447.0L787.6 446.5L788.0 446.0L788.3 445.5L788.7 445.0L789.0 444.5L789.4 444.0L789.8 443.5L790.1 443.0L790.5 442.5L790.9 442.1L791.2 441.6L791.6 441.1L792.0 440.7L792.3 440.2L792.7 439.8L793.1 439.3L793.4 438.8L793.8 438.3L794.2 437.9L794.5 437.4L794.9 436.9L795.2 436.4L795.6 435.9L796.0 435.3L796.3 434.8L796.7 434.3L797.1 433.8L797.4 433.2L797.8 432.7L798.2 432.1L798.5 431.6L798.9 431.0L799.3 430.4L799.6 429.9L800.0 429.3L800.3 428.7L800.7 428.1L801.1 427.5L801.4 426.9L801.8 426.3L802.2 425.7L802.5 425.1L802.9 424.4L803.3 423.8L803.6 423.2L804.0 422.5L804.4 421.9L804.7 421.2L805.1 420.6L805.5 419.9L805.8 419.3L806.2 418.6L806.5 417.9L806.9 417.3L807.3 416.6L807.6 415.9L808.0 415.3L808.4 414.6L808.7 413.9L809.1 413.3L809.5 412.6L809.8 411.9L810.2 411.2L810.6 410.5L810.9 409.8L811.3 409.1L811.6 408.4L812.0 407.7L812.4 407.0L812.7 406.2L813.1 405.5L813.5 404.7L813.8 404.0L814.2 403.2L814.6 402.4L814.9 401.6L815.3 400.8L815.7 400.0L816.0 399.1L816.4 398.3L816.8 397.4L817.1 396.5L817.5 395.6L817.8 394.7L818.2 393.7L818.6 392.7L818.9 391.8L819.3 390.8L819.7 389.7L820.0 388.7L820.4 387.6L820.8 386.5L821.1 385.4L821.5 384.2L821.9 383.1L822.2 381.9L822.6 380.6L823.0 379.3L823.3 377.9L823.7 376.3L824.0 374.7L824.4 373.0L824.8 371.1L825.1 369.3L825.5 367.3L825.9 365.3L826.2 363.3L826.6 361.2L827.0 359.1L827.3 356.9L827.7 354.8L828.1 352.6L828.4 350.4L828.8 348.3L829.1 346.1L829.5 344.0L829.9 341.9L830.2 339.9L830.6 337.9L831.0 335.9L831.3 333.9L831.7 331.9L832.1 329.9L832.4 327.9L832.8 325.9L833.2 323.9L833.5 321.9L833.9 319.8L834.3 317.8L834.6 315.7L835.0 313.7L835.3 311.6L835.7 309.5L836.1 307.3L836.4 305.2L836.8 303.0L837.2 300.8L837.5 298.5L837.9 296.2L838.3 293.9L838.6 291.6L839.0 289.2L839.4 286.7L839.7 284.3L840.1 281.8L840.4 279.3L840.8 276.8L841.2 274.2L841.5 271.6L841.9 269.0L842.3 266.4L842.6 263.8L843.0 261.1L843.4 258.4L843.7 255.7L844.1 253.0L844.5 250.3L844.8 247.6L845.2 244.8L845.6 242.1L845.9 239.3L846.3 236.5L846.6 233.8L847.0 231.0L847.4 228.2L847.7 225.4L848.1 222.6L848.5 219.8L848.8 216.8L849.2 213.7L849.6 210.6L849.9 207.4L850.3 204.2L850.7 200.9L851.0 197.5L851.4 194.1L851.8 190.7L852.1 187.3L852.5 183.9L852.8 180.5L853.2 177.1L853.6 173.7L853.9 170.4L854.3 167.1L854.7 163.8L855.0 160.6L855.4 157.5L855.8 154.5L856.1 151.5L856.5 148.7L856.9 145.9L857.2 143.3L857.6 140.8L857.9 138.4L858.3 136.2L858.7 134.2L859.0 132.3L859.4 130.5L859.8 129.0L860.1 127.5L860.5 126.2L860.9 124.9L861.2 123.7L861.6 122.6L862.0 121.5L862.3 120.5L862.7 119.5L863.1 118.5L863.4 117.5L863.8 116.6L864.1 115.6L864.5 114.5L864.9 113.5L865.2 112.4L865.6 111.2L866.0 110.0L866.3 108.6L866.7 107.2L867.1 105.6L867.4 104.0L867.8 102.3L868.2 100.5L868.5 98.8L868.9 97.0L869.2 95.2L869.6 93.5L870.0 91.9L870.3 90.3L870.7 88.8L871.1 87.5L871.4 86.2L871.8 84.8L872.2 83.4L872.5 82.0L872.9 80.6L873.3 79.3L873.6 77.9L874.0 76.5L874.4 75.3L874.7 74.0L875.1 72.9L875.4 71.8L875.8 70.8L876.2 70.0L876.5 69.2L876.9 68.6L877.3 68.2L877.6 67.9L878.0 67.8L878.4 68.0L878.7 68.9L879.1 70.2L879.5 72.0L879.8 74.1L880.2 76.4L880.6 78.9L880.9 81.3L881.3 83.7L881.6 85.9L882.0 87.9L882.4 89.6L882.7 91.1L883.1 92.6L883.5 93.9L883.8 95.2L884.2 96.6L884.6 97.9L884.9 99.3L885.3 100.8L885.7 102.5L886.0 104.3L886.4 106.3L886.7 108.5L887.1 111.0L887.5 114.8L887.8 119.5L888.2 124.5L888.6 128.8L888.9 132.4L889.3 135.9L889.7 139.2L890.0 142.5L890.4 145.7L890.8 148.9L891.1 151.9L891.5 154.9L891.9 157.8L892.2 160.7L892.6 163.5L892.9 166.2L893.3 168.9L893.7 171.6L894.0 174.3L894.4 176.9L894.8 179.5L895.1 182.1L895.5 184.7L895.9 187.2L896.2 189.8L896.6 192.4L897.0 195.0L897.3 197.6L897.7 200.3L898.0 203.0L898.4 205.7L898.8 208.4L899.1 211.2L899.5 214.0L899.9 216.7L900.2 219.5L900.6 222.3L901.0 225.1L901.3 227.9L901.7 230.6L902.1 233.4L902.4 236.1L902.8 238.8L903.2 241.4L903.5 244.1L903.9 246.7L904.2 249.2L904.6 251.7L905.0 254.2L905.3 256.6L905.7 259.0L906.1 261.2L906.4 263.5L906.8 265.6L907.2 267.7L907.5 269.7L907.9 271.6L908.3 273.5L908.6 275.4L909.0 277.2L909.3 279.0L909.7 280.7L910.1 282.4L910.4 284.1L910.8 285.7L911.2 287.4L911.5 289.0L911.9 290.5L912.3 292.1L912.6 293.6L913.0 295.1L913.4 296.6L913.7 298.1L914.1 299.6L914.5 301.1L914.8 302.6L915.2 304.1L915.5 305.5L915.9 307.0L916.3 308.5L916.6 310.0L917.0 311.5L917.4 313.0L917.7 314.5L918.1 316.0L918.5 317.6L918.8 319.2L919.2 320.8L919.6 322.4L919.9 324.0L920.3 325.7L920.7 327.4L921.0 329.0L921.4 330.7L921.7 332.4L922.1 334.0L922.5 335.7L922.8 337.3L923.2 339.0L923.6 340.6L923.9 342.2L924.3 343.8L924.7 345.4L925.0 346.9L925.4 348.4L925.8 349.9L926.1 351.3L926.5 352.7L926.8 354.0L927.2 355.3L927.6 356.6L927.9 357.8L928.3 358.9L928.7 360.0L929.0 361.0L929.4 362.0L929.8 362.9L930.1 363.8L930.5 364.7L930.9 365.5L931.2 366.4L931.6 367.2L932.0 368.0L932.3 368.7L932.7 369.5L933.0 370.2L933.4 370.9L933.8 371.6L934.1 372.3L934.5 373.0L934.9 373.7L935.2 374.3L935.6 375.0L936.0 375.6L936.3 376.2L936.7 376.9L937.1 377.5L937.4 378.1L937.8 378.7L938.1 379.4L938.5 380.0L938.9 380.6L939.2 381.3L939.6 381.9L940.0 382.6L940.3 383.3L940.7 383.9L941.1 384.6L941.4 385.3L941.8 386.0L942.2 386.7L942.5 387.5L942.9 388.2L943.3 388.9L943.6 389.6L944.0 390.3L944.3 391.0L944.7 391.8L945.1 392.5L945.4 393.2L945.8 393.9L946.2 394.5L946.5 395.2L946.9 395.9L947.3 396.6L947.6 397.2L948.0 397.8L948.4 398.4L948.7 399.0L949.1 399.6L949.5 400.2L949.8 400.7L950.2 401.3L950.5 401.8L950.9 402.2L951.3 402.7L951.6 403.2L952.0 403.7L952.4 404.1L952.7 404.6L953.1 405.0L953.5 405.5L953.8 405.9L954.2 406.3L954.6 406.7L954.9 407.2L955.3 407.6L955.6 408.0L956.0 408.3L956.4 408.7L956.7 409.1L957.1 409.4L957.5 409.8L957.8 410.1L958.2 410.4L958.6 410.8L958.9 411.1L959.3 411.3L959.7 411.6L960.0 411.9L960.4 412.1L960.8 412.4L961.1 412.6L961.5 412.8L961.8 413.1L962.2 413.3L962.6 413.5L962.9 413.8L963.3 414.0L963.7 414.2L964.0 414.4L964.4 414.7L964.8 414.9L965.1 415.1L965.5 415.3L965.9 415.5L966.2 415.6L966.6 415.8L966.9 416.0L967.3 416.1L967.7 416.3L968.0 416.4L968.4 416.5L968.8 416.6L969.1 416.7L969.5 416.8L969.9 416.8L970.2 416.8L970.6 416.9L971.0 416.9L971.3 416.8L971.7 416.8L972.1 416.8L972.4 416.8L972.8 416.7L973.1 416.6L973.5 416.6L973.9 416.5L974.2 416.4L974.6 416.3L975.0 416.2L975.3 416.0L975.7 415.9L976.1 415.7L976.4 415.6L976.8 415.4L977.2 415.2L977.5 415.0L977.9 414.8L978.2 414.6" stroke="#ff00ff" stroke-width="6.8" stroke-linecap="round" stroke-dasharray="22.1 20.4 3.6 20.3 3.6 20.3" stroke-dashoffset="87.95"/>
<path d="M176.6 512.1L177.0 512.1L177.3 512.1L177.7 512.1L178.1 512.1L178.4 512.1L178.8 512.1L179.2 512.1L179.5 512.1L179.9 512.1L180.2 512.0L180.6 512.0L181.0 512.0L181.3 512.0L181.7 512.0L182.1 512.0L182.4 512.0L182.8 512.0L183.2 512.0L183.5 511.9L183.9 511.9L184.3 511.9L184.6 511.9L185.0 511.9L185.3 511.9L185.7 511.9L186.1 511.9L186.4 511.8L186.8 511.8L187.2 511.8L187.5 511.8L187.9 511.8L188.3 511.8L188.6 511.8L189.0 511.8L189.4 511.7L189.7 511.7L190.1 511.7L190.5 511.7L190.8 511.7L191.2 511.7L191.5 511.6L191.9 511.6L192.3 511.6L192.6 511.6L193.0 511.6L193.4 511.6L193.7 511.5L194.1 511.5L194.5 511.5L194.8 511.5L195.2 511.5L195.6 511.4L195.9 511.4L196.3 511.4L196.7 511.4L197.0 511.4L197.4 511.3L197.7 511.3L198.1 511.3L198.5 511.3L198.8 511.3L199.2 511.2L199.6 511.2L199.9 511.2L200.3 511.2L200.7 511.2L201.0 511.1L201.4 511.1L201.8 511.1L202.1 511.1L202.5 511.0L202.8 511.0L203.2 511.0L203.6 511.0L203.9 510.9L204.3 510.9L204.7 510.9L205.0 510.8L205.4 510.8L205.8 510.8L206.1 510.8L206.5 510.7L206.9 510.7L207.2 510.7L207.6 510.6L208.0 510.6L208.3 510.6L208.7 510.5L209.0 510.5L209.4 510.5L209.8 510.4L210.1 510.4L210.5 510.4L210.9 510.3L211.2 510.3L211.6 510.3L212.0 510.2L212.3 510.2L212.7 510.2L213.1 510.1L213.4 510.1L213.8 510.0L214.1 510.0L214.5 510.0L214.9 509.9L215.2 509.9L215.6 509.8L216.0 509.8L216.3 509.7L216.7 509.7L217.1 509.6L217.4 509.6L217.8 509.5L218.2 509.5L218.5 509.4L218.9 509.4L219.3 509.3L219.6 509.3L220.0 509.2L220.3 509.2L220.7 509.1L221.1 509.1L221.4 509.0L221.8 508.9L222.2 508.9L222.5 508.8L222.9 508.8L223.3 508.7L223.6 508.6L224.0 508.6L224.4 508.5L224.7 508.4L225.1 508.4L225.4 508.3L225.8 508.2L226.2 508.1L226.5 508.1L226.9 508.0L227.3 507.9L227.6 507.8L228.0 507.7L228.4 507.6L228.7 507.5L229.1 507.4L229.5 507.3L229.8 507.2L230.2 507.1L230.6 507.0L230.9 506.9L231.3 506.8L231.6 506.7L232.0 506.5L232.4 506.4L232.7 506.3L233.1 506.1L233.5 506.0L233.8 505.8L234.2 505.7L234.6 505.5L234.9 505.4L235.3 505.2L235.7 505.0L236.0 504.8L236.4 504.7L236.8 504.5L237.1 504.3L237.5 504.1L237.8 503.8L238.2 503.6L238.6 503.4L238.9 503.2L239.3 502.9L239.7 502.7L240.0 502.4L240.4 502.1L240.8 501.9L241.1 501.6L241.5 501.3L241.9 501.0L242.2 500.6L242.6 500.3L242.9 500.0L243.3 499.6L243.7 499.2L244.0 498.8L244.4 498.4L244.8 498.0L245.1 497.6L245.5 497.1L245.9 496.6L246.2 496.1L246.6 495.6L247.0 495.1L247.3 494.5L247.7 494.0L248.1 493.3L248.4 492.7L248.8 492.0L249.1 491.3L249.5 490.6L249.9 489.8L250.2 489.0L250.6 488.2L251.0 487.3L251.3 486.3L251.7 485.3L252.1 484.3L252.4 483.2L252.8 482.0L253.2 480.8L253.5 479.5L253.9 478.1L254.2 476.7L254.6 475.1L255.0 473.5L255.3 471.7L255.7 469.9L256.1 467.9L256.4 465.8L256.8 463.5L257.2 461.1L257.5 458.5L257.9 455.7L258.3 452.6L258.6 449.4L259.0 445.9L259.4 442.2L259.7 438.1L260.1 433.7L260.4 428.9L260.8 423.7L261.2 418.0L261.5 411.9L261.9 405.2L262.3 397.8L262.6 389.8L263.0 381.1L263.4 371.5L263.7 361.0L264.1 349.5L264.5 337.0L264.8 323.3L265.2 308.4L265.6 292.3L265.9 274.8L266.3 256.2L266.6 236.3L267.0 215.6L267.4 194.1L267.7 172.4L268.1 151.0L268.5 130.7L268.8 112.3L269.2 96.7L269.6 84.7L269.9 77.2L270.3 74.5L270.7 77.0L271.0 84.4L271.4 96.3L271.7 111.9L272.1 130.2L272.5 150.5L272.8 171.9L273.2 193.6L273.6 215.1L273.9 235.9L274.3 255.8L274.7 274.5L275.0 291.9L275.4 308.1L275.8 322.9L276.1 336.6L276.5 349.1L276.9 360.6L277.2 371.0L277.6 380.5L277.9 389.3L278.3 397.2L278.7 404.5L279.0 411.1L279.4 417.2L279.8 422.8L280.1 428.0L280.5 432.7L280.9 437.0L281.2 441.0L281.6 444.7L282.0 448.1L282.3 451.3L282.7 454.2L283.0 456.9L283.4 459.5L283.8 461.8L284.1 464.0L284.5 466.1L284.9 468.0L285.2 469.8L285.6 471.4L286.0 473.0L286.3 474.5L286.7 475.8L287.1 477.1L287.4 478.4L287.8 479.5L288.2 480.6L288.5 481.6L288.9 482.6L289.2 483.5L289.6 484.3L290.0 485.1L290.3 485.9L290.7 486.6L291.1 487.3L291.4 488.0L291.8 488.6L292.2 489.2L292.5 489.7L292.9 490.2L293.3 490.7L293.6 491.2L294.0 491.7L294.4 492.1L294.7 492.5L295.1 492.9L295.4 493.2L295.8 493.6L296.2 493.9L296.5 494.2L296.9 494.5L297.3 494.8L297.6 495.1L298.0 495.3L298.4 495.5L298.7 495.8L299.1 496.0L299.5 496.2L299.8 496.3L300.2 496.5L300.5 496.7L300.9 496.8L301.3 496.9L301.6 497.1L302.0 497.2L302.4 497.3L302.7 497.4L303.1 497.4L303.5 497.5L303.8 497.6L304.2 497.6L304.6 497.6L304.9 497.7L305.3 497.7L305.7 497.7L306.0 497.7L306.4 497.7L306.7 497.7L307.1 497.6L307.5 497.6L307.8 497.6L308.2 497.5L308.6 497.5L308.9 497.4L309.3 497.4L309.7 497.3L310.0 497.2L310.4 497.2L310.8 497.1L311.1 497.0L311.5 496.9L311.8 496.8L312.2 496.7L312.6 496.6L312.9 496.5L313.3 496.3L313.7 496.2L314.0 496.1L314.4 495.9L314.8 495.8L315.1 495.6L315.5 495.4L315.9 495.2L316.2 495.1L316.6 494.9L317.0 494.7L317.3 494.5L317.7 494.3L318.0 494.0L318.4 493.8L318.8 493.6L319.1 493.3L319.5 493.1L319.9 492.8L320.2 492.6L320.6 492.3L321.0 492.0L321.3 491.7L321.7 491.4L322.1 491.1L322.4 490.8L322.8 490.4L323.1 490.1L323.5 489.7L323.9 489.3L324.2 489.0L324.6 488.6L325.0 488.2L325.3 487.7L325.7 487.3L326.1 486.9L326.4 486.4L326.8 485.9L327.2 485.4L327.5 484.9L327.9 484.4L328.3 483.9L328.6 483.3L329.0 482.7L329.3 482.1L329.7 481.5L330.1 480.9L330.4 480.2L330.8 479.6L331.2 478.9L331.5 478.1L331.9 477.4L332.3 476.6L332.6 475.8L333.0 475.0L333.4 474.2L333.7 473.3L334.1 472.4L334.5 471.4L334.8 470.4L335.2 469.4L335.5 468.4L335.9 467.3L336.3 466.2L336.6 465.0L337.0 463.8L337.4 462.5L337.7 461.3L338.1 459.9L338.5 458.5L338.8 457.1L339.2 455.5L339.6 454.0L339.9 452.4L340.3 450.7L340.6 448.9L341.0 447.1L341.4 445.2L341.7 443.2L342.1 441.1L342.5 439.0L342.8 436.7L343.2 434.4L343.6 432.0L343.9 429.4L344.3 426.8L344.7 424.1L345.0 421.2L345.4 418.2L345.8 415.0L346.1 411.8L346.5 408.4L346.8 404.8L347.2 401.1L347.6 397.2L347.9 393.1L348.3 388.8L348.7 384.4L349.0 379.7L349.4 374.9L349.8 369.8L350.1 364.5L350.5 358.9L350.9 353.1L351.2 347.1L351.6 340.7L351.9 334.1L352.3 327.3L352.7 320.1L353.0 312.7L353.4 305.0L353.8 296.9L354.1 288.6L354.5 280.1L354.9 271.2L355.2 262.1L355.6 252.7L356.0 243.2L356.3 233.4L356.7 223.5L357.1 213.5L357.4 203.5L357.8 193.5L358.1 183.5L358.5 173.7L358.9 164.2L359.2 154.9L359.6 146.1L360.0 137.9L360.3 130.2L360.7 123.3L361.1 117.2L361.4 112.0L361.8 107.8L362.2 104.6L362.5 102.6L362.9 101.7L363.3 101.9L363.6 103.3L364.0 105.8L364.3 109.3L364.7 113.9L365.1 119.4L365.4 125.7L365.8 132.8L366.2 140.6L366.5 149.0L366.9 157.8L367.3 167.0L367.6 176.5L368.0 186.1L368.4 196.0L368.7 205.8L369.1 215.6L369.4 225.4L369.8 235.0L370.2 244.5L370.5 253.8L370.9 262.9L371.3 271.7L371.6 280.3L372.0 288.5L372.4 296.6L372.7 304.3L373.1 311.7L373.5 318.9L373.8 325.8L374.2 332.4L374.6 338.7L374.9 344.8L375.3 350.6L375.6 356.2L376.0 361.5L376.4 366.6L376.7 371.5L377.1 376.2L377.5 380.6L377.8 384.9L378.2 389.0L378.6 392.9L378.9 396.6L379.3 400.2L379.7 403.6L380.0 406.9L380.4 410.0L380.7 413.0L381.1 415.9L381.5 418.7L381.8 421.3L382.2 423.8L382.6 426.3L382.9 428.6L383.3 430.8L383.7 433.0L384.0 435.0L384.4 437.0L384.8 438.9L385.1 440.7L385.5 442.4L385.9 444.1L386.2 445.7L386.6 447.3L386.9 448.8L387.3 450.2L387.7 451.6L388.0 453.0L388.4 454.2L388.8 455.5L389.1 456.7L389.5 457.8L389.9 458.9L390.2 460.0L390.6 461.0L391.0 462.0L391.3 463.0L391.7 463.9L392.1 464.8L392.4 465.7L392.8 466.5L393.1 467.3L393.5 468.1L393.9 468.9L394.2 469.6L394.6 470.3L395.0 471.0L395.3 471.7L395.7 472.3L396.1 472.9L396.4 473.5L396.8 474.1L397.2 474.6L397.5 475.2L397.9 475.7L398.2 476.2L398.6 476.7L399.0 477.2L399.3 477.7L399.7 478.1L400.1 478.5L400.4 479.0L400.8 479.4L401.2 479.8L401.5 480.1L401.9 480.5L402.3 480.9L402.6 481.2L403.0 481.6L403.4 481.9L403.7 482.2L404.1 482.5L404.4 482.8L404.8 483.1L405.2 483.4L405.5 483.6L405.9 483.9L406.3 484.2L406.6 484.4L407.0 484.6L407.4 484.9L407.7 485.1L408.1 485.3L408.5 485.5L408.8 485.7L409.2 485.9L409.5 486.1L409.9 486.3L410.3 486.4L410.6 486.6L411.0 486.7L411.4 486.9L411.7 487.0L412.1 487.2L412.5 487.3L412.8 487.5L413.2 487.6L413.6 487.7L413.9 487.8L414.3 487.9L414.7 488.0L415.0 488.1L415.4 488.2L415.7 488.3L416.1 488.4L416.5 488.5L416.8 488.5L417.2 488.6L417.6 488.7L417.9 488.7L418.3 488.8L418.7 488.8L419.0 488.9L419.4 488.9L419.8 489.0L420.1 489.0L420.5 489.0L420.8 489.1L421.2 489.1L421.6 489.1L421.9 489.1L422.3 489.1L422.7 489.1L423.0 489.1L423.4 489.1L423.8 489.1L424.1 489.1L424.5 489.1L424.9 489.1L425.2 489.0L425.6 489.0L426.0 489.0L426.3 489.0L426.7 488.9L427.0 488.9L427.4 488.8L427.8 488.8L428.1 488.7L428.5 488.7L428.9 488.6L429.2 488.6L429.6 488.5L430.0 488.4L430.3 488.4L430.7 488.3L431.1 488.2L431.4 488.1L431.8 488.1L432.2 488.0L432.5 487.9L432.9 487.8L433.2 487.7L433.6 487.6L434.0 487.5L434.3 487.4L434.7 487.3L435.1 487.2L435.4 487.0L435.8 486.9L436.2 486.8L436.5 486.7L436.9 486.5L437.3 486.4L437.6 486.2L438.0 486.1L438.3 486.0L438.7 485.8L439.1 485.6L439.4 485.5L439.8 485.3L440.2 485.1L440.5 485.0L440.9 484.8L441.3 484.6L441.6 484.4L442.0 484.2L442.4 484.0L442.7 483.8L443.1 483.6L443.5 483.4L443.8 483.2L444.2 483.0L444.5 482.8L444.9 482.5L445.3 482.3L445.6 482.1L446.0 481.8L446.4 481.6L446.7 481.3L447.1 481.0L447.5 480.8L447.8 480.5L448.2 480.2L448.6 479.9L448.9 479.7L449.3 479.4L449.6 479.1L450.0 478.7L450.4 478.4L450.7 478.1L451.1 477.8L451.5 477.4L451.8 477.1L452.2 476.7L452.6 476.4L452.9 476.0L453.3 475.6L453.7 475.3L454.0 474.9L454.4 474.5L454.8 474.1L455.1 473.6L455.5 473.2L455.8 472.8L456.2 472.3L456.6 471.9L456.9 471.4L457.3 470.9L457.7 470.5L458.0 470.0L458.4 469.5L458.8 468.9L459.1 468.4L459.5 467.9L459.9 467.3L460.2 466.8L460.6 466.2L461.0 465.6L461.3 465.0L461.7 464.4L462.0 463.8L462.4 463.1L462.8 462.5L463.1 461.8L463.5 461.1L463.9 460.4L464.2 459.7L464.6 459.0L465.0 458.2L465.3 457.5L465.7 456.7L466.1 455.9L466.4 455.1L466.8 454.2L467.1 453.4L467.5 452.5L467.9 451.6L468.2 450.7L468.6 449.7L469.0 448.7L469.3 447.8L469.7 446.7L470.1 445.7L470.4 444.6L470.8 443.5L471.2 442.4L471.5 441.3L471.9 440.1L472.3 438.9L472.6 437.7L473.0 436.4L473.3 435.1L473.7 433.8L474.1 432.4L474.4 431.0L474.8 429.6L475.2 428.1L475.5 426.6L475.9 425.1L476.3 423.5L476.6 421.8L477.0 420.2L477.4 418.4L477.7 416.7L478.1 414.9L478.4 413.0L478.8 411.1L479.2 409.1L479.5 407.1L479.9 405.0L480.3 402.9L480.6 400.7L481.0 398.5L481.4 396.2L481.7 393.8L482.1 391.4L482.5 388.9L482.8 386.3L483.2 383.6L483.6 380.9L483.9 378.1L484.3 375.3L484.6 372.3L485.0 369.3L485.4 366.2L485.7 363.0L486.1 359.7L486.5 356.3L486.8 352.9L487.2 349.3L487.6 345.7L487.9 341.9L488.3 338.1L488.7 334.1L489.0 330.1L489.4 325.9L489.8 321.6L490.1 317.3L490.5 312.8L490.8 308.2L491.2 303.5L491.6 298.7L491.9 293.8L492.3 288.8L492.7 283.7L493.0 278.5L493.4 273.2L493.8 267.8L494.1 262.3L494.5 256.7L494.9 251.0L495.2 245.3L495.6 239.4L495.9 233.6L496.3 227.6L496.7 221.6L497.0 215.6L497.4 209.6L497.8 203.5L498.1 197.5L498.5 191.5L498.9 185.5L499.2 179.5L499.6 173.7L500.0 167.9L500.3 162.3L500.7 156.7L501.1 151.4L501.4 146.2L501.8 141.2L502.1 136.5L502.5 132.0L502.9 127.7L503.2 123.8L503.6 120.2L504.0 116.9L504.3 113.9L504.7 111.4L505.1 109.2L505.4 107.4L505.8 106.0L506.2 105.0L506.5 104.5L506.9 104.4L507.2 104.7L507.6 105.4L508.0 106.6L508.3 108.1L508.7 110.1L509.1 112.5L509.4 115.2L509.8 118.4L510.2 121.8L510.5 125.6L510.9 129.7L511.3 134.0L511.6 138.7L512.0 143.5L512.4 148.6L512.7 153.9L513.1 159.3L513.4 164.9L513.8 170.6L514.2 176.4L514.5 182.2L514.9 188.2L515.3 194.2L515.6 200.2L516.0 206.2L516.4 212.2L516.7 218.2L517.1 224.2L517.5 230.2L517.8 236.0L518.2 241.9L518.5 247.6L518.9 253.3L519.3 258.9L519.6 264.4L520.0 269.8L520.4 275.2L520.7 280.4L521.1 285.5L521.5 290.5L521.8 295.4L522.2 300.2L522.6 304.9L522.9 309.5L523.3 314.0L523.7 318.3L524.0 322.6L524.4 326.7L524.7 330.8L525.1 334.7L525.5 338.6L525.8 342.3L526.2 345.9L526.6 349.5L526.9 352.9L527.3 356.3L527.7 359.6L528.0 362.7L528.4 365.8L528.8 368.8L529.1 371.7L529.5 374.6L529.9 377.4L530.2 380.0L530.6 382.6L530.9 385.2L531.3 387.6L531.7 390.0L532.0 392.4L532.4 394.6L532.8 396.8L533.1 399.0L533.5 401.1L533.9 403.1L534.2 405.0L534.6 407.0L535.0 408.8L535.3 410.6L535.7 412.4L536.0 414.1L536.4 415.8L536.8 417.4L537.1 418.9L537.5 420.5L537.9 421.9L538.2 423.4L538.6 424.8L539.0 426.2L539.3 427.5L539.7 428.8L540.1 430.0L540.4 431.3L540.8 432.5L541.2 433.6L541.5 434.7L541.9 435.8L542.2 436.9L542.6 437.9L543.0 439.0L543.3 439.9L543.7 440.9L544.1 441.8L544.4 442.7L544.8 443.6L545.2 444.5L545.5 445.3L545.9 446.1L546.3 446.9L546.6 447.7L547.0 448.4L547.3 449.1L547.7 449.8L548.1 450.5L548.4 451.2L548.8 451.8L549.2 452.5L549.5 453.1L549.9 453.7L550.3 454.2L550.6 454.8L551.0 455.4L551.4 455.9L551.7 456.4L552.1 456.9L552.5 457.4L552.8 457.8L553.2 458.3L553.5 458.7L553.9 459.2L554.3 459.6L554.6 460.0L555.0 460.4L555.4 460.7L555.7 461.1L556.1 461.5L556.5 461.8L556.8 462.1L557.2 462.4L557.6 462.7L557.9 463.0L558.3 463.3L558.7 463.6L559.0 463.8L559.4 464.1L559.7 464.3L560.1 464.5L560.5 464.7L560.8 465.0L561.2 465.1L561.6 465.3L561.9 465.5L562.3 465.7L562.7 465.8L563.0 466.0L563.4 466.1L563.8 466.2L564.1 466.3L564.5 466.5L564.8 466.5L565.2 466.6L565.6 466.7L565.9 466.8L566.3 466.8L566.7 466.9L567.0 466.9L567.4 467.0L567.8 467.0L568.1 467.0L568.5 467.0L568.9 467.0L569.2 467.0L569.6 466.9L570.0 466.9L570.3 466.8L570.7 466.8L571.0 466.7L571.4 466.6L571.8 466.6L572.1 466.5L572.5 466.4L572.9 466.2L573.2 466.1L573.6 466.0L574.0 465.8L574.3 465.7L574.7 465.5L575.1 465.3L575.4 465.1L575.8 464.9L576.1 464.7L576.5 464.5L576.9 464.2L577.2 464.0L577.6 463.7L578.0 463.5L578.3 463.2L578.7 462.9L579.1 462.6L579.4 462.3L579.8 461.9L580.2 461.6L580.5 461.2L580.9 460.9L581.3 460.5L581.6 460.1L582.0 459.7L582.3 459.2L582.7 458.8L583.1 458.3L583.4 457.8L583.8 457.3L584.2 456.8L584.5 456.3L584.9 455.8L585.3 455.2L585.6 454.6L586.0 454.0L586.4 453.4L586.7 452.8L587.1 452.1L587.5 451.4L587.8 450.7L588.2 450.0L588.5 449.3L588.9 448.5L589.3 447.7L589.6 446.9L590.0 446.0L590.4 445.2L590.7 444.3L591.1 443.4L591.5 442.4L591.8 441.4L592.2 440.4L592.6 439.4L592.9 438.3L593.3 437.2L593.6 436.0L594.0 434.8L594.4 433.6L594.7 432.4L595.1 431.1L595.5 429.7L595.8 428.4L596.2 426.9L596.6 425.5L596.9 424.0L597.3 422.4L597.7 420.8L598.0 419.1L598.4 417.4L598.8 415.6L599.1 413.8L599.5 411.9L599.8 409.9L600.2 407.9L600.6 405.8L600.9 403.7L601.3 401.4L601.7 399.1L602.0 396.8L602.4 394.3L602.8 391.8L603.1 389.2L603.5 386.4L603.9 383.6L604.2 380.7L604.6 377.7L604.9 374.6L605.3 371.4L605.7 368.1L606.0 364.7L606.4 361.2L606.8 357.5L607.1 353.7L607.5 349.8L607.9 345.8L608.2 341.6L608.6 337.3L609.0 332.8L609.3 328.2L609.7 323.5L610.1 318.6L610.4 313.5L610.8 308.3L611.1 302.9L611.5 297.4L611.9 291.7L612.2 285.8L612.6 279.8L613.0 273.6L613.3 267.2L613.7 260.7L614.1 254.0L614.4 247.1L614.8 240.1L615.2 233.0L615.5 225.7L615.9 218.3L616.2 210.8L616.6 203.2L617.0 195.6L617.3 187.8L617.7 180.1L618.1 172.3L618.4 164.5L618.8 156.8L619.2 149.2L619.5 141.6L619.9 134.2L620.3 127.0L620.6 120.0L621.0 113.3L621.4 106.9L621.7 100.9L622.1 95.2L622.4 90.0L622.8 85.2L623.2 80.9L623.5 77.2L623.9 74.1L624.3 71.6L624.6 69.7L625.0 68.4L625.4 67.8L625.7 67.9L626.1 68.6L626.5 69.9L626.8 71.9L627.2 74.5L627.6 77.6L627.9 81.4L628.3 85.6L628.6 90.4L629.0 95.6L629.4 101.2L629.7 107.2L630.1 113.5L630.5 120.2L630.8 127.1L631.2 134.2L631.6 141.5L631.9 148.9L632.3 156.4L632.7 164.0L633.0 171.7L633.4 179.3L633.7 187.0L634.1 194.6L634.5 202.1L634.8 209.6L635.2 217.0L635.6 224.2L635.9 231.4L636.3 238.4L636.7 245.3L637.0 252.0L637.4 258.6L637.8 265.0L638.1 271.3L638.5 277.4L638.9 283.4L639.2 289.2L639.6 294.8L639.9 300.2L640.3 305.5L640.7 310.7L641.0 315.7L641.4 320.5L641.8 325.2L642.1 329.8L642.5 334.2L642.9 338.5L643.2 342.6L643.6 346.6L644.0 350.5L644.3 354.2L644.7 357.8L645.0 361.4L645.4 364.8L645.8 368.1L646.1 371.2L646.5 374.3L646.9 377.3L647.2 380.2L647.6 383.0L648.0 385.7L648.3 388.3L648.7 390.9L649.1 393.3L649.4 395.7L649.8 398.0L650.2 400.2L650.5 402.4L650.9 404.5L651.2 406.5L651.6 408.5L652.0 410.4L652.3 412.3L652.7 414.1L653.1 415.8L653.4 417.5L653.8 419.2L654.2 420.8L654.5 422.3L654.9 423.8L655.3 425.3L655.6 426.7L656.0 428.1L656.4 429.4L656.7 430.7L657.1 432.0L657.4 433.2L657.8 434.4L658.2 435.5L658.5 436.7L658.9 437.8L659.3 438.8L659.6 439.9L660.0 440.9L660.4 441.9L660.7 442.8L661.1 443.8L661.5 444.7L661.8 445.6L662.2 446.4L662.5 447.3L662.9 448.1L663.3 448.9L663.6 449.6L664.0 450.4L664.4 451.1L664.7 451.9L665.1 452.6L665.5 453.2L665.8 453.9L666.2 454.6L666.6 455.2L666.9 455.8L667.3 456.4L667.7 457.0L668.0 457.6L668.4 458.1L668.7 458.7L669.1 459.2L669.5 459.7L669.8 460.2L670.2 460.7L670.6 461.2L670.9 461.7L671.3 462.1L671.7 462.6L672.0 463.0L672.4 463.5L672.8 463.9L673.1 464.3L673.5 464.7L673.8 465.1L674.2 465.5L674.6 465.8L674.9 466.2L675.3 466.6L675.7 466.9L676.0 467.3L676.4 467.6L676.8 467.9L677.1 468.2L677.5 468.5L677.9 468.9L678.2 469.1L678.6 469.4L679.0 469.7L679.3 470.0L679.7 470.3L680.0 470.5L680.4 470.8L680.8 471.0L681.1 471.3L681.5 471.5L681.9 471.8L682.2 472.0L682.6 472.2L683.0 472.5L683.3 472.7L683.7 472.9L684.1 473.1L684.4 473.3L684.8 473.5L685.2 473.7L685.5 473.9L685.9 474.0L686.2 474.2L686.6 474.4L687.0 474.6L687.3 474.7L687.7 474.9L688.1 475.1L688.4 475.2L688.8 475.4L689.2 475.5L689.5 475.7L689.9 475.8L690.3 475.9L690.6 476.1L691.0 476.2L691.3 476.3L691.7 476.5L692.1 476.6L692.4 476.7L692.8 476.8L693.2 476.9L693.5 477.0L693.9 477.1L694.3 477.2L694.6 477.3L695.0 477.4L695.4 477.5L695.7 477.6L696.1 477.7L696.5 477.8L696.8 477.9L697.2 478.0L697.5 478.1L697.9 478.1L698.3 478.2L698.6 478.3L699.0 478.4L699.4 478.4L699.7 478.5L700.1 478.6L700.5 478.6L700.8 478.7L701.2 478.7L701.6 478.8L701.9 478.9L702.3 479.0L702.6 479.0L703.0 479.1L703.4 479.2L703.7 479.3L704.1 479.3L704.5 479.4L704.8 479.4L705.2 479.5L705.6 479.5L705.9 479.6L706.3 479.6L706.7 479.7L707.0 479.7L707.4 479.8L707.8 479.8L708.1 479.8L708.5 479.9L708.8 479.9L709.2 479.9L709.6 480.0L709.9 480.0L710.3 480.0L710.7 480.0L711.0 480.0L711.4 480.0L711.8 480.1L712.1 480.1L712.5 480.1L712.9 480.1L713.2 480.1L713.6 480.1L713.9 480.1L714.3 480.1L714.7 480.1L715.0 480.1L715.4 480.0L715.8 480.0L716.1 480.0L716.5 480.0L716.9 479.9L717.2 479.9L717.6 479.8L718.0 479.8L718.3 479.8L718.7 479.7L719.1 479.7L719.4 479.6L719.8 479.5L720.1 479.5L720.5 479.4L720.9 479.4L721.2 479.3L721.6 479.2L722.0 479.2L722.3 479.1L722.7 479.0L723.1 478.9L723.4 478.9L723.8 478.8L724.2 478.7L724.5 478.6L724.9 478.6L725.3 478.5L725.6 478.4L726.0 478.3L726.3 478.3L726.7 478.2L727.1 478.1L727.4 478.0L727.8 477.9L728.2 477.8L728.5 477.7L728.9 477.6L729.3 477.5L729.6 477.4L730.0 477.3L730.4 477.1L730.7 477.0L731.1 476.9L731.4 476.7L731.8 476.6L732.2 476.5L732.5 476.3L732.9 476.1L733.3 476.0L733.6 475.8L734.0 475.7L734.4 475.5L734.7 475.3L735.1 475.1L735.5 474.9L735.8 474.7L736.2 474.5L736.6 474.3L736.9 474.1L737.3 473.9L737.6 473.6L738.0 473.4L738.4 473.1L738.7 472.8L739.1 472.5L739.5 472.2L739.8 471.9L740.2 471.5L740.6 471.1L740.9 470.8L741.3 470.4L741.7 470.0L742.0 469.5L742.4 469.1L742.7 468.6L743.1 468.2L743.5 467.7L743.8 467.2L744.2 466.7L744.6 466.2L744.9 465.7L745.3 465.1L745.7 464.6L746.0 463.9L746.4 463.2L746.8 462.5L747.1 461.8L747.5 460.9L747.9 460.1L748.2 459.2L748.6 458.3L748.9 457.4L749.3 456.5L749.7 455.5L750.0 454.5L750.4 453.6L750.8 452.6L751.1 451.5L751.5 450.4L751.9 449.3L752.2 448.1L752.6 446.9L753.0 445.7L753.3 444.4L753.7 443.0L754.1 441.5L754.4 439.8L754.8 437.9L755.1 436.0L755.5 434.2L755.9 432.5L756.2 431.0L756.6 429.8L757.0 428.5L757.3 427.3L757.7 426.0L758.1 424.9L758.4 423.8L758.8 422.9L759.2 422.2L759.5 421.7L759.9 421.4L760.2 421.4L760.6 421.8L761.0 422.4L761.3 423.3L761.7 424.3L762.1 425.5L762.4 426.7L762.8 428.0L763.2 429.3L763.5 430.5L763.9 431.6L764.3 432.7L764.6 433.9L765.0 435.1L765.4 436.4L765.7 437.7L766.1 438.9L766.4 440.1L766.8 441.2L767.2 442.2L767.5 443.0L767.9 443.6L768.3 444.2L768.6 444.8L769.0 445.4L769.4 446.0L769.7 446.5L770.1 447.1L770.5 447.6L770.8 448.1L771.2 448.6L771.5 449.0L771.9 449.5L772.3 449.9L772.6 450.3L773.0 450.7L773.4 451.0L773.7 451.3L774.1 451.6L774.5 451.8L774.8 452.1L775.2 452.2L775.6 452.4L775.9 452.5L776.3 452.5L776.7 452.5L777.0 452.5L777.4 452.5L777.7 452.4L778.1 452.4L778.5 452.3L778.8 452.2L779.2 452.1L779.6 452.0L779.9 451.8L780.3 451.7L780.7 451.5L781.0 451.4L781.4 451.2L781.8 451.0L782.1 450.8L782.5 450.6L782.9 450.4L783.2 450.2L783.6 450.0L783.9 449.8L784.3 449.6L784.7 449.3L785.0 449.1L785.4 448.9L785.8 448.7L786.1 448.5L786.5 448.2L786.9 448.0L787.2 447.7L787.6 447.4L788.0 447.1L788.3 446.8L788.7 446.5L789.0 446.1L789.4 445.8L789.8 445.4L790.1 445.0L790.5 444.6L790.9 444.2L791.2 443.8L791.6 443.4L792.0 442.9L792.3 442.5L792.7 442.1L793.1 441.6L793.4 441.2L793.8 440.8L794.2 440.3L794.5 439.9L794.9 439.4L795.2 438.9L795.6 438.4L796.0 437.9L796.3 437.4L796.7 436.9L797.1 436.4L797.4 435.9L797.8 435.4L798.2 434.8L798.5 434.3L798.9 433.7L799.3 433.1L799.6 432.5L800.0 432.0L800.3 431.4L800.7 430.8L801.1 430.2L801.4 429.5L801.8 428.9L802.2 428.3L802.5 427.7L802.9 427.0L803.3 426.4L803.6 425.7L804.0 425.0L804.4 424.4L804.7 423.7L805.1 423.0L805.5 422.3L805.8 421.6L806.2 421.0L806.5 420.3L806.9 419.5L807.3 418.8L807.6 418.1L808.0 417.4L808.4 416.6L808.7 415.8L809.1 415.1L809.5 414.3L809.8 413.5L810.2 412.6L810.6 411.8L810.9 411.0L811.3 410.1L811.6 409.2L812.0 408.4L812.4 407.5L812.7 406.6L813.1 405.7L813.5 404.8L813.8 403.8L814.2 402.9L814.6 401.9L814.9 401.0L815.3 400.0L815.7 399.0L816.0 398.1L816.4 397.0L816.8 396.0L817.1 395.0L817.5 393.9L817.8 392.8L818.2 391.7L818.6 390.6L818.9 389.5L819.3 388.4L819.7 387.2L820.0 386.0L820.4 384.8L820.8 383.6L821.1 382.4L821.5 381.2L821.9 379.9L822.2 378.7L822.6 377.4L823.0 376.1L823.3 374.9L823.7 373.5L824.0 372.2L824.4 370.9L824.8 369.5L825.1 368.2L825.5 366.8L825.9 365.4L826.2 364.0L826.6 362.6L827.0 361.1L827.3 359.6L827.7 358.2L828.1 356.7L828.4 355.2L828.8 353.6L829.1 352.1L829.5 350.5L829.9 348.9L830.2 347.3L830.6 345.7L831.0 344.1L831.3 342.4L831.7 340.7L832.1 339.0L832.4 337.2L832.8 335.4L833.2 333.6L833.5 331.7L833.9 329.8L834.3 327.9L834.6 325.9L835.0 324.0L835.3 322.0L835.7 320.0L836.1 318.0L836.4 316.0L836.8 314.0L837.2 311.9L837.5 309.9L837.9 307.9L838.3 305.9L838.6 304.0L839.0 302.0L839.4 300.0L839.7 298.1L840.1 296.1L840.4 294.1L840.8 292.1L841.2 290.1L841.5 288.0L841.9 285.9L842.3 283.8L842.6 281.7L843.0 279.4L843.4 277.2L843.7 274.8L844.1 272.4L844.5 270.0L844.8 267.4L845.2 264.7L845.6 261.9L845.9 259.1L846.3 256.2L846.6 253.2L847.0 250.1L847.4 247.0L847.7 243.9L848.1 240.7L848.5 237.5L848.8 234.3L849.2 231.1L849.6 227.8L849.9 224.6L850.3 221.3L850.7 218.1L851.0 214.8L851.4 211.6L851.8 208.5L852.1 205.3L852.5 202.3L852.8 199.2L853.2 196.2L853.6 193.3L853.9 190.5L854.3 187.7L854.7 185.1L855.0 182.5L855.4 180.0L855.8 177.6L856.1 175.2L856.5 172.8L856.9 170.5L857.2 168.1L857.6 165.8L857.9 163.5L858.3 161.3L858.7 159.0L859.0 156.8L859.4 154.7L859.8 152.6L860.1 150.5L860.5 148.5L860.9 146.5L861.2 144.6L861.6 142.8L862.0 141.0L862.3 139.3L862.7 137.6L863.1 136.1L863.4 134.5L863.8 133.1L864.1 131.8L864.5 130.6L864.9 129.5L865.2 128.4L865.6 127.3L866.0 126.3L866.3 125.1L866.7 124.0L867.1 122.7L867.4 121.4L867.8 120.1L868.2 118.7L868.5 117.3L868.9 115.9L869.2 114.4L869.6 112.9L870.0 111.3L870.3 109.8L870.7 108.1L871.1 106.4L871.4 104.7L871.8 102.9L872.2 101.2L872.5 99.4L872.9 97.6L873.3 95.7L873.6 93.7L874.0 91.8L874.4 90.0L874.7 88.4L875.1 86.8L875.4 85.2L875.8 83.5L876.2 81.8L876.5 80.3L876.9 78.9L877.3 77.8L877.6 77.1L878.0 76.8L878.4 76.9L878.7 77.2L879.1 77.6L879.5 78.3L879.8 79.0L880.2 79.9L880.6 81.0L880.9 82.1L881.3 83.2L881.6 84.5L882.0 85.7L882.4 87.0L882.7 88.3L883.1 89.9L883.5 91.7L883.8 93.8L884.2 96.0L884.6 98.5L884.9 101.5L885.3 105.1L885.7 108.8L886.0 112.0L886.4 115.2L886.7 118.2L887.1 121.0L887.5 123.6L887.8 126.1L888.2 128.6L888.6 131.0L888.9 133.5L889.3 135.9L889.7 138.3L890.0 140.8L890.4 143.2L890.8 145.6L891.1 148.0L891.5 150.6L891.9 153.1L892.2 155.7L892.6 158.4L892.9 161.2L893.3 164.0L893.7 166.8L894.0 169.7L894.4 172.6L894.8 175.5L895.1 178.5L895.5 181.5L895.9 184.5L896.2 187.5L896.6 190.5L897.0 193.5L897.3 196.5L897.7 199.5L898.0 202.5L898.4 205.4L898.8 208.4L899.1 211.3L899.5 214.2L899.9 217.1L900.2 220.0L900.6 222.9L901.0 225.8L901.3 228.8L901.7 231.7L902.1 234.5L902.4 237.4L902.8 240.2L903.2 242.9L903.5 245.6L903.9 248.2L904.2 250.9L904.6 253.5L905.0 256.1L905.3 258.7L905.7 261.2L906.1 263.6L906.4 266.0L906.8 268.2L907.2 270.4L907.5 272.4L907.9 274.3L908.3 276.2L908.6 278.1L909.0 279.9L909.3 281.6L909.7 283.3L910.1 285.0L910.4 286.6L910.8 288.2L911.2 289.8L911.5 291.4L911.9 292.9L912.3 294.4L912.6 295.9L913.0 297.4L913.4 298.9L913.7 300.3L914.1 301.8L914.5 303.3L914.8 304.7L915.2 306.2L915.5 307.7L915.9 309.2L916.3 310.7L916.6 312.3L917.0 313.8L917.4 315.4L917.7 317.1L918.1 318.7L918.5 320.4L918.8 322.2L919.2 324.0L919.6 325.8L919.9 327.7L920.3 329.5L920.7 331.3L921.0 333.1L921.4 334.9L921.7 336.6L922.1 338.3L922.5 339.9L922.8 341.4L923.2 342.9L923.6 344.3L923.9 345.8L924.3 347.2L924.7 348.6L925.0 349.9L925.4 351.3L925.8 352.6L926.1 353.9L926.5 355.2L926.8 356.4L927.2 357.7L927.6 358.8L927.9 360.0L928.3 361.1L928.7 362.2L929.0 363.3L929.4 364.3L929.8 365.3L930.1 366.2L930.5 367.2L930.9 368.1L931.2 369.0L931.6 369.8L932.0 370.7L932.3 371.5L932.7 372.3L933.0 373.1L933.4 373.8L933.8 374.6L934.1 375.3L934.5 376.0L934.9 376.7L935.2 377.4L935.6 378.0L936.0 378.7L936.3 379.3L936.7 379.9L937.1 380.5L937.4 381.1L937.8 381.7L938.1 382.3L938.5 382.9L938.9 383.5L939.2 384.1L939.6 384.7L940.0 385.4L940.3 386.0L940.7 386.6L941.1 387.3L941.4 388.0L941.8 388.6L942.2 389.3L942.5 390.0L942.9 390.6L943.3 391.3L943.6 392.0L944.0 392.7L944.3 393.3L944.7 394.0L945.1 394.7L945.4 395.4L945.8 396.0L946.2 396.7L946.5 397.3L946.9 398.0L947.3 398.6L947.6 399.3L948.0 399.9L948.4 400.5L948.7 401.1L949.1 401.7L949.5 402.3L949.8 402.9L950.2 403.6L950.5 404.2L950.9 404.8L951.3 405.4L951.6 406.0L952.0 406.6L952.4 407.2L952.7 407.8L953.1 408.4L953.5 409.0L953.8 409.5L954.2 410.1L954.6 410.6L954.9 411.1L955.3 411.6L955.6 412.0L956.0 412.5L956.4 412.9L956.7 413.3L957.1 413.7L957.5 414.1L957.8 414.4L958.2 414.8L958.6 415.2L958.9 415.6L959.3 416.0L959.7 416.4L960.0 416.8L960.4 417.2L960.8 417.5L961.1 417.9L961.5 418.2L961.8 418.6L962.2 418.9L962.6 419.2L962.9 419.5L963.3 419.8L963.7 420.0L964.0 420.3L964.4 420.5L964.8 420.7L965.1 420.9L965.5 421.0L965.9 421.2L966.2 421.3L966.6 421.3L966.9 421.4L967.3 421.4L967.7 421.4L968.0 421.3L968.4 421.3L968.8 421.3L969.1 421.2L969.5 421.1L969.9 421.0L970.2 420.9L970.6 420.9L971.0 420.7L971.3 420.6L971.7 420.5L972.1 420.4L972.4 420.3L972.8 420.2L973.1 420.0L973.5 419.9L973.9 419.8L974.2 419.7L974.6 419.6L975.0 419.5L975.3 419.4L975.7 419.3L976.1 419.2L976.4 419.1L976.8 419.0L977.2 418.9L977.5 418.8L977.9 418.7L978.2 418.7" stroke="#000080" stroke-width="6.5" stroke-linecap="round" stroke-dasharray="0.01 11.63" stroke-dashoffset="5.80"/>
</g>
<line x1="176.6" y1="61.0" x2="983.4" y2="61.0" stroke="#000" stroke-width="3.4" stroke-dasharray="14.5 7.2 5.4 7.2 5.4 7.3"/>
<g stroke="#000" stroke-width="3.4" fill="none" stroke-linecap="butt">
<rect x="176.6" y="4.4" width="801.65" height="643.9"/>
<line x1="176.60" y1="648.3" x2="176.60" y2="660.80"/>
<line x1="226.70" y1="648.3" x2="226.70" y2="654.50"/>
<line x1="226.70" y1="4.4" x2="226.70" y2="10.60"/>
<line x1="276.81" y1="648.3" x2="276.81" y2="660.80"/>
<line x1="276.81" y1="4.4" x2="276.81" y2="16.40"/>
<line x1="326.91" y1="648.3" x2="326.91" y2="654.50"/>
<line x1="326.91" y1="4.4" x2="326.91" y2="10.60"/>
<line x1="377.01" y1="648.3" x2="377.01" y2="660.80"/>
<line x1="377.01" y1="4.4" x2="377.01" y2="16.40"/>
<line x1="427.12" y1="648.3" x2="427.12" y2="654.50"/>
<line x1="427.12" y1="4.4" x2="427.12" y2="10.60"/>
<line x1="477.22" y1="648.3" x2="477.22" y2="660.80"/>
<line x1="477.22" y1="4.4" x2="477.22" y2="16.40"/>
<line x1="527.32" y1="648.3" x2="527.32" y2="654.50"/>
<line x1="527.32" y1="4.4" x2="527.32" y2="10.60"/>
<line x1="577.42" y1="648.3" x2="577.42" y2="660.80"/>
<line x1="577.42" y1="4.4" x2="577.42" y2="16.40"/>
<line x1="627.53" y1="648.3" x2="627.53" y2="654.50"/>
<line x1="627.53" y1="4.4" x2="627.53" y2="10.60"/>
<line x1="677.63" y1="648.3" x2="677.63" y2="660.80"/>
<line x1="677.63" y1="4.4" x2="677.63" y2="16.40"/>
<line x1="727.73" y1="648.3" x2="727.73" y2="654.50"/>
<line x1="727.73" y1="4.4" x2="727.73" y2="10.60"/>
<line x1="777.84" y1="648.3" x2="777.84" y2="660.80"/>
<line x1="777.84" y1="4.4" x2="777.84" y2="16.40"/>
<line x1="827.94" y1="648.3" x2="827.94" y2="654.50"/>
<line x1="827.94" y1="4.4" x2="827.94" y2="10.60"/>
<line x1="878.04" y1="648.3" x2="878.04" y2="660.80"/>
<line x1="878.04" y1="4.4" x2="878.04" y2="16.40"/>
<line x1="928.15" y1="648.3" x2="928.15" y2="654.50"/>
<line x1="928.15" y1="4.4" x2="928.15" y2="10.60"/>
<line x1="978.25" y1="648.3" x2="978.25" y2="660.80"/>
<line x1="170.20" y1="4.55" x2="176.6" y2="4.55"/>
<line x1="163.90" y1="61.00" x2="176.6" y2="61.00"/>
<line x1="965.55" y1="61.00" x2="978.25" y2="61.00"/>
<line x1="170.20" y1="117.45" x2="176.6" y2="117.45"/>
<line x1="971.85" y1="117.45" x2="978.25" y2="117.45"/>
<line x1="163.90" y1="173.90" x2="176.6" y2="173.90"/>
<line x1="965.55" y1="173.90" x2="978.25" y2="173.90"/>
<line x1="170.20" y1="230.35" x2="176.6" y2="230.35"/>
<line x1="971.85" y1="230.35" x2="978.25" y2="230.35"/>
<line x1="163.90" y1="286.80" x2="176.6" y2="286.80"/>
<line x1="965.55" y1="286.80" x2="978.25" y2="286.80"/>
<line x1="170.20" y1="343.25" x2="176.6" y2="343.25"/>
<line x1="971.85" y1="343.25" x2="978.25" y2="343.25"/>
<line x1="163.90" y1="399.70" x2="176.6" y2="399.70"/>
<line x1="965.55" y1="399.70" x2="978.25" y2="399.70"/>
<line x1="170.20" y1="456.15" x2="176.6" y2="456.15"/>
<line x1="971.85" y1="456.15" x2="978.25" y2="456.15"/>
<line x1="163.90" y1="512.60" x2="176.6" y2="512.60"/>
<line x1="965.55" y1="512.60" x2="978.25" y2="512.60"/>
<line x1="170.20" y1="569.05" x2="176.6" y2="569.05"/>
<line x1="971.85" y1="569.05" x2="978.25" y2="569.05"/>
<line x1="163.90" y1="625.50" x2="176.6" y2="625.50"/>
<line x1="965.55" y1="625.50" x2="978.25" y2="625.50"/>
</g>
<g font-size="42.7" fill="#000">
<path transform="translate(71.91 73.30) scale(0.02085 -0.02085)" d="M806 0H525V1059Q371 915 162 846V1101Q272 1137 401 1237.5Q530 1338 578 1472H806Z"/><text transform="translate(95.65 73.30) scale(1 1.042)">.00</text>
<text transform="translate(71.91 186.20) scale(1 1.042)">0.75</text>
<text transform="translate(71.91 299.10) scale(1 1.042)">0.50</text>
<text transform="translate(71.91 412.00) scale(1 1.042)">0.25</text>
<text transform="translate(71.91 524.90) scale(1 1.042)">0.00</text>
<text transform="translate(57.69 637.80) scale(1 1.042)">-0.25</text>
<text transform="translate(164.73 703.10) scale(1 1.042)">2</text>
<text transform="translate(264.94 703.10) scale(1 1.042)">4</text>
<text transform="translate(365.14 703.10) scale(1 1.042)">6</text>
<text transform="translate(465.35 703.10) scale(1 1.042)">8</text>
<path transform="translate(553.68 703.10) scale(0.02085 -0.02085)" d="M806 0H525V1059Q371 915 162 846V1101Q272 1137 401 1237.5Q530 1338 578 1472H806Z"/><text transform="translate(577.42 703.10) scale(1 1.042)">0</text>
<path transform="translate(653.89 703.10) scale(0.02085 -0.02085)" d="M806 0H525V1059Q371 915 162 846V1101Q272 1137 401 1237.5Q530 1338 578 1472H806Z"/><text transform="translate(677.63 703.10) scale(1 1.042)">2</text>
<path transform="translate(754.10 703.10) scale(0.02085 -0.02085)" d="M806 0H525V1059Q371 915 162 846V1101Q272 1137 401 1237.5Q530 1338 578 1472H806Z"/><text transform="translate(777.84 703.10) scale(1 1.042)">4</text>
<path transform="translate(854.30 703.10) scale(0.02085 -0.02085)" d="M806 0H525V1059Q371 915 162 846V1101Q272 1137 401 1237.5Q530 1338 578 1472H806Z"/><text transform="translate(878.04 703.10) scale(1 1.042)">6</text>
<path transform="translate(954.51 703.10) scale(0.02085 -0.02085)" d="M806 0H525V1059Q371 915 162 846V1101Q272 1137 401 1237.5Q530 1338 578 1472H806Z"/><text transform="translate(978.25 703.10) scale(1 1.042)">8</text>
</g>
<text transform="translate(577.6 751.5) scale(1 1.012)" font-size="42.6" text-anchor="middle">Frequency (GHz)</text>
<text transform="translate(34.4 313.7) rotate(-90) scale(1 1.012)" font-size="42.7" text-anchor="middle">Absorptance</text>
<line x1="207.80" y1="534.9" x2="284.00" y2="534.9" stroke="#ff0000" stroke-width="7.0" stroke-linecap="round" stroke-dasharray="24.8 35"/>
<text transform="translate(293.4 546.3) scale(1 1.012)" font-size="33.62">Split Gap=0.2 mm</text>
<line x1="586.40" y1="534.9" x2="662.00" y2="534.9" stroke="#00ff00" stroke-width="6.6" stroke-linecap="round" stroke-dasharray="3.8 31.4"/>
<text transform="translate(671.3 546.3) scale(1 1.012)" font-size="33.62">Split Gap=0.3 mm</text>
<line x1="207.80" y1="577.0" x2="284.00" y2="577.0" stroke="#0000ff" stroke-width="7.0" stroke-linecap="round" stroke-dasharray="30.7 20.2 3.9 20.2"/>
<text transform="translate(293.4 588.5) scale(1 1.012)" font-size="33.62">Split Gap=0.4 mm</text>
<line x1="586.60" y1="577.0" x2="661.80" y2="577.0" stroke="#000000" stroke-width="6.6" stroke-linecap="round"/>
<text transform="translate(671.3 588.5) scale(1 1.012)" font-size="33.62">Proposed=0.5 mm</text>
<line x1="207.80" y1="619.1" x2="284.00" y2="619.1" stroke="#ff00ff" stroke-width="6.8" stroke-linecap="round" stroke-dasharray="22.1 20.4 3.6 20.3 3.6 20.3"/>
<text transform="translate(293.4 630.8) scale(1 1.012)" font-size="33.62">Split Gap=0.6 mm</text>
<line x1="586.50" y1="619.1" x2="656.38" y2="619.1" stroke="#000080" stroke-width="6.5" stroke-linecap="round" stroke-dasharray="0.01 11.63"/>
<text transform="translate(671.3 630.8) scale(1 1.012)" font-size="33.62">Split Gap=0.7 mm</text>
</svg>
</body></html>
